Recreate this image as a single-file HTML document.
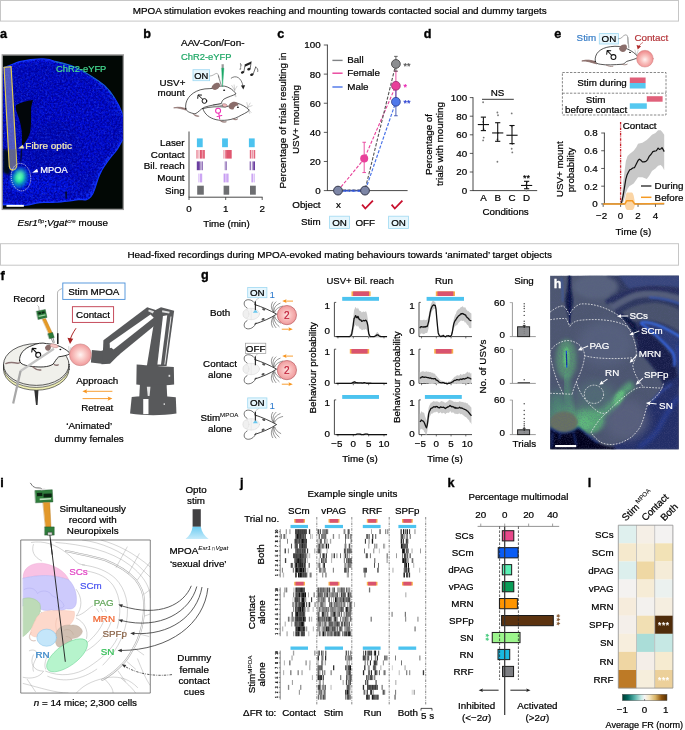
<!DOCTYPE html>
<html lang="en"><head><meta charset="utf-8"><title>MPOA stimulation figure</title>
<style>
html,body{margin:0;padding:0;background:#fff;}
body{width:685px;height:730px;overflow:hidden;}
svg{display:block;font-family:"Liberation Sans",sans-serif;font-size:9.8px;fill:#000;}
</style></head><body>
<svg width="685" height="730" viewBox="0 0 685 730">
<g id="p_titles">
<rect x="0.50" y="0.50" width="678.00" height="20.60" fill="#fff" stroke="#c6c6c6" stroke-width="1" />
<text x="339.70" y="13.90" text-anchor="middle" textLength="414.00" lengthAdjust="spacingAndGlyphs" stroke="#000" stroke-width="0.22">MPOA stimulation evokes reaching and mounting towards contacted social and dummy targets</text>
<rect x="0.50" y="243.70" width="678.00" height="21.50" fill="#fff" stroke="#c6c6c6" stroke-width="1" />
<text x="339.70" y="257.80" text-anchor="middle" textLength="424.60" lengthAdjust="spacingAndGlyphs" stroke="#000" stroke-width="0.22">Head-fixed recordings during MPOA-evoked mating behaviours towards ‘animated’ target objects</text>
<text x="0.00" y="38.00" font-size="12.60" font-weight="bold" stroke="#000" stroke-width="0.35">a</text>
<text x="143.20" y="37.90" font-size="12.60" font-weight="bold" stroke="#000" stroke-width="0.35">b</text>
<text x="277.30" y="37.70" font-size="12.60" font-weight="bold" stroke="#000" stroke-width="0.35">c</text>
<text x="423.70" y="37.90" font-size="12.60" font-weight="bold" stroke="#000" stroke-width="0.35">d</text>
<text x="554.20" y="37.70" font-size="12.60" font-weight="bold" stroke="#000" stroke-width="0.35">e</text>
<text x="0.40" y="280.10" font-size="12.60" font-weight="bold" stroke="#000" stroke-width="0.35">f</text>
<text x="200.90" y="279.40" font-size="12.60" font-weight="bold" stroke="#000" stroke-width="0.35">g</text>
<text x="0.20" y="486.70" font-size="12.60" font-weight="bold" stroke="#000" stroke-width="0.35">i</text>
<text x="239.90" y="486.70" font-size="12.60" font-weight="bold" stroke="#000" stroke-width="0.35">j</text>
<text x="447.40" y="486.70" font-size="12.60" font-weight="bold" stroke="#000" stroke-width="0.35">k</text>
<text x="587.70" y="486.70" font-size="12.60" font-weight="bold" stroke="#000" stroke-width="0.35">l</text>
</g>
<g id="p_a">
<defs><filter id="aBlur" x="-20%" y="-20%" width="140%" height="140%"><feGaussianBlur stdDeviation="14"/></filter><filter id="aBlur2" x="-50%" y="-50%" width="200%" height="200%"><feGaussianBlur stdDeviation="9"/></filter><filter id="aBlur3" x="-50%" y="-50%" width="200%" height="200%"><feGaussianBlur stdDeviation="4"/></filter><filter id="aNoise" x="0" y="0" width="100%" height="100%"><feTurbulence type="fractalNoise" baseFrequency="0.11" numOctaves="3" seed="3" result="n"/><feColorMatrix in="n" type="matrix" values="0 0 0 0 0  0 0 0 0 0  0 0 0 0 0.3  0 0 0 4 -1.6"/><feComposite in2="SourceGraphic" operator="in"/></filter><filter id="aNoiseL" x="0" y="0" width="100%" height="100%"><feTurbulence type="fractalNoise" baseFrequency="0.12" numOctaves="2" seed="9" result="n"/><feColorMatrix in="n" type="matrix" values="0 0 0 0 0.04  0 0 0 0 0.1  0 0 0 0 1  0 0 0 3.4 -1.7"/><feComposite in2="SourceGraphic" operator="in"/></filter><clipPath id="aBrain"><path d="M0 84 C30 76 60 62 87 53 C120 45 160 40 191 41 C215 42 232 47 243 52 C300 62 340 80 370 97 C410 120 440 140 461 158 C480 176 495 195 505 212 C520 235 532 260 541 284 C546 300 552 320 552 340 L552 380 C548 390 544 396 538 402 C530 416 524 428 516 440 C508 452 498 462 489 473 C478 486 470 498 461 512 C452 524 446 536 440 550 C434 562 430 574 426 588 C423 598 420 606 417.5 615 C413 628 408 640 401 648 C394 656 388 660 379.5 662 C370 662 360 659 352 659 C342 660 334 663 325 664 C305 667 290 668 271 670 C262 671 252 672 243 672 C215 676 190 668 160 676 C130 686 100 690 60 684 C40 682 20 682 0 684 Z"/></clipPath><clipPath id="aClip"><rect x="13" y="25" width="529.5" height="677"/></clipPath><radialGradient id="aGreen" cx="0.5" cy="0.5" r="0.5"><stop offset="0" stop-color="#4dffb4"/><stop offset="0.3" stop-color="#1fe0a0" stop-opacity="0.95"/><stop offset="0.65" stop-color="#0aa0d0" stop-opacity="0.55"/><stop offset="1" stop-color="#0a60ff" stop-opacity="0"/></radialGradient></defs>
<g transform="translate(0,50) scale(0.22609)">
<rect x="7.00" y="18.50" width="541.50" height="689.50" fill="#9c9c9c" />
<rect x="13.00" y="25.00" width="529.50" height="677.00" fill="#020805" />
<g clip-path="url(#aClip)">
<path d="M0 84 C30 76 60 62 87 53 C120 45 160 40 191 41 C215 42 232 47 243 52 C300 62 340 80 370 97 C410 120 440 140 461 158 C480 176 495 195 505 212 C520 235 532 260 541 284 C546 300 552 320 552 340 L552 380 C548 390 544 396 538 402 C530 416 524 428 516 440 C508 452 498 462 489 473 C478 486 470 498 461 512 C452 524 446 536 440 550 C434 562 430 574 426 588 C423 598 420 606 417.5 615 C413 628 408 640 401 648 C394 656 388 660 379.5 662 C370 662 360 659 352 659 C342 660 334 663 325 664 C305 667 290 668 271 670 C262 671 252 672 243 672 C215 676 190 668 160 676 C130 686 100 690 60 684 C40 682 20 682 0 684 Z" fill="#0614e4" />
<path d="M0 84 C30 76 60 62 87 53 C120 45 160 40 191 41 C215 42 232 47 243 52 C300 62 340 80 370 97 C410 120 440 140 461 158 C480 176 495 195 505 212 C520 235 532 260 541 284 C546 300 552 320 552 340 L552 380 C548 390 544 396 538 402 C530 416 524 428 516 440 C508 452 498 462 489 473 C478 486 470 498 461 512 C452 524 446 536 440 550 C434 562 430 574 426 588 C423 598 420 606 417.5 615 C413 628 408 640 401 648 C394 656 388 660 379.5 662 C370 662 360 659 352 659 C342 660 334 663 325 664 C305 667 290 668 271 670 C262 671 252 672 243 672 C215 676 190 668 160 676 C130 686 100 690 60 684 C40 682 20 682 0 684 Z" fill="none" stroke="#1236ff" stroke-width="8" />
<path d="M243 52 C300 62 340 80 370 97 C410 120 440 140 461 158 C480 176 495 195 505 212" fill="none" stroke="#1fa08a" stroke-width="4" opacity="0.85"/>
<g clip-path="url(#aBrain)">
<path d="M0 84 C30 76 60 62 87 53 C120 45 160 40 191 41 C215 42 232 47 243 52 C300 62 340 80 370 97 C410 120 440 140 461 158 C480 176 495 195 505 212 C520 235 532 260 541 284 C546 300 552 320 552 340 L552 380 C548 390 544 396 538 402 C530 416 524 428 516 440 C508 452 498 462 489 473 C478 486 470 498 461 512 C452 524 446 536 440 550 C434 562 430 574 426 588 C423 598 420 606 417.5 615 C413 628 408 640 401 648 C394 656 388 660 379.5 662 C370 662 360 659 352 659 C342 660 334 663 325 664 C305 667 290 668 271 670 C262 671 252 672 243 672 C215 676 190 668 160 676 C130 686 100 690 60 684 C40 682 20 682 0 684 Z" fill="#040cc2" transform="translate(14,16) scale(0.955)" filter="url(#aBlur2)"/>
<ellipse cx="330.00" cy="330.00" rx="170.00" ry="210.00" fill="#050ed4" filter="url(#aBlur)" opacity="0.8"/>
<ellipse cx="180.00" cy="600.00" rx="170.00" ry="50.00" fill="#0614ee" filter="url(#aBlur)" opacity="0.7"/>
<ellipse cx="230.00" cy="150.00" rx="160.00" ry="60.00" fill="#0610cc" filter="url(#aBlur)" opacity="0.6"/>
<ellipse cx="250.00" cy="430.00" rx="110.00" ry="120.00" fill="#040ab4" filter="url(#aBlur)" opacity="0.7"/>
<path d="M505 450 C470 490 440 540 420 590 C410 620 395 640 375 650" fill="none" stroke="#1234ff" stroke-width="14" filter="url(#aBlur3)" opacity="0.85"/>
<path d="M420 120 C460 160 500 220 520 290" fill="none" stroke="#0e2cf4" stroke-width="16" filter="url(#aBlur2)" opacity="0.7"/>
<path d="M0 84 C30 76 60 62 87 53 C120 45 160 40 191 41 C215 42 232 47 243 52 C300 62 340 80 370 97 C410 120 440 140 461 158 C480 176 495 195 505 212 C520 235 532 260 541 284 C546 300 552 320 552 340 L552 380 C548 390 544 396 538 402 C530 416 524 428 516 440 C508 452 498 462 489 473 C478 486 470 498 461 512 C452 524 446 536 440 550 C434 562 430 574 426 588 C423 598 420 606 417.5 615 C413 628 408 640 401 648 C394 656 388 660 379.5 662 C370 662 360 659 352 659 C342 660 334 663 325 664 C305 667 290 668 271 670 C262 671 252 672 243 672 C215 676 190 668 160 676 C130 686 100 690 60 684 C40 682 20 682 0 684 Z" fill="#000" filter="url(#aNoise)" opacity="0.8"/>
<path d="M0 84 C30 76 60 62 87 53 C120 45 160 40 191 41 C215 42 232 47 243 52 C300 62 340 80 370 97 C410 120 440 140 461 158 C480 176 495 195 505 212 C520 235 532 260 541 284 C546 300 552 320 552 340 L552 380 C548 390 544 396 538 402 C530 416 524 428 516 440 C508 452 498 462 489 473 C478 486 470 498 461 512 C452 524 446 536 440 550 C434 562 430 574 426 588 C423 598 420 606 417.5 615 C413 628 408 640 401 648 C394 656 388 660 379.5 662 C370 662 360 659 352 659 C342 660 334 663 325 664 C305 667 290 668 271 670 C262 671 252 672 243 672 C215 676 190 668 160 676 C130 686 100 690 60 684 C40 682 20 682 0 684 Z" fill="#fff" filter="url(#aNoiseL)" opacity="0.35"/>
</g>
<path d="M70 244 C92 230 120 224 146 221 C140 240 137 255 137 270 C138 300 138 330 134 360 C128 384 114 406 97 428 C98 400 98 372 95 350 C92 330 86 310 82 296 C76 280 68 262 70 244 Z" fill="#02060a" />
<path d="M97 426 C100 446 98 476 92 506 C88 476 90 446 97 426 Z" fill="#040a40" />
<path d="M13 440 C24 436 34 440 42 450 L46 540 C40 556 28 552 13 540 Z" fill="#03081a" filter="url(#aBlur3)"/>
<path d="M288 626 L297 626 L295 658 L290 658 Z" fill="#030a30" />
<path d="M18 77 L49 74 L74 505 C76 532 46 542 41 515 Z" fill="#7c84c6" stroke="#e2cc52" stroke-width="5.2" fill-opacity="0.66"/>
<path d="M42 440 L70 438 L73 505 C72 524 48 530 44 510 Z" fill="#6a6a70" opacity="0.6"/>
<ellipse cx="86.00" cy="566.00" rx="48.00" ry="58.00" fill="url(#aGreen)" transform="rotate(20 86 566)"/>
<ellipse cx="88.00" cy="552.00" rx="13.00" ry="20.00" fill="#7dffc0" filter="url(#aBlur2)" opacity="0.7" transform="rotate(25 88 552)"/>
<ellipse cx="92.70" cy="562.50" rx="43.00" ry="61.00" fill="none" stroke="#fff" stroke-width="3.2" stroke-dasharray="5 4.4" transform="rotate(-6 92.7 562.5)"/>
<path d="M80 436 L107 436 L100 419 Z" fill="#f3e6a0" />
<path d="M142 543 L169 541 L164 525 Z" fill="#fff" />
<rect x="28.50" y="685.00" width="77.00" height="8.50" fill="#fff" />
</g>
</g>
<text x="56.00" y="72.00" fill="#46dc92" textLength="50.30" lengthAdjust="spacingAndGlyphs" stroke="#46dc92" stroke-width="0.22">ChR2-eYFP</text>
<text x="25.30" y="149.20" fill="#f6ecb4" textLength="46.60" lengthAdjust="spacingAndGlyphs" stroke="#f6ecb4" stroke-width="0.22">Fibre optic</text>
<text x="40.20" y="173.30" fill="#fff" textLength="27.60" lengthAdjust="spacingAndGlyphs" stroke="#fff" stroke-width="0.22">MPOA</text>
<text x="17.60" y="226.20" stroke="#000" stroke-width="0.22"><tspan font-style="italic">Esr1</tspan><tspan font-style="italic" font-size="6.2" stroke-width="0.06" dy="-3.6">flp</tspan><tspan dy="3.6">;</tspan><tspan font-style="italic">Vgat</tspan><tspan font-style="italic" font-size="6.2" stroke-width="0.06" dy="-3.6">cre</tspan><tspan dy="3.6"> mouse</tspan></text>
</g>
<g id="p_b">
<text x="181.00" y="46.30" textLength="63.50" lengthAdjust="spacingAndGlyphs" stroke="#000" stroke-width="0.22">AAV-Con/Fon-</text>
<text x="181.00" y="59.60" fill="#1fa866" textLength="50.50" lengthAdjust="spacingAndGlyphs" stroke="#1fa866" stroke-width="0.22">ChR2-eYFP</text>
<text x="159.50" y="86.30" stroke="#000" stroke-width="0.22">USV+</text>
<text x="157.50" y="96.40" stroke="#000" stroke-width="0.22">mount</text>
<rect x="193.00" y="69.70" width="16.60" height="11.00" fill="#e6f6fd" stroke="#9fd9f2" stroke-width="0.8" />
<text x="201.30" y="78.80" font-size="9.40" text-anchor="middle" stroke="#000" stroke-width="0.22">ON</text>
<g transform="translate(170,55) scale(0.13139)" stroke-linecap="round" stroke-linejoin="round">
<path d="M122 408 C95 400 70 392 28 402 C60 400 95 412 124 420 Z" fill="#8a6d6a" stroke="#8a6d6a" stroke-width="5" />
<path d="M120 408 C110 350 150 290 230 265 C280 250 320 262 350 248 C380 232 420 232 450 250 C475 262 492 280 502 296 C480 310 440 318 410 336 C400 345 392 356 392 368 C360 376 300 384 262 398 C230 412 215 440 190 448 C150 440 125 430 120 408 Z" fill="#fff" stroke="#1a1a1a" stroke-width="5.4" />
<path d="M250 408 C300 392 370 392 420 396 C450 392 480 370 510 366 C545 376 580 396 604 420 C585 440 550 452 520 470 C470 496 400 504 350 492 C300 480 262 450 250 408 Z" fill="#fff" stroke="#1a1a1a" stroke-width="5.4" />
<path d="M180 452 C195 456 210 462 222 466 C205 470 188 464 180 452 Z" fill="#8a6d6a" stroke="#8a6d6a" stroke-width="4" />
<path d="M380 498 C395 506 415 510 430 508 C412 516 392 512 380 498 Z" fill="#8a6d6a" stroke="#8a6d6a" stroke-width="4" />
<path d="M480 486 C492 490 506 490 516 486 C506 496 490 496 480 486 Z" fill="#8a6d6a" stroke="#8a6d6a" stroke-width="4" />
<path d="M330 380 C360 376 390 380 420 392" fill="none" stroke="#222" stroke-width="4" />
<path d="M400 372 C415 368 430 372 436 384 C430 396 415 398 404 392 Z" fill="#f2b8bc" stroke="#5a3a3a" stroke-width="3" />
<path d="M316 250 C322 222 352 204 372 214 C384 224 384 240 372 250 C356 268 334 276 316 250 Z" fill="#8a6d6a" />
<path d="M446 396 C446 372 470 352 494 356 C512 360 524 372 520 384 C500 384 488 396 484 412 C468 420 450 412 446 396 Z" fill="#8a6d6a" />
<ellipse cx="412.00" cy="268.00" rx="8.00" ry="6.00" fill="#111" />
<ellipse cx="517.00" cy="398.00" rx="8.00" ry="6.00" fill="#111" />
<line x1="492.00" y1="268.00" x2="470.00" y2="232.00" stroke="#777" stroke-width="2.5" />
<line x1="492.00" y1="268.00" x2="488.00" y2="228.00" stroke="#777" stroke-width="2.5" />
<line x1="492.00" y1="268.00" x2="510.00" y2="238.00" stroke="#777" stroke-width="2.5" />
<line x1="492.00" y1="300.00" x2="505.00" y2="312.00" stroke="#777" stroke-width="2.5" />
<line x1="492.00" y1="300.00" x2="498.00" y2="318.00" stroke="#777" stroke-width="2.5" />
<line x1="592.00" y1="398.00" x2="585.00" y2="362.00" stroke="#777" stroke-width="2.5" />
<line x1="592.00" y1="398.00" x2="610.00" y2="366.00" stroke="#777" stroke-width="2.5" />
<line x1="592.00" y1="398.00" x2="625.00" y2="385.00" stroke="#777" stroke-width="2.5" />
<line x1="596.00" y1="420.00" x2="618.00" y2="436.00" stroke="#777" stroke-width="2.5" />
<line x1="596.00" y1="420.00" x2="606.00" y2="444.00" stroke="#777" stroke-width="2.5" />
<circle cx="262.00" cy="350.00" r="18.00" fill="none" stroke="#111" stroke-width="7.5" />
<path d="M249 337 L216 306 M211 330 L214 304 L240 305" fill="none" stroke="#111" stroke-width="7.5" />
<circle cx="366.00" cy="424.00" r="19.00" fill="none" stroke="#ee2fb4" stroke-width="8" />
<path d="M371 444 L378 484 M358 468 L394 461" fill="none" stroke="#ee2fb4" stroke-width="8" />
<path d="M392 70 L410 70 L408 110 L394 110 Z" fill="#999" stroke="none" />
<path d="M394 100 L410 100 L400 240 Z" fill="#18a866" stroke="#18a866" stroke-width="3" />
<path d="M368 158 L392 238" fill="none" stroke="#999" stroke-width="8" />
<path d="M304 160 C330 160 340 140 356 140 C368 142 368 156 372 170" fill="none" stroke="#444" stroke-width="3" />
<path d="M466 176 C500 150 545 170 556 238" fill="none" stroke="#222" stroke-width="4.5" />
<path d="M540 232 L558 262 L572 230 Z" fill="#222" />
<ellipse cx="552.00" cy="132.00" rx="13.00" ry="9.75" fill="#222" transform="rotate(-20 552 132)"/>
<line x1="562.00" y1="130.00" x2="572.00" y2="72.00" stroke="#222" stroke-width="5" />
<ellipse cx="600.00" cy="108.00" rx="13.00" ry="9.75" fill="#222" transform="rotate(-20 600 108)"/>
<line x1="610.00" y1="106.00" x2="618.00" y2="52.00" stroke="#222" stroke-width="5" />
<path d="M572 70 L618 50 L616 68 L570 90 Z" fill="#222" />
<ellipse cx="622.00" cy="150.00" rx="13.00" ry="9.75" fill="#222" transform="rotate(-20 622 150)"/>
<line x1="632.00" y1="148.00" x2="652.00" y2="92.00" stroke="#222" stroke-width="5" />
<path d="M652 92 C664 96 672 110 668 126" fill="none" stroke="#222" stroke-width="4.5" />
<path d="M536 66 L538 104 M536 66 C546 70 548 78 544 84" fill="none" stroke="#222" stroke-width="3" />
<ellipse cx="534.00" cy="106.00" rx="5.00" ry="4.00" fill="#222" />
</g>
<line x1="189.00" y1="131.50" x2="189.00" y2="197.20" stroke="#333" stroke-width="0.9" />
<line x1="188.60" y1="197.20" x2="262.60" y2="197.20" stroke="#333" stroke-width="0.9" />
<line x1="189.00" y1="197.20" x2="189.00" y2="200.00" stroke="#333" stroke-width="0.8" />
<line x1="225.70" y1="197.20" x2="225.70" y2="200.00" stroke="#333" stroke-width="0.8" />
<line x1="262.20" y1="197.20" x2="262.20" y2="200.00" stroke="#333" stroke-width="0.8" />
<text x="189.00" y="212.00" text-anchor="middle" stroke="#000" stroke-width="0.22">0</text>
<text x="225.70" y="212.00" text-anchor="middle" stroke="#000" stroke-width="0.22">1</text>
<text x="262.20" y="212.00" text-anchor="middle" stroke="#000" stroke-width="0.22">2</text>
<text x="226.50" y="227.00" text-anchor="middle" stroke="#000" stroke-width="0.22">Time (min)</text>
<text x="184.60" y="146.10" text-anchor="end" stroke="#000" stroke-width="0.22">Laser</text>
<text x="184.60" y="157.60" text-anchor="end" stroke="#000" stroke-width="0.22">Contact</text>
<text x="184.60" y="169.20" text-anchor="end" stroke="#000" stroke-width="0.22">Bil. reach</text>
<text x="184.60" y="181.40" text-anchor="end" stroke="#000" stroke-width="0.22">Mount</text>
<text x="184.60" y="193.60" text-anchor="end" stroke="#000" stroke-width="0.22">Sing</text>
<rect x="196.90" y="138.40" width="5.80" height="8.80" fill="#4cc3ef" />
<rect x="222.10" y="138.40" width="5.80" height="8.80" fill="#4cc3ef" />
<rect x="248.90" y="138.40" width="5.80" height="8.80" fill="#4cc3ef" />
<rect x="196.50" y="150.00" width="1.00" height="8.60" fill="#e0566f" opacity="1"/><rect x="198.30" y="150.00" width="0.60" height="8.60" fill="#e0566f" opacity="0.6"/><rect x="199.70" y="150.00" width="2.20" height="8.60" fill="#e0566f" opacity="1"/><rect x="202.30" y="150.00" width="2.60" height="8.60" fill="#e0566f" opacity="0.9"/>
<rect x="223.50" y="150.00" width="0.80" height="8.60" fill="#e0566f" opacity="0.8"/><rect x="224.90" y="150.00" width="1.00" height="8.60" fill="#e0566f" opacity="0.8"/><rect x="226.10" y="150.00" width="5.60" height="8.60" fill="#e0566f" opacity="1"/>
<rect x="249.80" y="150.00" width="1.60" height="8.60" fill="#e0566f" opacity="0.9"/><rect x="252.00" y="150.00" width="1.40" height="8.60" fill="#e0566f" opacity="0.6"/><rect x="253.80" y="150.00" width="1.40" height="8.60" fill="#e0566f" opacity="0.9"/>
<rect x="196.80" y="161.40" width="3.00" height="8.80" fill="#6b3fa0" opacity="1"/><rect x="199.80" y="161.40" width="1.20" height="8.80" fill="#6b3fa0" opacity="0.5"/><rect x="201.40" y="161.40" width="1.60" height="8.80" fill="#6b3fa0" opacity="0.7"/>
<rect x="224.60" y="161.40" width="0.60" height="8.80" fill="#6b3fa0" opacity="0.5"/><rect x="225.50" y="161.40" width="1.20" height="8.80" fill="#6b3fa0" opacity="0.9"/>
<rect x="249.60" y="161.40" width="1.40" height="8.80" fill="#6b3fa0" opacity="0.7"/><rect x="251.80" y="161.40" width="1.20" height="8.80" fill="#6b3fa0" opacity="0.5"/><rect x="253.20" y="161.40" width="1.80" height="8.80" fill="#6b3fa0" opacity="1"/>
<rect x="198.20" y="173.60" width="0.80" height="8.80" fill="#c79cf2" opacity="0.6"/><rect x="199.60" y="173.60" width="2.60" height="8.80" fill="#c79cf2" opacity="0.9"/>
<rect x="223.60" y="173.60" width="2.00" height="8.80" fill="#c79cf2" opacity="1"/><rect x="226.20" y="173.60" width="2.40" height="8.80" fill="#c79cf2" opacity="0.9"/>
<rect x="251.40" y="173.60" width="2.00" height="8.80" fill="#c79cf2" opacity="0.9"/><rect x="254.00" y="173.60" width="1.00" height="8.80" fill="#c79cf2" opacity="0.6"/>
<rect x="197.20" y="185.70" width="6.60" height="9.00" fill="#6d6e71" />
<rect x="223.60" y="185.70" width="5.60" height="9.00" fill="#6d6e71" />
<rect x="250.00" y="185.70" width="5.80" height="9.00" fill="#6d6e71" />
</g>
<g id="p_c">
<line x1="327.40" y1="44.60" x2="327.40" y2="191.00" stroke="#333" stroke-width="0.9" />
<line x1="327.40" y1="190.60" x2="407.60" y2="190.60" stroke="#333" stroke-width="0.9" />
<line x1="323.80" y1="190.60" x2="327.40" y2="190.60" stroke="#333" stroke-width="0.8" />
<text x="320.60" y="194.00" text-anchor="end" stroke="#000" stroke-width="0.22">0</text>
<line x1="323.80" y1="161.48" x2="327.40" y2="161.48" stroke="#333" stroke-width="0.8" />
<text x="320.60" y="164.88" text-anchor="end" stroke="#000" stroke-width="0.22">20</text>
<line x1="323.80" y1="132.36" x2="327.40" y2="132.36" stroke="#333" stroke-width="0.8" />
<text x="320.60" y="135.76" text-anchor="end" stroke="#000" stroke-width="0.22">40</text>
<line x1="323.80" y1="103.24" x2="327.40" y2="103.24" stroke="#333" stroke-width="0.8" />
<text x="320.60" y="106.64" text-anchor="end" stroke="#000" stroke-width="0.22">60</text>
<line x1="323.80" y1="74.12" x2="327.40" y2="74.12" stroke="#333" stroke-width="0.8" />
<text x="320.60" y="77.52" text-anchor="end" stroke="#000" stroke-width="0.22">80</text>
<line x1="323.80" y1="45.00" x2="327.40" y2="45.00" stroke="#333" stroke-width="0.8" />
<text x="320.60" y="48.40" text-anchor="end" stroke="#000" stroke-width="0.22">100</text>
<text x="285.80" y="120.50" text-anchor="middle" transform="rotate(-90 285.80 120.50)" textLength="136.00" lengthAdjust="spacingAndGlyphs" stroke="#000" stroke-width="0.22">Percentage of trials resulting in</text>
<text x="299.00" y="119.50" text-anchor="middle" transform="rotate(-90 299.00 119.50)" stroke="#000" stroke-width="0.22">USV+ mounting</text>
<line x1="332.40" y1="60.40" x2="342.60" y2="60.40" stroke="#808285" stroke-width="1.4" />
<text x="347.30" y="63.30" stroke="#000" stroke-width="0.22">Ball</text>
<line x1="332.40" y1="73.20" x2="342.60" y2="73.20" stroke="#e8409a" stroke-width="1.4" />
<text x="347.30" y="76.10" stroke="#000" stroke-width="0.22">Female</text>
<line x1="332.40" y1="87.00" x2="342.60" y2="87.00" stroke="#4a73e8" stroke-width="1.4" />
<text x="347.30" y="89.90" stroke="#000" stroke-width="0.22">Male</text>
<path d="M338.00 190.60 L364.20 158.86 L395.90 85.77" fill="none" stroke="#e8409a" stroke-width="1.1" stroke-dasharray="3.2 1.6"/>
<path d="M338.00 190.00 L365.00 190.00 L395.90 63.93" fill="none" stroke="#555" stroke-width="1.1" stroke-dasharray="3.2 1.6"/>
<path d="M338.00 191.20 L365.00 191.20 L395.90 101.78" fill="none" stroke="#4a73e8" stroke-width="1.2" stroke-dasharray="3.2 1.6"/>
<line x1="338.00" y1="190.60" x2="365.00" y2="190.60" stroke="#3050d0" stroke-width="1.6" stroke-dasharray="3.2 1.2 1 1.2"/>
<line x1="364.20" y1="172.55" x2="364.20" y2="142.26" stroke="#e8409a" stroke-width="0.9" /><line x1="362.40" y1="172.55" x2="366.00" y2="172.55" stroke="#e8409a" stroke-width="0.9" /><line x1="362.40" y1="142.26" x2="366.00" y2="142.26" stroke="#e8409a" stroke-width="0.9" />
<line x1="395.90" y1="98.87" x2="395.90" y2="71.21" stroke="#e8409a" stroke-width="0.9" /><line x1="394.10" y1="98.87" x2="397.70" y2="98.87" stroke="#e8409a" stroke-width="0.9" /><line x1="394.10" y1="71.21" x2="397.70" y2="71.21" stroke="#e8409a" stroke-width="0.9" />
<line x1="395.90" y1="71.21" x2="395.90" y2="56.36" stroke="#555" stroke-width="0.9" /><line x1="394.10" y1="71.21" x2="397.70" y2="71.21" stroke="#555" stroke-width="0.9" /><line x1="394.10" y1="56.36" x2="397.70" y2="56.36" stroke="#555" stroke-width="0.9" />
<line x1="395.90" y1="115.76" x2="395.90" y2="87.22" stroke="#3a4fb0" stroke-width="0.9" /><line x1="394.10" y1="115.76" x2="397.70" y2="115.76" stroke="#3a4fb0" stroke-width="0.9" /><line x1="394.10" y1="87.22" x2="397.70" y2="87.22" stroke="#3a4fb0" stroke-width="0.9" />
<circle cx="364.20" cy="158.56" r="4.00" fill="#e8409a" />
<circle cx="395.90" cy="85.77" r="4.40" fill="#e8409a" stroke="#8a2a6a" stroke-width="0.7" />
<circle cx="395.90" cy="63.93" r="4.40" fill="#8c8e91" stroke="#3a3a3a" stroke-width="0.8" />
<circle cx="395.90" cy="101.78" r="4.40" fill="#4f78ea" stroke="#2a3a8a" stroke-width="0.8" />
<circle cx="338.00" cy="190.60" r="4.40" fill="#7d86a6" stroke="#33364a" stroke-width="1.0" />
<circle cx="365.00" cy="190.60" r="4.40" fill="#7d86a6" stroke="#33364a" stroke-width="1.0" />
<text x="403.60" y="68.53" font-size="9.00" fill="#555" stroke="#555" stroke-width="0.22">**</text>
<text x="403.60" y="90.37" font-size="9.00" fill="#e820b0" stroke="#e820b0" stroke-width="0.22">*</text>
<text x="403.60" y="106.38" font-size="9.00" fill="#2a40d0" stroke="#2a40d0" stroke-width="0.22">**</text>
<text x="320.60" y="207.80" text-anchor="end" stroke="#000" stroke-width="0.22">Object</text>
<text x="338.40" y="207.60" text-anchor="middle" stroke="#000" stroke-width="0.22">x</text>
<path d="M362.10 204.70 l3.2 3.8 l7.6 -7.9" fill="none" stroke="#c8102e" stroke-width="1.8" stroke-linejoin="miter"/>
<path d="M391.60 204.70 l3.2 3.8 l7.6 -7.9" fill="none" stroke="#c8102e" stroke-width="1.8" stroke-linejoin="miter"/>
<text x="320.60" y="224.60" text-anchor="end" stroke="#000" stroke-width="0.22">Stim</text>
<rect x="329.60" y="216.20" width="19.80" height="12.40" fill="#e6f6fd" stroke="#9fd9f2" stroke-width="0.8" />
<text x="339.50" y="225.60" text-anchor="middle" stroke="#000" stroke-width="0.22">ON</text>
<text x="365.20" y="225.60" text-anchor="middle" stroke="#000" stroke-width="0.22">OFF</text>
<rect x="388.60" y="216.20" width="19.80" height="12.40" fill="#e6f6fd" stroke="#9fd9f2" stroke-width="0.8" />
<text x="398.50" y="225.60" text-anchor="middle" stroke="#000" stroke-width="0.22">ON</text>
</g>
<g id="p_d">
<line x1="473.00" y1="97.20" x2="473.00" y2="191.00" stroke="#333" stroke-width="0.9" />
<line x1="473.00" y1="190.60" x2="537.20" y2="190.60" stroke="#333" stroke-width="0.9" />
<line x1="469.80" y1="190.60" x2="473.00" y2="190.60" stroke="#333" stroke-width="0.8" />
<text x="467.20" y="194.00" text-anchor="end" stroke="#000" stroke-width="0.22">0</text>
<line x1="469.80" y1="172.00" x2="473.00" y2="172.00" stroke="#333" stroke-width="0.8" />
<text x="467.20" y="175.40" text-anchor="end" stroke="#000" stroke-width="0.22">20</text>
<line x1="469.80" y1="153.40" x2="473.00" y2="153.40" stroke="#333" stroke-width="0.8" />
<text x="467.20" y="156.80" text-anchor="end" stroke="#000" stroke-width="0.22">40</text>
<line x1="469.80" y1="134.80" x2="473.00" y2="134.80" stroke="#333" stroke-width="0.8" />
<text x="467.20" y="138.20" text-anchor="end" stroke="#000" stroke-width="0.22">60</text>
<line x1="469.80" y1="116.20" x2="473.00" y2="116.20" stroke="#333" stroke-width="0.8" />
<text x="467.20" y="119.60" text-anchor="end" stroke="#000" stroke-width="0.22">80</text>
<line x1="469.80" y1="97.60" x2="473.00" y2="97.60" stroke="#333" stroke-width="0.8" />
<text x="467.20" y="101.00" text-anchor="end" stroke="#000" stroke-width="0.22">100</text>
<text x="432.40" y="144.50" text-anchor="middle" transform="rotate(-90 432.40 144.50)" stroke="#000" stroke-width="0.22">Percentage of</text>
<text x="443.20" y="144.00" text-anchor="middle" transform="rotate(-90 443.20 144.00)" stroke="#000" stroke-width="0.22">trials with mounting</text>
<text x="483.40" y="200.60" text-anchor="middle" stroke="#000" stroke-width="0.22">A</text>
<text x="497.70" y="200.60" text-anchor="middle" stroke="#000" stroke-width="0.22">B</text>
<text x="512.00" y="200.60" text-anchor="middle" stroke="#000" stroke-width="0.22">C</text>
<text x="526.60" y="200.60" text-anchor="middle" stroke="#000" stroke-width="0.22">D</text>
<text x="505.60" y="215.40" text-anchor="middle" stroke="#000" stroke-width="0.22">Conditions</text>
<text x="497.60" y="95.60" text-anchor="middle" stroke="#000" stroke-width="0.22">NS</text>
<line x1="482.00" y1="99.30" x2="513.80" y2="99.30" stroke="#222" stroke-width="0.9" />
<circle cx="483.10" cy="102.25" r="0.90" fill="#7a7a7a" />
<circle cx="483.70" cy="137.59" r="0.90" fill="#7a7a7a" />
<circle cx="483.10" cy="140.38" r="0.90" fill="#7a7a7a" />
<circle cx="483.70" cy="129.22" r="0.90" fill="#7a7a7a" />
<circle cx="483.10" cy="121.78" r="0.90" fill="#7a7a7a" />
<line x1="483.40" y1="130.61" x2="483.40" y2="117.13" stroke="#111" stroke-width="1.1" />
<line x1="480.80" y1="130.61" x2="486.00" y2="130.61" stroke="#111" stroke-width="1.1" />
<line x1="480.80" y1="117.13" x2="486.00" y2="117.13" stroke="#111" stroke-width="1.1" />
<line x1="477.80" y1="124.57" x2="489.00" y2="124.57" stroke="#111" stroke-width="1.1" />
<circle cx="497.40" cy="112.48" r="0.90" fill="#7a7a7a" />
<circle cx="498.00" cy="115.27" r="0.90" fill="#7a7a7a" />
<circle cx="497.40" cy="161.77" r="0.90" fill="#7a7a7a" />
<circle cx="498.00" cy="132.94" r="0.90" fill="#7a7a7a" />
<circle cx="497.40" cy="139.45" r="0.90" fill="#7a7a7a" />
<line x1="497.70" y1="141.31" x2="497.70" y2="122.71" stroke="#111" stroke-width="1.1" />
<line x1="495.10" y1="141.31" x2="500.30" y2="141.31" stroke="#111" stroke-width="1.1" />
<line x1="495.10" y1="122.71" x2="500.30" y2="122.71" stroke="#111" stroke-width="1.1" />
<line x1="492.10" y1="132.94" x2="503.30" y2="132.94" stroke="#111" stroke-width="1.1" />
<circle cx="511.70" cy="113.41" r="0.90" fill="#7a7a7a" />
<circle cx="512.30" cy="144.10" r="0.90" fill="#7a7a7a" />
<circle cx="511.70" cy="148.75" r="0.90" fill="#7a7a7a" />
<circle cx="512.30" cy="152.47" r="0.90" fill="#7a7a7a" />
<circle cx="511.70" cy="126.43" r="0.90" fill="#7a7a7a" />
<line x1="512.00" y1="143.63" x2="512.00" y2="125.50" stroke="#111" stroke-width="1.1" />
<line x1="509.40" y1="143.63" x2="514.60" y2="143.63" stroke="#111" stroke-width="1.1" />
<line x1="509.40" y1="125.50" x2="514.60" y2="125.50" stroke="#111" stroke-width="1.1" />
<line x1="506.40" y1="135.26" x2="517.60" y2="135.26" stroke="#111" stroke-width="1.1" />
<circle cx="526.30" cy="190.60" r="0.90" fill="#7a7a7a" />
<circle cx="526.90" cy="182.23" r="0.90" fill="#7a7a7a" />
<circle cx="526.30" cy="185.02" r="0.90" fill="#7a7a7a" />
<circle cx="526.90" cy="187.81" r="0.90" fill="#7a7a7a" />
<line x1="526.60" y1="188.74" x2="526.60" y2="181.30" stroke="#111" stroke-width="1.1" />
<line x1="524.00" y1="188.74" x2="529.20" y2="188.74" stroke="#111" stroke-width="1.1" />
<line x1="524.00" y1="181.30" x2="529.20" y2="181.30" stroke="#111" stroke-width="1.1" />
<line x1="521.00" y1="185.48" x2="532.20" y2="185.48" stroke="#111" stroke-width="1.1" />
<text x="526.60" y="180.80" font-size="9.00" text-anchor="middle" stroke="#000" stroke-width="0.22">**</text>
</g>
<g id="p_e">
<text x="576.60" y="41.30" fill="#3a7fc8" stroke="#3a7fc8" stroke-width="0.22">Stim</text>
<rect x="599.30" y="33.60" width="19.20" height="10.40" fill="#e6f6fd" stroke="#9fd9f2" stroke-width="0.8" />
<text x="608.90" y="42.20" text-anchor="middle" stroke="#000" stroke-width="0.22">ON</text>
<text x="634.40" y="41.20" fill="#b5373c" stroke="#b5373c" stroke-width="0.22">Contact</text>
<defs><radialGradient id="ballG" cx="0.5" cy="0.55" r="0.5"><stop offset="0" stop-color="#fff1f0"/><stop offset="0.45" stop-color="#f9c3c0"/><stop offset="1" stop-color="#f08f90"/></radialGradient></defs>
<g transform="translate(545,25) scale(0.20437)" stroke-linecap="round" stroke-linejoin="round">
<path d="M250 180 C225 172 205 168 180 176 C205 174 228 184 252 190 Z" fill="#8a6d6a" stroke="#8a6d6a" stroke-width="4" />
<path d="M246 178 C240 140 270 112 320 106 C350 102 380 104 400 116 C425 126 445 142 458 158 C445 166 420 172 400 178 C392 184 388 190 380 192 C340 194 300 198 270 192 C255 190 248 186 246 178 Z" fill="#fff" stroke="#1a1a1a" stroke-width="3.6" />
<path d="M300 196 C310 202 322 204 332 202" fill="none" stroke="#8a6d6a" stroke-width="4" />
<path d="M378 192 C386 196 394 196 402 192" fill="none" stroke="#8a6d6a" stroke-width="4" />
<path d="M362 116 C366 100 384 92 398 98 C404 108 400 120 392 128 C382 136 368 132 362 116 Z" fill="#8a6d6a" />
<ellipse cx="416.00" cy="134.00" rx="4.50" ry="3.50" fill="#111" />
<line x1="448.00" y1="150.00" x2="440.00" y2="122.00" stroke="#777" stroke-width="1.6" />
<line x1="448.00" y1="150.00" x2="456.00" y2="124.00" stroke="#777" stroke-width="1.6" />
<line x1="448.00" y1="150.00" x2="466.00" y2="134.00" stroke="#777" stroke-width="1.6" />
<line x1="450.00" y1="160.00" x2="462.00" y2="172.00" stroke="#777" stroke-width="1.6" />
<circle cx="335.00" cy="157.00" r="12.00" fill="none" stroke="#111" stroke-width="5" />
<path d="M326 148 L305 127 M302 143 L304 125 L322 126" fill="none" stroke="#111" stroke-width="5" />
<path d="M360 68 C380 68 380 48 396 48 C408 50 404 70 406 90" fill="none" stroke="#444" stroke-width="2.2" />
<path d="M405 60 L410 112" fill="none" stroke="#aaa" stroke-width="6" />
<circle cx="489.00" cy="165.00" r="41.00" fill="url(#ballG)" stroke="#c97a7a" stroke-width="2" />
<path d="M478 86 C468 92 460 100 456 112" fill="none" stroke="#b02a2a" stroke-width="3" />
<path d="M448 98 L454 120 L470 104 Z" fill="#b02a2a" />
</g>
<rect x="562.40" y="72.50" width="103.60" height="42.50" fill="none" stroke="#555" stroke-width="0.7" stroke-dasharray="2.4 1.4"/>
<line x1="562.40" y1="93.20" x2="666.00" y2="93.20" stroke="#555" stroke-width="0.7" stroke-dasharray="2.4 1.4"/>
<text x="626.80" y="85.80" text-anchor="end" stroke="#000" stroke-width="0.22">Stim during</text>
<rect x="629.80" y="77.50" width="15.80" height="5.50" fill="#e0607a" />
<rect x="629.80" y="83.00" width="15.80" height="5.50" fill="#55c8f0" />
<text x="595.60" y="103.00" text-anchor="middle" stroke="#000" stroke-width="0.22">Stim</text>
<text x="627.20" y="112.60" text-anchor="end" stroke="#000" stroke-width="0.22">before contact</text>
<rect x="646.80" y="96.20" width="15.80" height="5.50" fill="#e0607a" />
<rect x="629.80" y="103.30" width="17.00" height="5.50" fill="#55c8f0" />
<line x1="604.40" y1="132.62" x2="604.40" y2="204.30" stroke="#333" stroke-width="0.9" />
<line x1="604.40" y1="203.90" x2="664.20" y2="203.90" stroke="#333" stroke-width="0.9" />
<line x1="601.20" y1="203.90" x2="604.40" y2="203.90" stroke="#333" stroke-width="0.8" />
<text x="597.80" y="207.30" text-anchor="end" stroke="#000" stroke-width="0.22">0</text>
<line x1="601.20" y1="186.18" x2="604.40" y2="186.18" stroke="#333" stroke-width="0.8" />
<text x="597.80" y="189.58" text-anchor="end" stroke="#000" stroke-width="0.22">0.2</text>
<line x1="601.20" y1="168.46" x2="604.40" y2="168.46" stroke="#333" stroke-width="0.8" />
<text x="597.80" y="171.86" text-anchor="end" stroke="#000" stroke-width="0.22">0.4</text>
<line x1="601.20" y1="150.74" x2="604.40" y2="150.74" stroke="#333" stroke-width="0.8" />
<text x="597.80" y="154.14" text-anchor="end" stroke="#000" stroke-width="0.22">0.6</text>
<line x1="601.20" y1="133.02" x2="604.40" y2="133.02" stroke="#333" stroke-width="0.8" />
<text x="597.80" y="136.42" text-anchor="end" stroke="#000" stroke-width="0.22">0.8</text>
<line x1="603.16" y1="203.90" x2="603.16" y2="206.90" stroke="#333" stroke-width="0.8" />
<text x="601.56" y="218.80" text-anchor="middle" stroke="#000" stroke-width="0.22">−2</text>
<line x1="620.60" y1="203.90" x2="620.60" y2="206.90" stroke="#333" stroke-width="0.8" />
<text x="620.60" y="218.80" text-anchor="middle" stroke="#000" stroke-width="0.22">0</text>
<line x1="638.04" y1="203.90" x2="638.04" y2="206.90" stroke="#333" stroke-width="0.8" />
<text x="638.04" y="218.80" text-anchor="middle" stroke="#000" stroke-width="0.22">2</text>
<line x1="655.48" y1="203.90" x2="655.48" y2="206.90" stroke="#333" stroke-width="0.8" />
<text x="655.48" y="218.80" text-anchor="middle" stroke="#000" stroke-width="0.22">4</text>
<text x="633.40" y="234.60" text-anchor="middle" stroke="#000" stroke-width="0.22">Time (s)</text>
<text x="562.60" y="169.20" text-anchor="middle" transform="rotate(-90 562.60 169.20)" stroke="#000" stroke-width="0.22">USV+ mount</text>
<text x="574.00" y="170.00" text-anchor="middle" transform="rotate(-90 574.00 170.00)" stroke="#000" stroke-width="0.22">probability</text>
<path d="M620.60 203.90 L621.91 196.81 L623.22 181.75 L625.83 161.37 L627.58 156.06 L629.32 154.28 L633.68 150.74 L636.30 147.20 L638.04 143.65 L642.40 142.77 L646.76 140.11 L649.38 137.45 L651.99 134.79 L655.48 133.02 L658.10 130.36 L660.71 130.36 L662.46 132.13 L664.20 134.79 L664.20 170.23 L662.46 166.69 L660.71 164.92 L658.10 165.80 L655.48 168.46 L651.99 171.12 L649.38 175.55 L646.76 179.09 L642.40 177.32 L638.04 177.32 L633.68 183.52 L629.32 186.18 L627.58 188.84 L625.83 193.27 L624.09 200.36 L622.34 203.90 L620.60 203.90 Z" fill="#c8c8c8" />
<path d="M624.52 203.90 C625.83 192.38 626.70 192.38 627.58 192.38 L631.94 192.38 C633.68 193.27 634.55 199.47 634.99 203.90 Z" fill="#fbd5a5" />
<path d="M624.52 203.90 L634.99 203.90 C634.55 208.33 632.81 210.10 631.94 210.10 L627.58 210.10 C626.27 210.10 625.40 208.33 624.52 203.90 Z" fill="#fbd5a5" />
<line x1="620.60" y1="122.00" x2="620.60" y2="203.90" stroke="#c8202a" stroke-width="1.3" stroke-dasharray="2.6 1 0.8 1"/>
<text x="622.80" y="129.40" stroke="#000" stroke-width="0.22">Contact</text>
<path d="M620.60 203.90 L621.91 201.24 L623.22 195.04 L624.52 187.07 L625.83 179.09 L627.14 174.66 L628.45 172.00 L629.76 169.79 L631.06 169.35 L632.81 168.02 L634.55 167.57 L636.30 164.03 L638.04 160.49 L639.35 159.16 L640.66 160.04 L642.40 161.81 L644.14 161.81 L645.89 161.37 L647.63 159.60 L649.38 156.06 L651.12 154.28 L652.86 151.63 L654.61 151.18 L656.35 150.74 L658.10 148.08 L659.40 149.41 L660.71 148.97 L662.02 147.64 L663.33 149.85 L664.20 151.63" fill="none" stroke="#111" stroke-width="1.2" stroke-linejoin="round"/>
<path d="M603.16 203.90 L624.96 203.90 L626.70 200.80 L632.37 200.80 L634.55 203.90 L664.20 203.46" fill="none" stroke="#f59a23" stroke-width="1.5" stroke-linejoin="round"/>
<line x1="641.00" y1="186.00" x2="651.40" y2="186.00" stroke="#111" stroke-width="1.2" />
<text x="654.60" y="189.40" stroke="#000" stroke-width="0.22">During</text>
<line x1="641.00" y1="197.30" x2="651.40" y2="197.30" stroke="#f59a23" stroke-width="1.5" />
<text x="654.60" y="200.60" stroke="#000" stroke-width="0.22">Before</text>
</g>
<g id="p_f">
<defs><radialGradient id="ballF" cx="0.5" cy="0.5" r="0.5"><stop offset="0" stop-color="#fff4f3"/><stop offset="0.4" stop-color="#fbd0cd"/><stop offset="1" stop-color="#f19a9b"/></radialGradient></defs>
<text x="13.20" y="302.00" stroke="#000" stroke-width="0.22">Record</text>
<rect x="62.80" y="283.00" width="62.20" height="16.40" fill="#fff" stroke="#4a90d9" stroke-width="0.9" />
<text x="93.80" y="294.70" text-anchor="middle" stroke="#000" stroke-width="0.22">Stim MPOA</text>
<rect x="72.40" y="306.70" width="41.20" height="15.70" fill="#fff" stroke="#c0394b" stroke-width="0.9" />
<text x="93.00" y="317.60" text-anchor="middle" stroke="#000" stroke-width="0.22">Contact</text>
<text x="97.30" y="384.20" text-anchor="middle" stroke="#000" stroke-width="0.22">Approach</text>
<text x="97.30" y="411.00" text-anchor="middle" stroke="#000" stroke-width="0.22">Retreat</text>
<text x="89.20" y="429.40" text-anchor="middle" stroke="#000" stroke-width="0.22">‘Animated’</text>
<text x="89.20" y="441.60" text-anchor="middle" stroke="#000" stroke-width="0.22">dummy females</text>
<line x1="85.00" y1="391.30" x2="112.40" y2="391.30" stroke="#f7941d" stroke-width="0.9" />
<path d="M82.4 391.3 L87.2 389.2 L86.2 391.3 L87.2 393.4 Z" fill="#f7941d" />
<line x1="82.60" y1="398.60" x2="109.60" y2="398.60" stroke="#f7941d" stroke-width="0.9" />
<path d="M112.4 398.6 L107.6 396.5 L108.6 398.6 L107.6 400.7 Z" fill="#f7941d" />
<g transform="translate(85,300) scale(0.16447)" stroke-linejoin="round">
<path d="M432 60 L462 44 L542 66 L496 402 L376 402 Z" fill="#58595b" />
<path d="M474 98 L500 92 L462 392 L440 392 Z" fill="#fff" />
<path d="M520 100 L526 100 L488 392 L482 392 Z" fill="#fff" opacity="0.85"/>
<path d="M470 62 L515 72 L512 82 L468 74 Z" fill="#fff" opacity="0.8"/>
<path d="M378 44 L434 62 L442 140 L205 335 L160 365 L108 335 L112 244 Z" fill="#58595b" />
<path d="M150 262 L398 88 L418 108 L170 304 L152 312 Z" fill="#fff" />
<path d="M388 58 L420 68 L412 82 L384 68 Z" fill="#fff" opacity="0.8"/>
<path d="M100 308 L160 290 L210 330 L152 388 L100 390 Z" fill="#58595b" />
<path d="M42 304 L104 310 L110 372 L150 360 L152 380 L100 388 L36 380 Z" fill="#58595b" />
<path d="M314 392 C380 398 470 402 540 408 L542 514 C470 522 380 522 312 514 Z" fill="#58595b" />
<rect x="508.00" y="455.00" width="10.00" height="12.00" fill="#fff" opacity="0.8"/>
<path d="M334 512 L496 512 L500 592 L330 592 Z" fill="#58595b" />
<path d="M376 528 L398 528 L392 590 L382 590 Z" fill="#fff" opacity="0.85"/>
<path d="M284 590 C370 582 470 582 552 592 L556 690 C470 704 360 704 274 690 Z" fill="#58595b" />
<rect x="354.00" y="602.00" width="32.00" height="92.00" fill="#fff" />
<rect x="478.00" y="628.00" width="8.00" height="10.00" fill="#fff" opacity="0.8"/>
</g>
<g transform="translate(0,290) scale(0.16059)" stroke-linecap="round" stroke-linejoin="round">
<path d="M212 610 L240 610 L234 716 L224 716 Z" fill="#333" />
<ellipse cx="226.00" cy="494.00" rx="204.00" ry="130.00" fill="#eeeeb4" stroke="#222" stroke-width="4" />
<ellipse cx="226.00" cy="477.00" rx="204.00" ry="130.00" fill="#ebebe6" stroke="#222" stroke-width="3.5" />
<ellipse cx="226.00" cy="464.00" rx="204.00" ry="130.00" fill="#f0f0eb" stroke="#222" stroke-width="4.5" />
<path d="M22 464 L22 494 M430 464 L430 494" fill="none" stroke="#222" stroke-width="4" />
<path d="M36 458 C60 448 90 452 110 456 C122 458 128 450 132 442" fill="none" stroke="#8c7474" stroke-width="9" />
<path d="M122 440 C118 400 150 362 200 346 C230 332 262 326 290 334 C330 336 372 346 400 366 C420 378 432 388 436 396 C420 408 392 412 366 416 C350 428 342 448 330 462 C300 482 250 482 200 476 C160 470 126 466 122 440 Z" fill="#fff" stroke="#1a1a1a" stroke-width="5.5" />
<path d="M205 480 C220 494 238 500 254 498" fill="none" stroke="#8c7474" stroke-width="9" />
<path d="M338 464 C346 470 354 470 362 466" fill="none" stroke="#8c7474" stroke-width="9" />
<path d="M280 360 C284 344 300 336 314 344 C322 356 316 372 304 378 C292 382 282 374 280 360 Z" fill="#8a6d6a" />
<ellipse cx="338.00" cy="348.00" rx="26.00" ry="11.00" fill="#f7c6c4" stroke="#b07a78" stroke-width="2.5" transform="rotate(12 338 348)"/>
<ellipse cx="376.00" cy="370.00" rx="6.00" ry="4.50" fill="#111" />
<line x1="430.00" y1="388.00" x2="428.00" y2="352.00" stroke="#777" stroke-width="2" />
<line x1="430.00" y1="388.00" x2="442.00" y2="358.00" stroke="#777" stroke-width="2" />
<line x1="432.00" y1="398.00" x2="446.00" y2="414.00" stroke="#777" stroke-width="2" />
<circle cx="238.00" cy="404.00" r="15.50" fill="none" stroke="#111" stroke-width="7" />
<path d="M228 392 L204 366 M198 386 L201 363 L224 365" fill="none" stroke="#111" stroke-width="7" />
<path d="M126 506 L336 366" fill="none" stroke="#c4c4c4" stroke-width="14" stroke-linecap="butt"/>
<path d="M128 504 L82 706" fill="none" stroke="#a8a8a8" stroke-width="14" stroke-linecap="butt"/>
<g transform="rotate(-12 260 152)">
<rect x="232.00" y="126.00" width="56.00" height="52.00" fill="#2c7a3c" stroke="#1a4a26" stroke-width="2" />
<rect x="240.00" y="136.00" width="16.00" height="12.00" fill="#0e2a16" />
<rect x="262.00" y="136.00" width="18.00" height="12.00" fill="#0e2a16" />
<rect x="238.00" y="156.00" width="44.00" height="8.00" fill="#9fd3a4" />
</g>
<path d="M244 126 C240 112 246 106 236 98" fill="none" stroke="#444" stroke-width="2.5" />
<path d="M264 182 L284 178 L326 268 L306 274 Z" fill="#e59a26" stroke="#a86a12" stroke-width="2" />
<path d="M298 272 L328 264 L338 296 L308 304 Z" fill="#2c7a3c" stroke="#1a4a26" stroke-width="2" />
<path d="M318 300 L332 330 M330 298 L338 326" fill="none" stroke="#222" stroke-width="3" />
<path d="M358 334 L358 20 C358 6 366 0 384 -8" fill="none" stroke="#444" stroke-width="2.5" />
<path d="M360 270 L360 336" fill="none" stroke="#111" stroke-width="9" stroke-linecap="butt"/>
<path d="M472 240 C452 270 440 292 436 316" fill="none" stroke="#a82020" stroke-width="6" />
<path d="M420 298 L436 336 L456 304 Z" fill="#a82020" />
</g>
<circle cx="80.40" cy="354.80" r="10.90" fill="url(#ballF)" stroke="#c98a8a" stroke-width="0.6" />
</g>
<g id="p_g">
<defs><radialGradient id="ballG2" cx="0.5" cy="0.5" r="0.5"><stop offset="0" stop-color="#fde4e2"/><stop offset="0.5" stop-color="#f8bcbb"/><stop offset="1" stop-color="#f09a9c"/></radialGradient></defs>
<text x="220.00" y="316.20" text-anchor="middle" stroke="#000" stroke-width="0.22">Both</text>
<text x="220.00" y="367.20" text-anchor="middle" stroke="#000" stroke-width="0.22">Contact</text>
<text x="220.00" y="378.20" text-anchor="middle" stroke="#000" stroke-width="0.22">alone</text>
<text x="200.50" y="420.60" stroke="#000" stroke-width="0.22">Stim<tspan font-size="6.2" stroke-width="0.06" dy="-3.8">MPOA</tspan></text>
<text x="220.00" y="431.50" text-anchor="middle" stroke="#000" stroke-width="0.22">alone</text>
<g transform="translate(195.00,265.00) scale(0.16059)" stroke-linecap="round" stroke-linejoin="round">
<ellipse cx="350.00" cy="305.00" rx="52.00" ry="36.00" fill="#f4f4f4" stroke="#cfcfcf" stroke-width="2.5" />
<ellipse cx="318.00" cy="305.00" rx="18.00" ry="26.00" fill="#f0f0f0" stroke="#d4d4d4" stroke-width="2" />
<path d="M350 270 L350 340" fill="none" stroke="#d8d8d8" stroke-width="2" />
<path d="M380 252 C372 226 340 208 316 220 C300 232 304 258 324 268" fill="none" stroke="#222" stroke-width="4" />
<path d="M380 360 C372 388 340 406 316 394 C300 382 304 356 324 346" fill="none" stroke="#222" stroke-width="4" />
<path d="M372 246 C420 262 470 284 508 306 C470 332 420 352 372 368" fill="none" stroke="#1a1a1a" stroke-width="5.2" />
<ellipse cx="428.00" cy="276.00" rx="10.00" ry="7.00" fill="#555" transform="rotate(25 428 276)"/>
<ellipse cx="424.00" cy="338.00" rx="10.00" ry="7.00" fill="#555" transform="rotate(-25 424 338)"/>
<path d="M488 292 C472 270 472 246 484 230" fill="none" stroke="#222" stroke-width="3.0" />
<path d="M490 292 C480 268 486 246 504 230" fill="none" stroke="#222" stroke-width="3.0" />
<path d="M493 290 C488 268 504 248 530 238" fill="none" stroke="#222" stroke-width="3.0" />
<path d="M497 292 C500 276 520 262 546 256" fill="none" stroke="#222" stroke-width="3.0" />
<path d="M488 322 C472 344 472 368 484 388" fill="none" stroke="#222" stroke-width="3.0" />
<path d="M490 322 C480 346 486 368 504 390" fill="none" stroke="#222" stroke-width="3.0" />
<path d="M493 324 C488 346 504 366 524 384" fill="none" stroke="#222" stroke-width="3.0" />
<path d="M497 322 C500 338 514 352 534 362" fill="none" stroke="#222" stroke-width="3.0" />
<path d="M376 226 L376 282" fill="none" stroke="#222" stroke-width="7" stroke-linecap="butt"/>
<path d="M372 282 L380 282 L392 298 L360 298 Z" fill="#6cc8ee" />
<path d="M376 226 C378 214 392 212 400 204" fill="none" stroke="#666" stroke-width="2" />
</g>
<circle cx="286.90" cy="315.10" r="9.60" fill="url(#ballG2)" stroke="#b85a5e" stroke-width="0.7" />
<text x="286.90" y="318.80" font-size="10.00" text-anchor="middle" fill="#c0203a" stroke="#c0203a" stroke-width="0.22">2</text>
<line x1="285.00" y1="301.10" x2="293.00" y2="301.10" stroke="#f7941d" stroke-width="0.9" />
<path d="M282.20 301.10 l4.4 -1.9 l-0.9 1.9 l0.9 1.9 Z" fill="#f7941d" />
<line x1="281.80" y1="329.20" x2="290.00" y2="329.20" stroke="#f7941d" stroke-width="0.9" />
<path d="M292.80 329.20 l-4.4 -1.9 l0.9 1.9 l-0.9 1.9 Z" fill="#f7941d" />
<rect x="247.70" y="287.50" width="19.20" height="10.20" fill="#e6f6fd" stroke="#9fd9f2" stroke-width="0.8" />
<text x="257.30" y="295.90" text-anchor="middle" stroke="#000" stroke-width="0.22">ON</text>
<text x="269.40" y="298.40" fill="#2a78cc" stroke="none">1</text>
<g transform="translate(195.00,320.00) scale(0.16059)" stroke-linecap="round" stroke-linejoin="round">
<ellipse cx="350.00" cy="305.00" rx="52.00" ry="36.00" fill="#f4f4f4" stroke="#cfcfcf" stroke-width="2.5" />
<ellipse cx="318.00" cy="305.00" rx="18.00" ry="26.00" fill="#f0f0f0" stroke="#d4d4d4" stroke-width="2" />
<path d="M350 270 L350 340" fill="none" stroke="#d8d8d8" stroke-width="2" />
<path d="M380 252 C372 226 340 208 316 220 C300 232 304 258 324 268" fill="none" stroke="#222" stroke-width="4" />
<path d="M380 360 C372 388 340 406 316 394 C300 382 304 356 324 346" fill="none" stroke="#222" stroke-width="4" />
<path d="M372 246 C420 262 470 284 508 306 C470 332 420 352 372 368" fill="none" stroke="#1a1a1a" stroke-width="5.2" />
<ellipse cx="428.00" cy="276.00" rx="10.00" ry="7.00" fill="#555" transform="rotate(25 428 276)"/>
<ellipse cx="424.00" cy="338.00" rx="10.00" ry="7.00" fill="#555" transform="rotate(-25 424 338)"/>
<path d="M488 292 C472 270 472 246 484 230" fill="none" stroke="#222" stroke-width="3.0" />
<path d="M490 292 C480 268 486 246 504 230" fill="none" stroke="#222" stroke-width="3.0" />
<path d="M493 290 C488 268 504 248 530 238" fill="none" stroke="#222" stroke-width="3.0" />
<path d="M497 292 C500 276 520 262 546 256" fill="none" stroke="#222" stroke-width="3.0" />
<path d="M488 322 C472 344 472 368 484 388" fill="none" stroke="#222" stroke-width="3.0" />
<path d="M490 322 C480 346 486 368 504 390" fill="none" stroke="#222" stroke-width="3.0" />
<path d="M493 324 C488 346 504 366 524 384" fill="none" stroke="#222" stroke-width="3.0" />
<path d="M497 322 C500 338 514 352 534 362" fill="none" stroke="#222" stroke-width="3.0" />
<path d="M376 226 L376 282" fill="none" stroke="#222" stroke-width="7" stroke-linecap="butt"/>
<path d="M376 226 C378 214 392 212 400 204" fill="none" stroke="#666" stroke-width="2" />
</g>
<circle cx="286.90" cy="370.10" r="9.60" fill="url(#ballG2)" stroke="#b85a5e" stroke-width="0.7" />
<text x="286.90" y="373.80" font-size="10.00" text-anchor="middle" fill="#c0203a" stroke="#c0203a" stroke-width="0.22">2</text>
<line x1="285.00" y1="356.10" x2="293.00" y2="356.10" stroke="#f7941d" stroke-width="0.9" />
<path d="M282.20 356.10 l4.4 -1.9 l-0.9 1.9 l0.9 1.9 Z" fill="#f7941d" />
<line x1="281.80" y1="384.20" x2="290.00" y2="384.20" stroke="#f7941d" stroke-width="0.9" />
<path d="M292.80 384.20 l-4.4 -1.9 l0.9 1.9 l-0.9 1.9 Z" fill="#f7941d" />
<rect x="245.40" y="343.20" width="20.40" height="10.20" fill="#fff" stroke="#9a9a9a" stroke-width="0.7" />
<text x="255.60" y="351.60" text-anchor="middle" stroke="#000" stroke-width="0.22">OFF</text>
<g transform="translate(195.00,375.40) scale(0.16059)" stroke-linecap="round" stroke-linejoin="round">
<ellipse cx="350.00" cy="305.00" rx="52.00" ry="36.00" fill="#f4f4f4" stroke="#cfcfcf" stroke-width="2.5" />
<ellipse cx="318.00" cy="305.00" rx="18.00" ry="26.00" fill="#f0f0f0" stroke="#d4d4d4" stroke-width="2" />
<path d="M350 270 L350 340" fill="none" stroke="#d8d8d8" stroke-width="2" />
<path d="M380 252 C372 226 340 208 316 220 C300 232 304 258 324 268" fill="none" stroke="#222" stroke-width="4" />
<path d="M380 360 C372 388 340 406 316 394 C300 382 304 356 324 346" fill="none" stroke="#222" stroke-width="4" />
<path d="M372 246 C420 262 470 284 508 306 C470 332 420 352 372 368" fill="none" stroke="#1a1a1a" stroke-width="5.2" />
<ellipse cx="428.00" cy="276.00" rx="10.00" ry="7.00" fill="#555" transform="rotate(25 428 276)"/>
<ellipse cx="424.00" cy="338.00" rx="10.00" ry="7.00" fill="#555" transform="rotate(-25 424 338)"/>
<path d="M488 292 C472 270 472 246 484 230" fill="none" stroke="#222" stroke-width="3.0" />
<path d="M490 292 C480 268 486 246 504 230" fill="none" stroke="#222" stroke-width="3.0" />
<path d="M493 290 C488 268 504 248 530 238" fill="none" stroke="#222" stroke-width="3.0" />
<path d="M497 292 C500 276 520 262 546 256" fill="none" stroke="#222" stroke-width="3.0" />
<path d="M488 322 C472 344 472 368 484 388" fill="none" stroke="#222" stroke-width="3.0" />
<path d="M490 322 C480 346 486 368 504 390" fill="none" stroke="#222" stroke-width="3.0" />
<path d="M493 324 C488 346 504 366 524 384" fill="none" stroke="#222" stroke-width="3.0" />
<path d="M497 322 C500 338 514 352 534 362" fill="none" stroke="#222" stroke-width="3.0" />
<path d="M376 226 L376 282" fill="none" stroke="#222" stroke-width="7" stroke-linecap="butt"/>
<path d="M372 282 L380 282 L392 298 L360 298 Z" fill="#6cc8ee" />
<path d="M376 226 C378 214 392 212 400 204" fill="none" stroke="#666" stroke-width="2" />
</g>
<rect x="247.70" y="397.90" width="19.20" height="10.20" fill="#e6f6fd" stroke="#9fd9f2" stroke-width="0.8" />
<text x="257.30" y="406.30" text-anchor="middle" stroke="#000" stroke-width="0.22">ON</text>
<text x="269.40" y="408.80" fill="#2a78cc" stroke="none">1</text>
<text x="360.20" y="283.80" text-anchor="middle" textLength="67.50" lengthAdjust="spacingAndGlyphs" stroke="#000" stroke-width="0.22">USV+ Bil. reach</text>
<text x="443.90" y="283.80" text-anchor="middle" stroke="#000" stroke-width="0.22">Run</text>
<text x="524.00" y="283.80" text-anchor="middle" stroke="#000" stroke-width="0.22">Sing</text>
<text x="315.60" y="367.80" text-anchor="middle" transform="rotate(-90 315.60 367.80)" stroke="#000" stroke-width="0.22">Behaviour probability</text>
<text x="399.80" y="377.20" text-anchor="middle" transform="rotate(-90 399.80 377.20)" stroke="#000" stroke-width="0.22">Behaviour probability</text>
<text x="486.00" y="366.60" text-anchor="middle" transform="rotate(-90 486.00 366.60)" stroke="#000" stroke-width="0.22">No. of USVs</text>
<line x1="334.40" y1="302.40" x2="334.40" y2="336.60" stroke="#333" stroke-width="0.9" />
<line x1="334.40" y1="302.40" x2="336.20" y2="302.40" stroke="#333" stroke-width="0.8" />
<line x1="334.40" y1="336.60" x2="384.40" y2="336.60" stroke="#333" stroke-width="0.9" />
<line x1="337.95" y1="336.60" x2="337.95" y2="338.40" stroke="#333" stroke-width="0.7" />
<line x1="353.30" y1="336.60" x2="353.30" y2="338.40" stroke="#333" stroke-width="0.7" />
<line x1="368.65" y1="336.60" x2="368.65" y2="338.40" stroke="#333" stroke-width="0.7" />
<line x1="384.00" y1="336.60" x2="384.00" y2="338.40" stroke="#333" stroke-width="0.7" />
<text x="327.20" y="308.60" text-anchor="middle" stroke="#000" stroke-width="0.22">1</text>
<text x="327.20" y="334.00" text-anchor="middle" stroke="#000" stroke-width="0.22">0</text>
<path d="M336.42 336.60 L337.18 336.58 L337.95 336.56 L338.72 336.53 L339.49 336.51 L340.25 336.49 L341.02 336.47 L341.79 336.45 L342.56 336.42 L343.32 336.40 L344.09 336.38 L344.86 336.36 L345.62 336.34 L346.39 336.31 L347.16 336.29 L347.93 336.27 L348.69 335.96 L349.46 335.21 L350.23 334.12 L351.00 332.80 L351.76 329.16 L352.53 323.26 L353.30 317.02 L354.07 310.35 L354.84 308.43 L355.60 306.70 L356.37 308.27 L357.14 308.90 L357.91 307.45 L358.67 309.26 L359.44 310.72 L360.21 310.92 L360.98 311.31 L361.74 312.45 L362.51 312.10 L363.28 311.59 L364.05 311.77 L364.81 311.93 L365.58 311.21 L366.35 311.80 L367.12 314.40 L367.88 319.85 L368.65 329.08 L369.42 332.78 L370.19 335.63 L370.95 336.22 L371.72 336.14 L372.49 336.07 L373.25 336.00 L374.02 335.93 L374.79 335.10 L375.56 334.07 L376.32 333.01 L377.09 331.90 L377.86 332.17 L378.63 333.39 L379.39 334.45 L380.16 335.20 L380.93 335.92 L381.70 336.34 L382.47 336.60 L383.23 336.60 L384.00 336.60 L384.77 336.60 L385.54 336.60 L386.30 336.60 L387.07 336.60 L387.07 336.60 L386.30 336.60 L385.54 336.60 L384.77 336.60 L384.00 336.60 L383.23 336.60 L382.47 336.60 L381.70 336.86 L380.93 337.28 L380.16 337.28 L379.39 337.28 L378.63 337.28 L377.86 337.28 L377.09 337.28 L376.32 337.28 L375.56 337.28 L374.79 337.28 L374.02 337.27 L373.25 337.20 L372.49 337.13 L371.72 337.06 L370.95 336.98 L370.19 337.28 L369.42 337.28 L368.65 337.28 L367.88 332.05 L367.12 330.59 L366.35 329.59 L365.58 328.99 L364.81 329.71 L364.05 329.55 L363.28 329.38 L362.51 329.89 L361.74 330.23 L360.98 329.09 L360.21 328.70 L359.44 328.51 L358.67 327.05 L357.91 325.23 L357.14 326.69 L356.37 326.06 L355.60 324.48 L354.84 326.22 L354.07 326.77 L353.30 332.07 L352.53 335.32 L351.76 337.28 L351.00 337.28 L350.23 337.28 L349.46 337.28 L348.69 337.24 L347.93 336.93 L347.16 336.91 L346.39 336.89 L345.62 336.86 L344.86 336.84 L344.09 336.82 L343.32 336.80 L342.56 336.78 L341.79 336.75 L341.02 336.73 L340.25 336.71 L339.49 336.69 L338.72 336.67 L337.95 336.64 L337.18 336.62 L336.42 336.60 Z" fill="#c9c9c9" /><path d="M336.42 336.60 L337.18 336.60 L337.95 336.60 L338.72 336.60 L339.49 336.60 L340.25 336.60 L341.02 336.60 L341.79 336.60 L342.56 336.60 L343.32 336.60 L344.09 336.60 L344.86 336.60 L345.62 336.60 L346.39 336.60 L347.16 336.60 L347.93 336.60 L348.69 336.60 L349.46 336.60 L350.23 336.26 L351.00 335.83 L351.76 333.69 L352.53 329.29 L353.30 324.54 L354.07 318.56 L354.84 317.32 L355.60 315.59 L356.37 317.16 L357.14 317.79 L357.91 316.34 L358.67 318.15 L359.44 319.61 L360.21 319.81 L360.98 320.20 L361.74 321.34 L362.51 320.99 L363.28 320.49 L364.05 320.66 L364.81 320.82 L365.58 320.10 L366.35 320.69 L367.12 322.50 L367.88 325.95 L368.65 333.18 L369.42 335.32 L370.19 336.60 L370.95 336.60 L371.72 336.60 L372.49 336.60 L373.25 336.60 L374.02 336.60 L374.79 336.26 L375.56 335.83 L376.32 335.37 L377.09 334.86 L377.86 334.82 L378.63 335.51 L379.39 336.03 L380.16 336.31 L380.93 336.60 L381.70 336.60 L382.47 336.60 L383.23 336.60 L384.00 336.60 L384.77 336.60 L385.54 336.60 L386.30 336.60 L387.07 336.60" fill="none" stroke="#111" stroke-width="1.3" stroke-linejoin="round"/>
<rect x="351.50" y="291.40" width="19.10" height="4.60" fill="#f9b04a" /><rect x="353.10" y="291.40" width="15.90" height="4.60" fill="#d9536f" /><rect x="342.20" y="296.90" width="36.80" height="3.90" fill="#4cc3ef" />
<line x1="334.40" y1="349.20" x2="334.40" y2="383.40" stroke="#333" stroke-width="0.9" />
<line x1="334.40" y1="349.20" x2="336.20" y2="349.20" stroke="#333" stroke-width="0.8" />
<line x1="334.40" y1="383.40" x2="384.40" y2="383.40" stroke="#333" stroke-width="0.9" />
<line x1="337.95" y1="383.40" x2="337.95" y2="385.20" stroke="#333" stroke-width="0.7" />
<line x1="353.30" y1="383.40" x2="353.30" y2="385.20" stroke="#333" stroke-width="0.7" />
<line x1="368.65" y1="383.40" x2="368.65" y2="385.20" stroke="#333" stroke-width="0.7" />
<line x1="384.00" y1="383.40" x2="384.00" y2="385.20" stroke="#333" stroke-width="0.7" />
<text x="327.20" y="355.40" text-anchor="middle" stroke="#000" stroke-width="0.22">1</text>
<text x="327.20" y="386.00" text-anchor="middle" stroke="#000" stroke-width="0.22">0</text>
<path d="M336.42 383.40 L337.18 383.40 L337.95 383.40 L338.72 383.40 L339.49 383.40 L340.25 383.40 L341.02 383.40 L341.79 383.40 L342.56 383.40 L343.32 383.40 L344.09 383.40 L344.86 383.40 L345.62 383.40 L346.39 383.40 L347.16 383.40 L347.93 383.40 L348.69 383.40 L349.46 383.40 L350.23 383.40 L351.00 383.34 L351.76 382.81 L352.53 381.98 L353.30 381.25 L354.07 381.07 L354.84 381.15 L355.60 381.59 L356.37 382.03 L357.14 382.07 L357.91 382.12 L358.67 382.16 L359.44 382.20 L360.21 382.25 L360.98 382.29 L361.74 382.33 L362.51 382.37 L363.28 382.16 L364.05 381.95 L364.81 382.03 L365.58 382.32 L366.35 382.83 L367.12 383.12 L367.88 383.24 L368.65 383.25 L369.42 383.26 L370.19 383.26 L370.95 383.27 L371.72 383.28 L372.49 383.28 L373.25 383.29 L374.02 383.30 L374.79 383.30 L375.56 383.31 L376.32 383.31 L377.09 383.32 L377.86 383.33 L378.63 383.33 L379.39 383.34 L380.16 383.35 L380.93 383.35 L381.70 383.36 L382.47 383.37 L383.23 383.37 L384.00 383.38 L384.77 383.39 L385.54 383.39 L386.30 383.40 L387.07 383.40 L387.07 383.40 L386.30 383.40 L385.54 383.39 L384.77 383.39 L384.00 383.38 L383.23 383.37 L382.47 383.37 L381.70 383.36 L380.93 383.35 L380.16 383.35 L379.39 383.34 L378.63 383.33 L377.86 383.33 L377.09 383.32 L376.32 383.31 L375.56 383.31 L374.79 383.30 L374.02 383.30 L373.25 383.29 L372.49 383.28 L371.72 383.28 L370.95 383.27 L370.19 383.26 L369.42 383.26 L368.65 383.25 L367.88 383.24 L367.12 383.35 L366.35 383.63 L365.58 383.69 L364.81 383.40 L364.05 383.31 L363.28 383.53 L362.51 383.74 L361.74 383.70 L360.98 383.66 L360.21 383.61 L359.44 383.57 L358.67 383.53 L357.91 383.49 L357.14 383.44 L356.37 383.40 L355.60 383.13 L354.84 382.86 L354.07 382.96 L353.30 383.30 L352.53 383.39 L351.76 383.58 L351.00 383.46 L350.23 383.40 L349.46 383.40 L348.69 383.40 L347.93 383.40 L347.16 383.40 L346.39 383.40 L345.62 383.40 L344.86 383.40 L344.09 383.40 L343.32 383.40 L342.56 383.40 L341.79 383.40 L341.02 383.40 L340.25 383.40 L339.49 383.40 L338.72 383.40 L337.95 383.40 L337.18 383.40 L336.42 383.40 Z" fill="#c9c9c9" /><path d="M336.42 383.40 L337.18 383.40 L337.95 383.40 L338.72 383.40 L339.49 383.40 L340.25 383.40 L341.02 383.40 L341.79 383.40 L342.56 383.40 L343.32 383.40 L344.09 383.40 L344.86 383.40 L345.62 383.40 L346.39 383.40 L347.16 383.40 L347.93 383.40 L348.69 383.40 L349.46 383.40 L350.23 383.40 L351.00 383.40 L351.76 383.19 L352.53 382.68 L353.30 382.27 L354.07 382.01 L354.84 382.00 L355.60 382.36 L356.37 382.72 L357.14 382.76 L357.91 382.80 L358.67 382.84 L359.44 382.89 L360.21 382.93 L360.98 382.97 L361.74 383.02 L362.51 383.06 L363.28 382.84 L364.05 382.63 L364.81 382.72 L365.58 383.00 L366.35 383.23 L367.12 383.24 L367.88 383.24 L368.65 383.25 L369.42 383.26 L370.19 383.26 L370.95 383.27 L371.72 383.28 L372.49 383.28 L373.25 383.29 L374.02 383.30 L374.79 383.30 L375.56 383.31 L376.32 383.31 L377.09 383.32 L377.86 383.33 L378.63 383.33 L379.39 383.34 L380.16 383.35 L380.93 383.35 L381.70 383.36 L382.47 383.37 L383.23 383.37 L384.00 383.38 L384.77 383.39 L385.54 383.39 L386.30 383.40 L387.07 383.40" fill="none" stroke="#111" stroke-width="1.3" stroke-linejoin="round"/>
<rect x="349.80" y="349.00" width="19.40" height="4.60" fill="#f9b04a" /><rect x="351.40" y="349.00" width="16.20" height="4.60" fill="#d9536f" />
<line x1="334.40" y1="399.90" x2="334.40" y2="434.60" stroke="#333" stroke-width="0.9" />
<line x1="334.40" y1="399.90" x2="336.20" y2="399.90" stroke="#333" stroke-width="0.8" />
<line x1="334.40" y1="434.60" x2="384.40" y2="434.60" stroke="#333" stroke-width="0.9" />
<line x1="337.95" y1="434.60" x2="337.95" y2="436.40" stroke="#333" stroke-width="0.7" />
<line x1="353.30" y1="434.60" x2="353.30" y2="436.40" stroke="#333" stroke-width="0.7" />
<line x1="368.65" y1="434.60" x2="368.65" y2="436.40" stroke="#333" stroke-width="0.7" />
<line x1="384.00" y1="434.60" x2="384.00" y2="436.40" stroke="#333" stroke-width="0.7" />
<text x="327.20" y="406.10" text-anchor="middle" stroke="#000" stroke-width="0.22">1</text>
<text x="327.20" y="437.20" text-anchor="middle" stroke="#000" stroke-width="0.22">0</text>
<path d="M336.42 434.60 L337.18 434.60 L337.95 434.60 L338.72 434.60 L339.49 434.60 L340.25 434.60 L341.02 434.60 L341.79 434.60 L342.56 434.60 L343.32 434.60 L344.09 434.60 L344.86 434.60 L345.62 434.60 L346.39 434.60 L347.16 434.60 L347.93 434.60 L348.69 434.60 L349.46 434.60 L350.23 434.60 L351.00 434.60 L351.76 434.60 L352.53 434.60 L353.30 434.60 L354.07 434.60 L354.84 434.60 L355.60 434.34 L356.37 433.70 L357.14 433.14 L357.91 433.14 L358.67 433.14 L359.44 433.14 L360.21 433.19 L360.98 433.60 L361.74 434.07 L362.51 434.43 L363.28 434.07 L364.05 433.60 L364.81 433.19 L365.58 433.14 L366.35 433.14 L367.12 433.14 L367.88 433.56 L368.65 434.25 L369.42 434.60 L370.19 434.60 L370.95 434.60 L371.72 434.60 L372.49 434.60 L373.25 434.60 L374.02 434.60 L374.79 434.60 L375.56 434.60 L376.32 434.60 L377.09 434.60 L377.86 434.60 L378.63 434.60 L379.39 434.60 L380.16 434.60 L380.93 434.60 L381.70 434.60 L382.47 434.60 L383.23 434.60 L384.00 434.60 L384.77 434.60 L385.54 434.60 L386.30 434.60 L387.07 434.60 L387.07 434.60 L386.30 434.60 L385.54 434.60 L384.77 434.60 L384.00 434.60 L383.23 434.60 L382.47 434.60 L381.70 434.60 L380.93 434.60 L380.16 434.60 L379.39 434.60 L378.63 434.60 L377.86 434.60 L377.09 434.60 L376.32 434.60 L375.56 434.60 L374.79 434.60 L374.02 434.60 L373.25 434.60 L372.49 434.60 L371.72 434.60 L370.95 434.60 L370.19 434.60 L369.42 434.60 L368.65 434.95 L367.88 435.12 L367.12 435.22 L366.35 435.22 L365.58 435.22 L364.81 435.28 L364.05 435.29 L363.28 435.13 L362.51 434.77 L361.74 435.13 L360.98 435.29 L360.21 435.28 L359.44 435.22 L358.67 435.22 L357.91 435.22 L357.14 435.22 L356.37 435.09 L355.60 434.86 L354.84 434.60 L354.07 434.60 L353.30 434.60 L352.53 434.60 L351.76 434.60 L351.00 434.60 L350.23 434.60 L349.46 434.60 L348.69 434.60 L347.93 434.60 L347.16 434.60 L346.39 434.60 L345.62 434.60 L344.86 434.60 L344.09 434.60 L343.32 434.60 L342.56 434.60 L341.79 434.60 L341.02 434.60 L340.25 434.60 L339.49 434.60 L338.72 434.60 L337.95 434.60 L337.18 434.60 L336.42 434.60 Z" fill="#c9c9c9" /><path d="M336.42 434.60 L337.18 434.60 L337.95 434.60 L338.72 434.60 L339.49 434.60 L340.25 434.60 L341.02 434.60 L341.79 434.60 L342.56 434.60 L343.32 434.60 L344.09 434.60 L344.86 434.60 L345.62 434.60 L346.39 434.60 L347.16 434.60 L347.93 434.60 L348.69 434.60 L349.46 434.60 L350.23 434.60 L351.00 434.60 L351.76 434.60 L352.53 434.60 L353.30 434.60 L354.07 434.60 L354.84 434.60 L355.60 434.60 L356.37 434.39 L357.14 434.18 L357.91 434.18 L358.67 434.18 L359.44 434.18 L360.21 434.24 L360.98 434.50 L361.74 434.60 L362.51 434.60 L363.28 434.60 L364.05 434.50 L364.81 434.24 L365.58 434.18 L366.35 434.18 L367.12 434.18 L367.88 434.34 L368.65 434.60 L369.42 434.60 L370.19 434.60 L370.95 434.60 L371.72 434.60 L372.49 434.60 L373.25 434.60 L374.02 434.60 L374.79 434.60 L375.56 434.60 L376.32 434.60 L377.09 434.60 L377.86 434.60 L378.63 434.60 L379.39 434.60 L380.16 434.60 L380.93 434.60 L381.70 434.60 L382.47 434.60 L383.23 434.60 L384.00 434.60 L384.77 434.60 L385.54 434.60 L386.30 434.60 L387.07 434.60" fill="none" stroke="#111" stroke-width="1.3" stroke-linejoin="round"/>
<rect x="342.20" y="395.00" width="36.80" height="3.90" fill="#4cc3ef" />
<text x="336.75" y="446.60" text-anchor="middle" stroke="#000" stroke-width="0.22">−5</text>
<text x="353.30" y="446.60" text-anchor="middle" stroke="#000" stroke-width="0.22">0</text>
<text x="368.65" y="446.60" text-anchor="middle" stroke="#000" stroke-width="0.22">5</text>
<text x="384.00" y="446.60" text-anchor="middle" stroke="#000" stroke-width="0.22">10</text>
<text x="360.00" y="461.60" text-anchor="middle" stroke="#000" stroke-width="0.22">Time (s)</text>
<line x1="419.00" y1="302.40" x2="419.00" y2="336.60" stroke="#333" stroke-width="0.9" />
<line x1="419.00" y1="302.40" x2="420.80" y2="302.40" stroke="#333" stroke-width="0.8" />
<line x1="419.00" y1="336.60" x2="472.00" y2="336.60" stroke="#333" stroke-width="0.9" />
<line x1="421.55" y1="336.60" x2="421.55" y2="338.40" stroke="#333" stroke-width="0.7" />
<line x1="436.30" y1="336.60" x2="436.30" y2="338.40" stroke="#333" stroke-width="0.7" />
<line x1="451.05" y1="336.60" x2="451.05" y2="338.40" stroke="#333" stroke-width="0.7" />
<line x1="465.80" y1="336.60" x2="465.80" y2="338.40" stroke="#333" stroke-width="0.7" />
<text x="412.00" y="308.60" text-anchor="middle" stroke="#000" stroke-width="0.22">1</text>
<text x="412.00" y="334.00" text-anchor="middle" stroke="#000" stroke-width="0.22">0</text>
<path d="M419.78 320.91 L420.52 319.63 L421.25 320.13 L421.99 320.01 L422.73 320.30 L423.47 319.82 L424.21 319.40 L424.94 320.60 L425.68 320.11 L426.42 319.86 L427.16 319.94 L427.89 317.76 L428.63 315.18 L429.37 311.59 L430.11 307.80 L430.84 304.35 L431.58 302.84 L432.32 301.30 L433.06 300.62 L433.79 300.94 L434.53 301.86 L435.27 301.95 L436.00 305.82 L436.74 315.55 L437.48 322.79 L438.22 330.59 L438.96 333.06 L439.69 334.57 L440.43 335.63 L441.17 335.22 L441.91 335.91 L442.64 334.80 L443.38 334.79 L444.12 335.71 L444.86 335.71 L445.59 336.20 L446.33 335.33 L447.07 335.37 L447.81 335.41 L448.54 335.04 L449.28 335.73 L450.02 335.31 L450.75 335.91 L451.49 332.88 L452.23 329.51 L452.97 324.50 L453.71 319.45 L454.44 316.86 L455.18 314.83 L455.92 313.84 L456.66 311.28 L457.39 310.13 L458.13 309.50 L458.87 308.73 L459.61 308.69 L460.34 307.70 L461.08 306.85 L461.82 307.21 L462.56 306.02 L463.29 307.09 L464.03 307.66 L464.77 307.15 L465.50 307.61 L466.24 309.45 L466.98 309.88 L467.72 311.18 L468.46 310.98 L469.19 311.88 L469.93 312.41 L470.67 312.89 L471.41 313.46 L471.41 327.99 L470.67 328.25 L469.93 328.04 L469.19 327.68 L468.46 325.79 L467.72 324.88 L466.98 324.58 L466.24 323.27 L465.50 322.14 L464.77 322.48 L464.03 321.02 L463.29 320.66 L462.56 320.90 L461.82 320.86 L461.08 320.59 L460.34 320.88 L459.61 321.77 L458.87 322.56 L458.13 323.22 L457.39 324.86 L456.66 325.34 L455.92 325.54 L455.18 326.18 L454.44 327.32 L453.71 328.86 L452.97 331.95 L452.23 335.56 L451.49 337.11 L450.75 336.99 L450.02 337.09 L449.28 336.96 L448.54 336.38 L447.81 336.44 L447.07 336.51 L446.33 337.05 L445.59 337.28 L444.86 337.17 L444.12 336.87 L443.38 335.94 L442.64 337.13 L441.91 337.15 L441.17 337.06 L440.43 337.28 L439.69 337.23 L438.96 336.45 L438.22 335.21 L437.48 329.08 L436.74 320.45 L436.00 312.34 L435.27 308.69 L434.53 308.74 L433.79 308.90 L433.06 309.85 L432.32 310.47 L431.58 312.34 L430.84 314.69 L430.11 318.00 L429.37 323.00 L428.63 327.95 L427.89 331.00 L427.16 333.07 L426.42 332.99 L425.68 333.12 L424.94 333.57 L424.21 334.02 L423.47 334.29 L422.73 333.69 L421.99 333.51 L421.25 333.35 L420.52 334.06 L419.78 335.25 Z" fill="#c9c9c9" /><path d="M419.78 328.08 L420.52 326.84 L421.25 326.74 L421.99 326.76 L422.73 327.00 L423.47 327.05 L424.21 326.71 L424.94 327.09 L425.68 326.62 L426.42 326.43 L427.16 326.50 L427.89 324.38 L428.63 321.57 L429.37 317.30 L430.11 312.90 L430.84 309.52 L431.58 307.59 L432.32 305.89 L433.06 305.24 L433.79 304.92 L434.53 305.30 L435.27 305.32 L436.00 309.08 L436.74 318.00 L437.48 325.94 L438.22 332.90 L438.96 334.75 L439.69 335.90 L440.43 336.55 L441.17 336.14 L441.91 336.53 L442.64 335.96 L443.38 335.36 L444.12 336.29 L444.86 336.44 L445.59 336.88 L446.33 336.19 L447.07 335.94 L447.81 335.92 L448.54 335.71 L449.28 336.34 L450.02 336.20 L450.75 336.45 L451.49 335.00 L452.23 332.53 L452.97 328.23 L453.71 324.15 L454.44 322.09 L455.18 320.51 L455.92 319.69 L456.66 318.31 L457.39 317.50 L458.13 316.36 L458.87 315.64 L459.61 315.23 L460.34 314.29 L461.08 313.72 L461.82 314.04 L462.56 313.46 L463.29 313.87 L464.03 314.34 L464.77 314.82 L465.50 314.88 L466.24 316.36 L466.98 317.23 L467.72 318.03 L468.46 318.38 L469.19 319.78 L469.93 320.23 L470.67 320.57 L471.41 320.72" fill="none" stroke="#111" stroke-width="1.3" stroke-linejoin="round"/>
<rect x="435.80" y="291.40" width="19.20" height="4.60" fill="#f9b04a" /><rect x="437.40" y="291.40" width="16.00" height="4.60" fill="#d9536f" /><rect x="426.60" y="296.90" width="37.40" height="3.90" fill="#4cc3ef" />
<line x1="419.00" y1="349.20" x2="419.00" y2="383.40" stroke="#333" stroke-width="0.9" />
<line x1="419.00" y1="349.20" x2="420.80" y2="349.20" stroke="#333" stroke-width="0.8" />
<line x1="419.00" y1="383.40" x2="472.00" y2="383.40" stroke="#333" stroke-width="0.9" />
<line x1="421.55" y1="383.40" x2="421.55" y2="385.20" stroke="#333" stroke-width="0.7" />
<line x1="436.30" y1="383.40" x2="436.30" y2="385.20" stroke="#333" stroke-width="0.7" />
<line x1="451.05" y1="383.40" x2="451.05" y2="385.20" stroke="#333" stroke-width="0.7" />
<line x1="465.80" y1="383.40" x2="465.80" y2="385.20" stroke="#333" stroke-width="0.7" />
<text x="412.00" y="355.40" text-anchor="middle" stroke="#000" stroke-width="0.22">1</text>
<text x="412.00" y="386.00" text-anchor="middle" stroke="#000" stroke-width="0.22">0</text>
<path d="M419.78 371.89 L420.52 372.43 L421.25 371.63 L421.99 371.53 L422.73 371.13 L423.47 371.31 L424.21 371.90 L424.94 371.43 L425.68 371.75 L426.42 371.13 L427.16 371.81 L427.89 371.77 L428.63 371.77 L429.37 371.94 L430.11 372.27 L430.84 371.96 L431.58 372.73 L432.32 372.77 L433.06 372.70 L433.79 373.67 L434.53 373.47 L435.27 374.21 L436.00 375.89 L436.74 375.76 L437.48 377.22 L438.22 377.73 L438.96 378.69 L439.69 379.56 L440.43 380.27 L441.17 380.57 L441.91 381.00 L442.64 380.73 L443.38 381.41 L444.12 381.19 L444.86 382.01 L445.59 382.01 L446.33 381.52 L447.07 382.52 L447.81 382.04 L448.54 381.56 L449.28 381.44 L450.02 381.73 L450.75 380.98 L451.49 380.54 L452.23 379.24 L452.97 378.64 L453.71 377.71 L454.44 376.83 L455.18 376.80 L455.92 376.03 L456.66 375.53 L457.39 375.23 L458.13 375.32 L458.87 375.85 L459.61 375.33 L460.34 374.11 L461.08 374.10 L461.82 375.16 L462.56 374.41 L463.29 373.74 L464.03 374.17 L464.77 373.96 L465.50 373.42 L466.24 372.67 L466.98 372.22 L467.72 371.46 L468.46 372.63 L469.19 372.42 L469.93 372.48 L470.67 373.77 L471.41 372.99 L471.41 384.08 L470.67 383.98 L469.93 383.76 L469.19 383.81 L468.46 382.87 L467.72 383.22 L466.98 383.75 L466.24 383.96 L465.50 383.38 L464.77 384.02 L464.03 383.62 L463.29 383.69 L462.56 383.44 L461.82 383.98 L461.08 384.08 L460.34 384.07 L459.61 384.08 L458.87 383.89 L458.13 384.08 L457.39 384.02 L456.66 383.70 L455.92 384.08 L455.18 384.01 L454.44 383.89 L453.71 384.08 L452.97 384.08 L452.23 384.08 L451.49 384.08 L450.75 384.08 L450.02 384.08 L449.28 384.08 L448.54 384.08 L447.81 384.08 L447.07 384.08 L446.33 384.08 L445.59 384.08 L444.86 384.08 L444.12 384.08 L443.38 383.91 L442.64 384.08 L441.91 384.08 L441.17 384.08 L440.43 384.08 L439.69 384.08 L438.96 384.08 L438.22 384.08 L437.48 383.99 L436.74 384.08 L436.00 383.81 L435.27 383.24 L434.53 383.78 L433.79 383.86 L433.06 384.08 L432.32 384.08 L431.58 384.08 L430.84 384.08 L430.11 383.73 L429.37 384.08 L428.63 383.57 L427.89 383.31 L427.16 383.14 L426.42 383.60 L425.68 382.62 L424.94 382.89 L424.21 383.04 L423.47 383.12 L422.73 382.22 L421.99 382.73 L421.25 382.75 L420.52 383.46 L419.78 384.08 Z" fill="#c9c9c9" /><path d="M419.78 378.04 L420.52 377.94 L421.25 377.19 L421.99 377.13 L422.73 376.67 L423.47 377.21 L424.21 377.47 L424.94 377.16 L425.68 377.19 L426.42 377.37 L427.16 377.48 L427.89 377.54 L428.63 377.67 L429.37 378.17 L430.11 378.00 L430.84 378.20 L431.58 378.54 L432.32 378.61 L433.06 378.54 L433.79 378.77 L434.53 378.62 L435.27 378.72 L436.00 379.85 L436.74 380.16 L437.48 380.61 L438.22 381.06 L438.96 381.97 L439.69 382.36 L440.43 382.53 L441.17 382.73 L441.91 382.89 L442.64 382.72 L443.38 382.66 L444.12 382.88 L444.86 383.35 L445.59 383.34 L446.33 383.33 L447.07 384.02 L447.81 383.57 L448.54 383.26 L449.28 383.25 L450.02 383.11 L450.75 382.91 L451.49 382.72 L452.23 381.79 L452.97 381.74 L453.71 380.93 L454.44 380.36 L455.18 380.41 L455.92 380.23 L456.66 379.61 L457.39 379.62 L458.13 379.91 L458.87 379.87 L459.61 379.78 L460.34 379.09 L461.08 379.10 L461.82 379.57 L462.56 378.93 L463.29 378.71 L464.03 378.89 L464.77 378.99 L465.50 378.40 L466.24 378.32 L466.98 377.98 L467.72 377.34 L468.46 377.75 L469.19 378.11 L469.93 378.12 L470.67 378.87 L471.41 378.85" fill="none" stroke="#111" stroke-width="1.3" stroke-linejoin="round"/>
<rect x="434.20" y="349.00" width="19.00" height="4.60" fill="#f9b04a" /><rect x="435.80" y="349.00" width="15.80" height="4.60" fill="#d9536f" />
<line x1="419.00" y1="399.90" x2="419.00" y2="434.60" stroke="#333" stroke-width="0.9" />
<line x1="419.00" y1="399.90" x2="420.80" y2="399.90" stroke="#333" stroke-width="0.8" />
<line x1="419.00" y1="434.60" x2="472.00" y2="434.60" stroke="#333" stroke-width="0.9" />
<line x1="421.55" y1="434.60" x2="421.55" y2="436.40" stroke="#333" stroke-width="0.7" />
<line x1="436.30" y1="434.60" x2="436.30" y2="436.40" stroke="#333" stroke-width="0.7" />
<line x1="451.05" y1="434.60" x2="451.05" y2="436.40" stroke="#333" stroke-width="0.7" />
<line x1="465.80" y1="434.60" x2="465.80" y2="436.40" stroke="#333" stroke-width="0.7" />
<text x="412.00" y="406.10" text-anchor="middle" stroke="#000" stroke-width="0.22">1</text>
<text x="412.00" y="437.20" text-anchor="middle" stroke="#000" stroke-width="0.22">0</text>
<path d="M419.78 413.65 L420.52 413.54 L421.25 411.21 L421.99 411.75 L422.73 412.52 L423.47 412.39 L424.21 413.09 L424.94 416.02 L425.68 418.02 L426.42 420.56 L427.16 418.55 L427.89 413.66 L428.63 407.80 L429.37 405.61 L430.11 404.27 L430.84 402.51 L431.58 402.75 L432.32 402.07 L433.06 401.42 L433.79 401.04 L434.53 401.38 L435.27 401.81 L436.00 401.35 L436.74 401.53 L437.48 401.60 L438.22 401.78 L438.96 402.31 L439.69 402.48 L440.43 401.64 L441.17 401.07 L441.91 401.36 L442.64 401.53 L443.38 401.73 L444.12 402.05 L444.86 402.66 L445.59 402.78 L446.33 402.14 L447.07 401.68 L447.81 401.32 L448.54 400.56 L449.28 399.98 L450.02 399.51 L450.75 400.47 L451.49 400.43 L452.23 400.81 L452.97 401.22 L453.71 401.65 L454.44 402.02 L455.18 401.43 L455.92 402.21 L456.66 402.02 L457.39 401.96 L458.13 402.34 L458.87 401.65 L459.61 401.28 L460.34 401.48 L461.08 402.07 L461.82 401.87 L462.56 401.93 L463.29 402.32 L464.03 402.19 L464.77 402.63 L465.50 402.55 L466.24 402.95 L466.98 403.38 L467.72 403.31 L468.46 404.77 L469.19 405.36 L469.93 405.63 L470.67 407.05 L471.41 407.42 L471.41 424.41 L470.67 422.50 L469.93 422.46 L469.19 420.47 L468.46 419.67 L467.72 418.88 L466.98 418.26 L466.24 417.37 L465.50 416.90 L464.77 416.38 L464.03 415.94 L463.29 415.20 L462.56 414.83 L461.82 414.05 L461.08 414.17 L460.34 414.19 L459.61 413.21 L458.87 413.82 L458.13 413.83 L457.39 414.37 L456.66 413.66 L455.92 414.36 L455.18 413.39 L454.44 413.65 L453.71 412.40 L452.97 412.67 L452.23 412.14 L451.49 413.10 L450.75 411.60 L450.02 411.25 L449.28 412.58 L448.54 413.11 L447.81 412.38 L447.07 413.10 L446.33 412.92 L445.59 414.17 L444.86 413.67 L444.12 412.92 L443.38 412.66 L442.64 413.24 L441.91 413.46 L441.17 413.08 L440.43 412.04 L439.69 413.01 L438.96 413.01 L438.22 413.46 L437.48 411.85 L436.74 411.88 L436.00 411.52 L435.27 412.60 L434.53 412.28 L433.79 412.43 L433.06 412.96 L432.32 413.87 L431.58 413.53 L430.84 414.62 L430.11 415.99 L429.37 417.53 L428.63 420.07 L427.89 427.42 L427.16 432.18 L426.42 435.08 L425.68 434.64 L424.94 432.46 L424.21 431.96 L423.47 430.08 L422.73 429.40 L421.99 429.16 L421.25 428.78 L420.52 429.41 L419.78 429.79 Z" fill="#c9c9c9" /><path d="M419.78 421.72 L420.52 421.47 L421.25 420.00 L421.99 420.46 L422.73 420.96 L423.47 421.24 L424.21 422.53 L424.94 424.24 L425.68 426.33 L426.42 427.82 L427.16 425.36 L427.89 420.54 L428.63 413.93 L429.37 411.57 L430.11 410.13 L430.84 408.56 L431.58 408.14 L432.32 407.97 L433.06 407.19 L433.79 406.74 L434.53 406.83 L435.27 407.20 L436.00 406.44 L436.74 406.70 L437.48 406.72 L438.22 407.62 L438.96 407.66 L439.69 407.74 L440.43 406.84 L441.17 407.07 L441.91 407.41 L442.64 407.38 L443.38 407.19 L444.12 407.49 L444.86 408.17 L445.59 408.48 L446.33 407.53 L447.07 407.39 L447.81 406.85 L448.54 406.83 L449.28 406.28 L450.02 405.38 L450.75 406.03 L451.49 406.76 L452.23 406.47 L452.97 406.94 L453.71 407.02 L454.44 407.84 L455.18 407.41 L455.92 408.29 L456.66 407.84 L457.39 408.16 L458.13 408.08 L458.87 407.73 L459.61 407.25 L460.34 407.83 L461.08 408.12 L461.82 407.96 L462.56 408.38 L463.29 408.76 L464.03 409.07 L464.77 409.50 L465.50 409.73 L466.24 410.16 L466.98 410.82 L467.72 411.09 L468.46 412.22 L469.19 412.91 L469.93 414.05 L470.67 414.77 L471.41 415.92" fill="none" stroke="#111" stroke-width="1.3" stroke-linejoin="round"/>
<rect x="424.90" y="395.00" width="36.90" height="3.90" fill="#4cc3ef" />
<text x="420.35" y="446.60" text-anchor="middle" stroke="#000" stroke-width="0.22">−5</text>
<text x="436.30" y="446.60" text-anchor="middle" stroke="#000" stroke-width="0.22">0</text>
<text x="451.05" y="446.60" text-anchor="middle" stroke="#000" stroke-width="0.22">5</text>
<text x="467.30" y="446.60" text-anchor="middle" stroke="#000" stroke-width="0.22">10</text>
<text x="445.00" y="461.60" text-anchor="middle" stroke="#000" stroke-width="0.22">Time (s)</text>
<line x1="512.40" y1="302.40" x2="512.40" y2="336.60" stroke="#9a9a9a" stroke-width="1.0" />
<line x1="509.80" y1="302.60" x2="512.40" y2="302.60" stroke="#9a9a9a" stroke-width="0.8" />
<line x1="509.80" y1="336.60" x2="535.80" y2="336.60" stroke="#9a9a9a" stroke-width="1.0" />
<text x="505.00" y="305.70" text-anchor="end" stroke="#000" stroke-width="0.22">60</text>
<text x="505.00" y="337.90" text-anchor="end" stroke="#000" stroke-width="0.22">0</text>
<rect x="517.60" y="326.80" width="12.00" height="9.80" fill="#8e8f92" stroke="#222" stroke-width="1.0" />
<line x1="524.20" y1="325.40" x2="524.20" y2="328.00" stroke="#111" stroke-width="0.9" />
<line x1="522.80" y1="325.40" x2="525.60" y2="325.40" stroke="#111" stroke-width="0.8" />
<circle cx="524.20" cy="329.30" r="0.50" fill="#6f6f6f" />
<circle cx="524.20" cy="331.30" r="0.50" fill="#6f6f6f" />
<circle cx="524.20" cy="333.30" r="0.50" fill="#6f6f6f" />
<circle cx="524.20" cy="303.80" r="0.72" fill="#4a4a4a" />
<circle cx="524.20" cy="306.30" r="0.72" fill="#4a4a4a" />
<circle cx="524.20" cy="308.50" r="0.72" fill="#4a4a4a" />
<circle cx="524.20" cy="311.40" r="0.72" fill="#4a4a4a" />
<circle cx="524.20" cy="315.40" r="0.72" fill="#4a4a4a" />
<circle cx="524.20" cy="321.30" r="0.72" fill="#4a4a4a" />
<circle cx="524.20" cy="323.60" r="0.72" fill="#4a4a4a" />
<line x1="512.40" y1="349.20" x2="512.40" y2="383.40" stroke="#9a9a9a" stroke-width="1.0" />
<line x1="509.80" y1="349.40" x2="512.40" y2="349.40" stroke="#9a9a9a" stroke-width="0.8" />
<line x1="509.80" y1="383.40" x2="535.80" y2="383.40" stroke="#9a9a9a" stroke-width="1.0" />
<text x="505.00" y="352.50" text-anchor="end" stroke="#000" stroke-width="0.22">60</text>
<text x="505.00" y="384.70" text-anchor="end" stroke="#000" stroke-width="0.22">0</text>
<line x1="517.60" y1="382.70" x2="530.00" y2="382.70" stroke="#222" stroke-width="0.9" />
<circle cx="524.20" cy="379.80" r="0.72" fill="#4a4a4a" />
<line x1="512.40" y1="399.90" x2="512.40" y2="434.60" stroke="#9a9a9a" stroke-width="1.0" />
<line x1="509.80" y1="400.10" x2="512.40" y2="400.10" stroke="#9a9a9a" stroke-width="0.8" />
<line x1="509.80" y1="434.60" x2="535.80" y2="434.60" stroke="#9a9a9a" stroke-width="1.0" />
<text x="505.00" y="403.20" text-anchor="end" stroke="#000" stroke-width="0.22">60</text>
<text x="505.00" y="435.90" text-anchor="end" stroke="#000" stroke-width="0.22">0</text>
<rect x="517.60" y="429.80" width="12.00" height="4.80" fill="#8e8f92" stroke="#222" stroke-width="1.0" />
<line x1="524.20" y1="428.40" x2="524.20" y2="431.00" stroke="#111" stroke-width="0.9" />
<line x1="522.80" y1="428.40" x2="525.60" y2="428.40" stroke="#111" stroke-width="0.8" />
<circle cx="524.20" cy="432.30" r="0.50" fill="#6f6f6f" />
<circle cx="524.20" cy="403.80" r="0.72" fill="#4a4a4a" />
<circle cx="524.20" cy="410.50" r="0.72" fill="#4a4a4a" />
<circle cx="524.20" cy="414.50" r="0.72" fill="#4a4a4a" />
<circle cx="524.20" cy="418.50" r="0.72" fill="#4a4a4a" />
<circle cx="524.20" cy="421.60" r="0.72" fill="#4a4a4a" />
<circle cx="524.20" cy="423.80" r="0.72" fill="#4a4a4a" />
<circle cx="524.20" cy="425.60" r="0.72" fill="#4a4a4a" />
<circle cx="524.20" cy="427.20" r="0.72" fill="#4a4a4a" />
<circle cx="524.20" cy="428.40" r="0.72" fill="#4a4a4a" />
<text x="524.40" y="446.80" text-anchor="middle" stroke="#000" stroke-width="0.22">Trials</text>
</g>
<g id="p_h">
<defs><filter id="hB1" x="-30%" y="-30%" width="160%" height="160%"><feGaussianBlur stdDeviation="18"/></filter><filter id="hB2" x="-30%" y="-30%" width="160%" height="160%"><feGaussianBlur stdDeviation="9"/></filter><filter id="hB3" x="-30%" y="-30%" width="160%" height="160%"><feGaussianBlur stdDeviation="4"/></filter><filter id="hNoise" x="0" y="0" width="100%" height="100%"><feTurbulence type="fractalNoise" baseFrequency="0.3" numOctaves="2" seed="5" result="n"/><feColorMatrix in="n" type="matrix" values="0 0 0 0 0.1  0 0 0 0 0.1  0 0 0 0 0.25  0 0 0 2.4 -1.0"/><feComposite in2="SourceGraphic" operator="in"/></filter><clipPath id="hClip"><rect x="20" y="22" width="508" height="686"/></clipPath></defs>
<g transform="translate(545,270) scale(0.25361)">
<g clip-path="url(#hClip)">
<rect x="20.00" y="22.00" width="508.00" height="686.00" fill="#4d5770" />
<path d="M243 22 L540 22 L540 460 L470 460 C440 400 400 350 363 317 C359 282 343 243 316 205 C300 190 290 183 282 178 C270 150 250 110 243 22 Z" fill="#2e385e" filter="url(#hB3)"/>
<path d="M290 22 L540 22 L540 70 C460 60 380 62 335 78 C318 60 302 40 290 22 Z" fill="#39467e" filter="url(#hB3)"/>
<ellipse cx="200.00" cy="66.00" rx="90.00" ry="48.00" fill="#59637e" filter="url(#hB2)"/>
<path d="M240 128 C280 108 320 86 360 78 C420 70 480 72 540 84" fill="none" stroke="#262f5e" stroke-width="17" filter="url(#hB3)"/>
<path d="M262 150 C300 126 330 108 360 100 C420 88 480 96 540 118" fill="none" stroke="#545e7a" stroke-width="26" filter="url(#hB3)"/>
<path d="M410 108 C450 110 500 120 540 136" fill="none" stroke="#3a6cf0" stroke-width="5" filter="url(#hB3)" opacity="0.9"/>
<path d="M300 170 C340 140 400 125 450 130 C490 136 520 150 540 165 L540 250 C500 220 460 205 420 200 C390 198 370 200 350 205 Z" fill="#48526c" filter="url(#hB3)"/>
<path d="M378 207 C420 204 470 222 540 268 L540 420 C520 350 480 290 430 250 C410 232 392 220 378 212 Z" fill="#2c3a78" filter="url(#hB3)"/>
<path d="M372 214 C410 240 460 290 500 340 C515 370 520 410 520 450 L470 450 C440 390 400 340 363 317 C362 280 368 240 372 214 Z" fill="#141b48" filter="url(#hB3)"/>
<path d="M300 176 C320 186 340 200 352 212 C362 235 366 255 364 278 C356 250 340 220 300 176 Z" fill="#070d38" stroke="#070d38" stroke-width="6" filter="url(#hB3)"/>
<path d="M378 207 C420 200 470 222 540 268" fill="none" stroke="#3a78ff" stroke-width="8" filter="url(#hB3)"/>
<path d="M376 209 C420 240 470 285 504 326 C512 345 512 360 510 380" fill="none" stroke="#3570ff" stroke-width="8" filter="url(#hB3)"/>
<path d="M520 300 C530 330 536 370 538 420" fill="none" stroke="#2a50d0" stroke-width="8" filter="url(#hB2)" opacity="0.8"/>
<path d="M528 420 C500 430 480 440 467 448 C462 470 448 490 432 505 C415 520 400 540 393 563 C385 600 370 630 359 640 C340 665 310 680 274 688 L260 708 L528 708 Z" fill="#222e68" filter="url(#hB3)"/>
<path d="M528 500 C500 530 470 580 445 630 C425 660 400 680 370 698" fill="none" stroke="#2f4fc0" stroke-width="10" filter="url(#hB2)" opacity="0.8"/>
<path d="M420 520 C440 490 470 470 500 450" fill="none" stroke="#3a58c0" stroke-width="8" filter="url(#hB3)" opacity="0.6"/>
<path d="M90 22 C93 60 86 90 80 118 C82 150 92 170 96 200 C100 170 108 150 110 118 C104 90 100 60 102 22 Z" fill="#081244" filter="url(#hB3)"/>
<path d="M96 22 L98 210" fill="none" stroke="#0a1450" stroke-width="5" />
<path d="M64 30 C70 70 72 100 70 125" fill="none" stroke="#3060d8" stroke-width="4" filter="url(#hB3)" opacity="0.8"/>
<ellipse cx="240.00" cy="290.00" rx="110.00" ry="90.00" fill="#586380" filter="url(#hB1)" opacity="0.8"/>
<ellipse cx="320.00" cy="590.00" rx="90.00" ry="80.00" fill="#5a627e" filter="url(#hB1)" opacity="0.9"/>
<ellipse cx="84.00" cy="352.00" rx="40.00" ry="78.00" fill="#5a9e74" filter="url(#hB2)" opacity="0.8"/>
<ellipse cx="84.00" cy="345.00" rx="11.00" ry="42.00" fill="#62d87a" filter="url(#hB3)" opacity="0.85"/>
<path d="M84 400 C84 460 90 520 110 580" fill="none" stroke="#56a078" stroke-width="30" filter="url(#hB2)" opacity="0.6"/>
<ellipse cx="50.00" cy="540.00" rx="40.00" ry="60.00" fill="#4e8e74" filter="url(#hB1)" opacity="0.8"/>
<ellipse cx="170.00" cy="596.00" rx="62.00" ry="48.00" fill="#5cb078" filter="url(#hB2)" opacity="0.9"/>
<ellipse cx="160.00" cy="600.00" rx="28.00" ry="24.00" fill="#6cdc84" filter="url(#hB2)" opacity="0.75"/>
<path d="M170 590 C230 570 270 530 300 490 C315 470 330 460 345 450" fill="none" stroke="#5ab478" stroke-width="32" filter="url(#hB2)" opacity="0.8"/>
<ellipse cx="290.00" cy="505.00" rx="16.00" ry="34.00" fill="#6cd882" filter="url(#hB3)" opacity="0.7" transform="rotate(30 290 505)"/>
<ellipse cx="200.00" cy="500.00" rx="80.00" ry="60.00" fill="#56807a" filter="url(#hB1)" opacity="0.5"/>
<ellipse cx="125.00" cy="585.00" rx="110.00" ry="48.00" fill="#5aa878" filter="url(#hB1)" opacity="0.55"/>
<ellipse cx="74.00" cy="600.00" rx="55.00" ry="42.00" fill="#687262" filter="url(#hB3)"/>
<path d="M20 620 C40 636 60 642 74 642 C95 642 115 636 131 619 C140 626 146 630 152 635 C165 648 175 655 183 661 C195 672 202 677 209 681 C220 688 230 692 240 694 L275 700 L275 708 L20 708 Z" fill="#04061c" filter="url(#hB3)"/>
<path d="M20 622 C40 637 60 643 74 643 C95 643 115 637 131 620 C140 627 146 631 152 636 C165 649 175 656 183 662 C195 673 202 678 209 682" fill="none" stroke="#2a56d0" stroke-width="4" filter="url(#hB3)" opacity="0.85"/>
<path d="M30 640 L28 700 M112 640 L124 690 M60 645 L56 665" fill="none" stroke="#2448b0" stroke-width="5" filter="url(#hB3)" opacity="0.8"/>
<path d="M84 318 L86 385" fill="none" stroke="#1a4ad8" stroke-width="5" />
<path d="M85 330 L86 375" fill="none" stroke="#08124a" stroke-width="2" />
<rect x="20.00" y="22.00" width="508.00" height="686.00" fill="#000" filter="url(#hNoise)" opacity="0.35"/>
<path d="M20 166 C40 150 60 140 72 142 C84 150 90 165 96 176 C104 160 120 140 140 134 C190 130 250 150 296 184 C330 220 356 270 360 320 C362 345 350 360 346 376 C350 410 372 440 388 462 L462 466" fill="none" stroke="#f2f2f2" stroke-width="3.0" stroke-dasharray="7 5" stroke-linecap="butt"/>
<path d="M20 196 C45 192 70 190 84 192 C90 205 94 215 98 222 C106 208 120 200 140 198 C200 192 270 196 312 216 C326 224 334 232 340 240" fill="none" stroke="#f2f2f2" stroke-width="3.0" stroke-dasharray="7 5" stroke-linecap="butt"/>
<path d="M20 322 C30 300 55 282 88 278 C125 280 150 300 156 332 C156 370 138 410 124 440 C116 460 110 475 108 488" fill="none" stroke="#f2f2f2" stroke-width="3.0" stroke-dasharray="7 5" stroke-linecap="butt"/>
<path d="M20 322 C24 370 40 420 58 460 C64 472 68 480 70 488" fill="none" stroke="#f2f2f2" stroke-width="3.0" stroke-dasharray="7 5" stroke-linecap="butt"/>
<path d="M20 486 L108 490" fill="none" stroke="#f2f2f2" stroke-width="3.0" stroke-dasharray="7 5" stroke-linecap="butt"/>
<path d="M156 338 C200 350 280 352 344 346" fill="none" stroke="#f2f2f2" stroke-width="3.0" stroke-dasharray="7 5" stroke-linecap="butt"/>
<path d="M124 440 C132 480 160 520 200 552 C215 565 232 570 246 560" fill="none" stroke="#f2f2f2" stroke-width="3.0" stroke-dasharray="7 5" stroke-linecap="butt"/>
<path d="M467 448 C462 470 448 490 432 505 C420 515 410 522 405 529 C398 545 392 580 382 602 C376 620 368 630 359 640 C348 655 335 664 320 671 C305 680 290 685 274 687 C258 689 242 688 228 683 C215 678 204 668 197 660 C190 652 185 646 182 640 C190 625 200 610 212 594 C222 582 232 572 243 563 C256 550 268 538 282 525 C294 514 308 503 320 494 C330 486 340 478 351 471 C362 465 374 462 386 462" fill="none" stroke="#f2f2f2" stroke-width="3.0" stroke-dasharray="7 5" stroke-linecap="butt"/>
<ellipse cx="193.00" cy="490.00" rx="38.00" ry="36.00" fill="none" stroke="#f2f2f2" stroke-width="3.0" stroke-dasharray="7 5" stroke-linecap="butt"/>
<line x1="328.00" y1="181.00" x2="300.00" y2="181.64" stroke="#fff" stroke-width="4.0" /><path d="M284.0 182.0 L299.8 174.1 L300.2 189.1 Z" fill="#fff" />
<line x1="372.00" y1="240.00" x2="347.80" y2="249.93" stroke="#fff" stroke-width="4.0" /><path d="M333.0 256.0 L345.0 243.0 L350.6 256.9 Z" fill="#fff" />
<line x1="170.00" y1="300.00" x2="144.86" y2="310.06" stroke="#fff" stroke-width="4.0" /><path d="M130.0 316.0 L142.1 303.1 L147.6 317.0 Z" fill="#fff" />
<line x1="362.00" y1="336.00" x2="344.92" y2="354.30" stroke="#fff" stroke-width="4.0" /><path d="M334.0 366.0 L339.4 349.2 L350.4 359.4 Z" fill="#fff" />
<line x1="246.00" y1="430.00" x2="227.18" y2="442.94" stroke="#fff" stroke-width="4.0" /><path d="M214.0 452.0 L222.9 436.8 L231.4 449.1 Z" fill="#fff" />
<line x1="386.00" y1="426.00" x2="369.72" y2="441.11" stroke="#fff" stroke-width="4.0" /><path d="M358.0 452.0 L364.6 435.6 L374.8 446.6 Z" fill="#fff" />
<line x1="440.00" y1="528.00" x2="413.93" y2="525.52" stroke="#fff" stroke-width="4.0" /><path d="M398.0 524.0 L414.6 518.1 L413.2 533.0 Z" fill="#fff" />
<rect x="40.00" y="690.00" width="83.00" height="8.50" fill="#fff" />
</g></g>
<text x="629.50" y="318.80" fill="#fff" stroke="#fff" stroke-width="0.22">SCs</text>
<text x="640.90" y="334.00" fill="#fff" stroke="#fff" stroke-width="0.22">SCm</text>
<text x="589.40" y="348.70" fill="#fff" stroke="#fff" stroke-width="0.22">PAG</text>
<text x="638.80" y="357.20" fill="#fff" stroke="#fff" stroke-width="0.22">MRN</text>
<text x="605.10" y="376.20" fill="#fff" stroke="#fff" stroke-width="0.22">RN</text>
<text x="643.90" y="378.00" fill="#fff" stroke="#fff" stroke-width="0.22">SPFp</text>
<text x="659.10" y="409.20" fill="#fff" stroke="#fff" stroke-width="0.22">SN</text>
<text x="553.80" y="288.40" font-size="12.60" fill="#fff" font-weight="bold" stroke="#fff" stroke-width="0.35">h</text>
</g>
<g id="p_i">
<defs><clipPath id="iClip"><rect x="30" y="318" width="632" height="749"/></clipPath><linearGradient id="coneG" x1="0" y1="0" x2="0" y2="1"><stop offset="0" stop-color="#6fcdf2"/><stop offset="1" stop-color="#c4eafa"/></linearGradient></defs>
<g transform="translate(15,475) scale(0.20437)" stroke-linecap="round" stroke-linejoin="round">
<rect x="30.00" y="318.00" width="632.00" height="749.00" fill="#fff" />
<g clip-path="url(#iClip)">
<path d="M250 372 C300 384 380 398 440 416 C500 440 560 480 590 512 C618 548 630 580 631 615 C634 660 630 700 620 744 C610 785 597 820 577 851 C562 880 547 905 524 927 C497 955 467 980 427 1002" fill="none" stroke="#ababab" stroke-width="10" />
<path d="M250 372 C300 384 380 398 440 416 C500 440 560 480 590 512 C618 548 630 580 631 615 C634 660 630 700 620 744 C610 785 597 820 577 851 C562 880 547 905 524 927 C497 955 467 980 427 1002" fill="none" stroke="#f2f2f2" stroke-width="5.4" />
<path d="M200 330 C330 340 470 370 560 440 C640 500 662 560 662 600" fill="none" stroke="#a2a2a2" stroke-width="2.2" />
<path d="M330 440 C400 448 450 470 490 505 C545 560 560 640 545 720 C530 800 490 870 430 930" fill="none" stroke="#a2a2a2" stroke-width="2.2" />
<path d="M352 470 C410 480 450 500 480 540 C520 600 520 680 500 750" fill="none" stroke="#a2a2a2" stroke-width="2.2" />
<path d="M549 352 L495 452" fill="none" stroke="#a2a2a2" stroke-width="2.2" />
<path d="M608 385 L556 480" fill="none" stroke="#a2a2a2" stroke-width="2.2" />
<path d="M659 428 L600 512" fill="none" stroke="#a2a2a2" stroke-width="2.2" />
<path d="M662 560 L632 583" fill="none" stroke="#a2a2a2" stroke-width="2.2" />
<path d="M662 680 L634 690" fill="none" stroke="#a2a2a2" stroke-width="2.2" />
<path d="M655 790 L615 780" fill="none" stroke="#a2a2a2" stroke-width="2.2" />
<path d="M630 880 L588 850" fill="none" stroke="#a2a2a2" stroke-width="2.2" />
<path d="M590 950 L550 915" fill="none" stroke="#a2a2a2" stroke-width="2.2" />
<path d="M540 1010 L505 960" fill="none" stroke="#a2a2a2" stroke-width="2.2" />
<path d="M80 330 C140 320 200 340 250 380 C290 410 300 440 340 440" fill="none" stroke="#a2a2a2" stroke-width="2.2" />
<path d="M90 340 C80 370 90 400 130 420" fill="none" stroke="#a2a2a2" stroke-width="2.2" />
<path d="M330 318 C420 330 520 370 600 440 L662 500" fill="none" stroke="#a2a2a2" stroke-width="2.2" />
<path d="M420 318 C500 340 580 380 662 450" fill="none" stroke="#a2a2a2" stroke-width="2.2" />
<path d="M40 640 C60 620 100 630 120 660 C140 700 200 690 230 660" fill="none" stroke="#a2a2a2" stroke-width="2.2" />
<path d="M300 560 C330 600 330 650 300 690 C340 680 360 650 380 640" fill="none" stroke="#a2a2a2" stroke-width="2.2" />
<path d="M300 700 C340 720 360 760 350 800" fill="none" stroke="#a2a2a2" stroke-width="2.2" />
<path d="M330 840 C380 800 420 760 440 700" fill="none" stroke="#a2a2a2" stroke-width="2.2" />
<path d="M350 860 C400 830 450 780 470 720" fill="none" stroke="#a2a2a2" stroke-width="2.2" />
<path d="M90 880 C70 920 90 960 140 960 C120 990 80 1000 40 990" fill="none" stroke="#a2a2a2" stroke-width="2.2" />
<path d="M150 960 C220 990 300 980 360 940 C420 900 470 860 500 800" fill="none" stroke="#a2a2a2" stroke-width="2.2" />
<path d="M160 985 C240 1020 330 1000 400 950" fill="none" stroke="#a2a2a2" stroke-width="2.2" />
<path d="M40 1020 C120 1040 200 1067 260 1067" fill="none" stroke="#a2a2a2" stroke-width="2.2" />
<path d="M300 1067 C340 1020 400 1000 460 990 C520 985 560 1000 600 1040" fill="none" stroke="#a2a2a2" stroke-width="2.2" />
<path d="M440 1000 C470 1030 480 1050 480 1067" fill="none" stroke="#a2a2a2" stroke-width="2.2" />
<path d="M520 995 C560 1030 580 1050 590 1067" fill="none" stroke="#a2a2a2" stroke-width="2.2" />
<path d="M60 1000 L100 1060" fill="none" stroke="#a2a2a2" stroke-width="2.2" />
<path d="M600 900 C620 950 640 1000 662 1030" fill="none" stroke="#a2a2a2" stroke-width="2.2" />
<path d="M80 770 C60 790 70 820 100 810" fill="none" stroke="#a2a2a2" stroke-width="2.2" />
<path d="M200 720 C190 750 200 790 230 800" fill="none" stroke="#a2a2a2" stroke-width="2.2" />
<path d="M400 655 L410 670 M420 652 L428 668 M440 655 L446 668" fill="none" stroke="#a2a2a2" stroke-width="2.2" />
<path d="M70 860 C90 850 110 860 110 880 C100 910 80 930 90 960" fill="none" stroke="#a2a2a2" stroke-width="2.2" />
<path d="M165 870 C150 900 140 930 150 950" fill="none" stroke="#a2a2a2" stroke-width="2.2" />
<path d="M40 505 C36 455 80 428 135 432 C195 440 245 470 264 514 C230 500 180 490 130 492 C95 494 62 500 40 505 Z" fill="#f9c2e4" stroke="#eeaad6" stroke-width="2" />
<path d="M40 505 C62 500 95 494 130 492 C180 490 230 500 264 514 C290 540 305 580 300 625 C296 650 280 660 250 655 C230 668 200 668 180 660 C150 668 120 660 100 640 C80 630 55 630 40 640 Z" fill="#cdcafc" stroke="#b2aef0" stroke-width="2" />
<path d="M45 560 C70 545 100 555 110 580 C130 560 170 565 180 590 C200 600 230 610 240 640 C235 655 215 655 205 640" fill="none" stroke="#a9a5ee" stroke-width="2" />
<path d="M40 605 C70 595 105 605 122 630 C130 660 120 690 100 710 C90 740 70 770 40 790 Z" fill="#bddbb7" stroke="#9cc496" stroke-width="2" />
<path d="M100 710 C110 680 140 662 180 664 C220 662 260 662 290 668 C296 700 280 730 250 745 C230 752 210 760 200 775 C170 760 140 765 120 790 C100 795 80 790 74 775 C80 750 90 730 100 710 Z" fill="#fdd8cb" stroke="#f4c0ae" stroke-width="2" />
<path d="M80 770 C65 785 70 815 98 812" fill="none" stroke="#e8b09c" stroke-width="2" />
<path d="M205 700 C192 735 200 780 232 796" fill="none" stroke="#e8b09c" stroke-width="2" />
<path d="M200 775 C210 745 240 730 275 735 C300 730 325 745 330 765 C325 790 300 800 280 800 C275 825 245 845 215 842 C195 835 195 800 200 775 Z" fill="#d0bfb2" stroke="#bba696" stroke-width="2" />
<path d="M240 760 C260 750 280 760 285 780 M250 790 C265 790 280 800 280 815" fill="none" stroke="#b8a290" stroke-width="2" />
<ellipse cx="155.00" cy="796.00" rx="48.00" ry="42.00" fill="#c4e6fa" stroke="#86c2e8" stroke-width="2.5" />
<ellipse cx="255.00" cy="882.00" rx="118.00" ry="52.00" fill="#b6f4cc" stroke="#66d290" stroke-width="2.5" transform="rotate(-36 255 882)"/>
<line x1="170.00" y1="288.00" x2="246.00" y2="912.00" stroke="#222" stroke-width="4.6" />
</g>
<rect x="30.00" y="318.00" width="632.00" height="749.00" fill="none" stroke="#555" stroke-width="3.6" />
<line x1="170.00" y1="288.00" x2="182.00" y2="388.00" stroke="#222" stroke-width="4.6" />
<path d="M136 74 C130 56 108 68 96 60 C84 56 82 46 76 40" fill="none" stroke="#555" stroke-width="4.2" />
<g transform="rotate(-3 142 104)">
<rect x="100.00" y="74.00" width="84.00" height="60.00" fill="#2f7d3c" stroke="#1e5228" stroke-width="2" />
<rect x="108.00" y="86.00" width="26.00" height="16.00" fill="#0c2412" />
<rect x="140.00" y="92.00" width="40.00" height="18.00" fill="#0c2412" />
<rect x="120.00" y="114.00" width="56.00" height="8.00" fill="#bfe2c0" />
<rect x="128.00" y="66.00" width="22.00" height="8.00" fill="#ddd" />
</g>
<path d="M138 134 L170 134 L176 256 L150 256 Z" fill="#e2982a" stroke="#b5761a" stroke-width="2" />
<rect x="146.00" y="254.00" width="46.00" height="40.00" fill="#2f7d3c" stroke="#1e5228" stroke-width="2" />
<rect x="160.00" y="280.00" width="22.00" height="14.00" fill="#d8d8d8" stroke="#222" stroke-width="2" />
</g>
<text x="69.20" y="574.60" fill="#e245c4" stroke="#e245c4" stroke-width="0.22">SCs</text>
<text x="80.00" y="589.20" fill="#4a55f0" stroke="#4a55f0" stroke-width="0.22">SCm</text>
<text x="93.70" y="606.00" fill="#5fa456" stroke="#5fa456" stroke-width="0.22">PAG</text>
<text x="92.70" y="622.20" fill="#f0642f" stroke="#f0642f" stroke-width="0.22">MRN</text>
<text x="102.50" y="637.20" fill="#8a6448" stroke="#8a6448" stroke-width="0.22">SPFp</text>
<text x="100.80" y="655.30" fill="#35c058" stroke="#35c058" stroke-width="0.22">SN</text>
<text x="35.40" y="658.00" fill="#3585c8" stroke="#3585c8" stroke-width="0.22">RN</text>
<text x="92.70" y="511.90" text-anchor="middle" stroke="#000" stroke-width="0.22">Simultaneously</text>
<text x="92.70" y="522.60" text-anchor="middle" stroke="#000" stroke-width="0.22">record with</text>
<text x="92.70" y="534.00" text-anchor="middle" stroke="#000" stroke-width="0.22">Neuropixels</text>
<text x="33.80" y="706.00" stroke="#000" stroke-width="0.22"><tspan font-style="italic">n</tspan> = 14 mice; 2,300 cells</text>
<text x="196.00" y="492.60" text-anchor="middle" stroke="#000" stroke-width="0.22">Opto</text>
<text x="196.00" y="503.80" text-anchor="middle" stroke="#000" stroke-width="0.22">stim</text>
<rect x="192.60" y="509.20" width="8.20" height="17.60" fill="#414042" />
<path d="M192.6 526.8 L200.8 526.8 C201.6 532 204.6 536 208.6 538.9 L185.6 538.9 C189.4 536 191.8 532 192.6 526.8 Z" fill="url(#coneG)" />
<text x="169.40" y="554.40" stroke="#000" stroke-width="0.22">MPOA<tspan font-size="6.2" stroke-width="0.06" font-style="italic" dy="-4.4">Esr1∩Vgat</tspan></text>
<text x="198.20" y="566.60" text-anchor="middle" stroke="#000" stroke-width="0.22">‘sexual drive’</text>
<text x="194.20" y="661.00" text-anchor="middle" stroke="#000" stroke-width="0.22">Dummy</text>
<text x="194.20" y="672.60" text-anchor="middle" stroke="#000" stroke-width="0.22">female</text>
<text x="194.20" y="684.00" text-anchor="middle" stroke="#000" stroke-width="0.22">contact</text>
<text x="194.20" y="694.80" text-anchor="middle" stroke="#000" stroke-width="0.22">cues</text>
<path d="M191.3 585.8 C184.0 604.0 160.0 618.0 121.5 605.8" fill="none" stroke="#333" stroke-width="0.8" />
<path d="M118.30 604.40 L122.83 604.24 L121.67 607.43 Z" fill="#333" />
<path d="M196.8 586.5 C190.0 612.0 160.0 630.0 121.5 620.6" fill="none" stroke="#333" stroke-width="0.8" />
<path d="M118.30 619.80 L122.79 619.17 L121.96 622.47 Z" fill="#333" />
<path d="M202.0 587.0 C197.0 616.0 170.0 636.0 133.5 633.4" fill="none" stroke="#333" stroke-width="0.8" />
<path d="M130.20 633.20 L134.51 631.80 L134.27 635.19 Z" fill="#333" />
<path d="M207.9 588.0 C204.0 624.0 170.0 650.0 121.0 650.5" fill="none" stroke="#333" stroke-width="0.8" />
<path d="M117.60 650.60 L121.74 648.75 L121.86 652.15 Z" fill="#333" />
<path d="M172 674.6 C152 677 136 673 124.6 666.2" fill="none" stroke="#333" stroke-width="0.8" stroke-dasharray="2.4 1.2 0.8 1.2"/>
<path d="M121.80 664.20 L126.26 664.98 L124.46 667.87 Z" fill="#333" />
</g>
<g id="p_j">
<text x="352.40" y="496.80" text-anchor="middle" stroke="#000" stroke-width="0.22">Example single units</text>
<text x="244.20" y="521.60" stroke="#000" stroke-width="0.22">Trial no.</text>
<text x="298.80" y="514.00" text-anchor="middle" stroke="#000" stroke-width="0.22">SCm</text>
<text x="333.70" y="514.00" text-anchor="middle" stroke="#000" stroke-width="0.22">vPAG</text>
<text x="372.00" y="514.00" text-anchor="middle" stroke="#000" stroke-width="0.22">RRF</text>
<text x="407.30" y="514.00" text-anchor="middle" stroke="#000" stroke-width="0.22">SPFp</text>
<text x="263.60" y="554.40" text-anchor="middle" transform="rotate(-90 263.60 554.40)" stroke="#000" stroke-width="0.22">Both</text>
<text x="255.20" y="612.30" text-anchor="middle" transform="rotate(-90 255.20 612.30)" stroke="#000" stroke-width="0.22">Contact</text>
<text x="265.20" y="612.30" text-anchor="middle" transform="rotate(-90 265.20 612.30)" stroke="#000" stroke-width="0.22">alone</text>
<text x="255.40" y="674.40" text-anchor="middle" transform="rotate(-90 255.40 674.40)" stroke="#000" stroke-width="0.22">Stim<tspan font-size="6.2" stroke-width="0.06" dy="-3.6">MPOA</tspan></text>
<text x="265.20" y="674.40" text-anchor="middle" transform="rotate(-90 265.20 674.40)" stroke="#000" stroke-width="0.22">alone</text>
<text x="243.10" y="716.30" stroke="#000" stroke-width="0.22">ΔFR to:</text>
<text x="282.30" y="716.30" stroke="#000" stroke-width="0.22">Contact</text>
<text x="323.70" y="716.30" stroke="#000" stroke-width="0.22">Stim</text>
<text x="363.60" y="716.30" stroke="#000" stroke-width="0.22">Run</text>
<text x="397.70" y="716.30" stroke="#000" stroke-width="0.22">Both</text>
<path d="M421 710.6 L421 708.4 L432 708.4 L432 710.6" fill="none" stroke="#222" stroke-width="0.8" />
<text x="421.00" y="719.40" stroke="#000" stroke-width="0.22">5 s</text>
<line x1="316.80" y1="517.00" x2="316.80" y2="704.50" stroke="#555" stroke-width="0.7" stroke-dasharray="2.6 1.1 0.8 1.1"/>
<line x1="351.80" y1="517.00" x2="351.80" y2="704.50" stroke="#555" stroke-width="0.7" stroke-dasharray="2.6 1.1 0.8 1.1"/>
<line x1="389.20" y1="517.00" x2="389.20" y2="704.50" stroke="#555" stroke-width="0.7" stroke-dasharray="2.6 1.1 0.8 1.1"/>
<line x1="425.70" y1="517.00" x2="425.70" y2="704.50" stroke="#555" stroke-width="0.7" stroke-dasharray="2.6 1.1 0.8 1.1"/>
<rect x="294.20" y="519.00" width="10.80" height="3.70" fill="#f9b04a" />
<rect x="295.50" y="519.00" width="8.20" height="3.70" fill="#d9536f" />
<rect x="290.50" y="524.90" width="17.50" height="3.20" fill="#4cc3ef" />
<rect x="294.20" y="581.80" width="10.80" height="3.70" fill="#f9b04a" />
<rect x="295.50" y="581.80" width="8.20" height="3.70" fill="#d9536f" />
<rect x="290.50" y="646.50" width="17.50" height="3.30" fill="#4cc3ef" />
<rect x="328.50" y="519.00" width="11.00" height="3.70" fill="#f9b04a" />
<rect x="329.80" y="519.00" width="8.40" height="3.70" fill="#d9536f" />
<rect x="324.80" y="524.90" width="18.20" height="3.20" fill="#4cc3ef" />
<rect x="328.50" y="581.80" width="11.00" height="3.70" fill="#f9b04a" />
<rect x="329.80" y="581.80" width="8.40" height="3.70" fill="#d9536f" />
<rect x="324.80" y="646.50" width="18.20" height="3.30" fill="#4cc3ef" />
<rect x="366.80" y="519.00" width="10.70" height="3.70" fill="#f9b04a" />
<rect x="368.10" y="519.00" width="8.10" height="3.70" fill="#d9536f" />
<rect x="362.80" y="524.90" width="17.80" height="3.20" fill="#4cc3ef" />
<rect x="366.80" y="581.80" width="10.70" height="3.70" fill="#f9b04a" />
<rect x="368.10" y="581.80" width="8.10" height="3.70" fill="#d9536f" />
<rect x="362.80" y="646.50" width="17.80" height="3.30" fill="#4cc3ef" />
<rect x="402.00" y="519.00" width="10.80" height="3.70" fill="#f9b04a" />
<rect x="403.30" y="519.00" width="8.20" height="3.70" fill="#d9536f" />
<rect x="398.40" y="524.90" width="17.80" height="3.20" fill="#4cc3ef" />
<rect x="402.00" y="581.80" width="10.80" height="3.70" fill="#f9b04a" />
<rect x="403.30" y="581.80" width="8.20" height="3.70" fill="#d9536f" />
<rect x="398.40" y="646.50" width="17.80" height="3.30" fill="#4cc3ef" />
<line x1="280.20" y1="529.20" x2="280.20" y2="577.40" stroke="#333" stroke-width="0.6" />
<line x1="278.90" y1="531.61" x2="280.20" y2="531.61" stroke="#333" stroke-width="0.5" />
<text x="278.20" y="531.61" font-size="3.20" text-anchor="middle" transform="rotate(-90 278.20 531.61)" stroke="#000" stroke-width="0.22">10</text>
<line x1="278.90" y1="536.43" x2="280.20" y2="536.43" stroke="#333" stroke-width="0.5" />
<text x="278.20" y="536.43" font-size="3.20" text-anchor="middle" transform="rotate(-90 278.20 536.43)" stroke="#000" stroke-width="0.22">9</text>
<line x1="278.90" y1="541.25" x2="280.20" y2="541.25" stroke="#333" stroke-width="0.5" />
<text x="278.20" y="541.25" font-size="3.20" text-anchor="middle" transform="rotate(-90 278.20 541.25)" stroke="#000" stroke-width="0.22">8</text>
<line x1="278.90" y1="546.07" x2="280.20" y2="546.07" stroke="#333" stroke-width="0.5" />
<text x="278.20" y="546.07" font-size="3.20" text-anchor="middle" transform="rotate(-90 278.20 546.07)" stroke="#000" stroke-width="0.22">7</text>
<line x1="278.90" y1="550.89" x2="280.20" y2="550.89" stroke="#333" stroke-width="0.5" />
<text x="278.20" y="550.89" font-size="3.20" text-anchor="middle" transform="rotate(-90 278.20 550.89)" stroke="#000" stroke-width="0.22">6</text>
<line x1="278.90" y1="555.71" x2="280.20" y2="555.71" stroke="#333" stroke-width="0.5" />
<text x="278.20" y="555.71" font-size="3.20" text-anchor="middle" transform="rotate(-90 278.20 555.71)" stroke="#000" stroke-width="0.22">5</text>
<line x1="278.90" y1="560.53" x2="280.20" y2="560.53" stroke="#333" stroke-width="0.5" />
<text x="278.20" y="560.53" font-size="3.20" text-anchor="middle" transform="rotate(-90 278.20 560.53)" stroke="#000" stroke-width="0.22">4</text>
<line x1="278.90" y1="565.35" x2="280.20" y2="565.35" stroke="#333" stroke-width="0.5" />
<text x="278.20" y="565.35" font-size="3.20" text-anchor="middle" transform="rotate(-90 278.20 565.35)" stroke="#000" stroke-width="0.22">3</text>
<line x1="278.90" y1="570.17" x2="280.20" y2="570.17" stroke="#333" stroke-width="0.5" />
<text x="278.20" y="570.17" font-size="3.20" text-anchor="middle" transform="rotate(-90 278.20 570.17)" stroke="#000" stroke-width="0.22">2</text>
<line x1="278.90" y1="574.99" x2="280.20" y2="574.99" stroke="#333" stroke-width="0.5" />
<text x="278.20" y="574.99" font-size="3.20" text-anchor="middle" transform="rotate(-90 278.20 574.99)" stroke="#000" stroke-width="0.22">1</text>
<line x1="280.20" y1="587.50" x2="280.20" y2="636.20" stroke="#333" stroke-width="0.6" />
<line x1="278.90" y1="589.93" x2="280.20" y2="589.93" stroke="#333" stroke-width="0.5" />
<text x="278.20" y="589.93" font-size="3.20" text-anchor="middle" transform="rotate(-90 278.20 589.93)" stroke="#000" stroke-width="0.22">10</text>
<line x1="278.90" y1="594.81" x2="280.20" y2="594.81" stroke="#333" stroke-width="0.5" />
<text x="278.20" y="594.81" font-size="3.20" text-anchor="middle" transform="rotate(-90 278.20 594.81)" stroke="#000" stroke-width="0.22">9</text>
<line x1="278.90" y1="599.67" x2="280.20" y2="599.67" stroke="#333" stroke-width="0.5" />
<text x="278.20" y="599.67" font-size="3.20" text-anchor="middle" transform="rotate(-90 278.20 599.67)" stroke="#000" stroke-width="0.22">8</text>
<line x1="278.90" y1="604.55" x2="280.20" y2="604.55" stroke="#333" stroke-width="0.5" />
<text x="278.20" y="604.55" font-size="3.20" text-anchor="middle" transform="rotate(-90 278.20 604.55)" stroke="#000" stroke-width="0.22">7</text>
<line x1="278.90" y1="609.41" x2="280.20" y2="609.41" stroke="#333" stroke-width="0.5" />
<text x="278.20" y="609.41" font-size="3.20" text-anchor="middle" transform="rotate(-90 278.20 609.41)" stroke="#000" stroke-width="0.22">6</text>
<line x1="278.90" y1="614.29" x2="280.20" y2="614.29" stroke="#333" stroke-width="0.5" />
<text x="278.20" y="614.29" font-size="3.20" text-anchor="middle" transform="rotate(-90 278.20 614.29)" stroke="#000" stroke-width="0.22">5</text>
<line x1="278.90" y1="619.15" x2="280.20" y2="619.15" stroke="#333" stroke-width="0.5" />
<text x="278.20" y="619.15" font-size="3.20" text-anchor="middle" transform="rotate(-90 278.20 619.15)" stroke="#000" stroke-width="0.22">4</text>
<line x1="278.90" y1="624.03" x2="280.20" y2="624.03" stroke="#333" stroke-width="0.5" />
<text x="278.20" y="624.03" font-size="3.20" text-anchor="middle" transform="rotate(-90 278.20 624.03)" stroke="#000" stroke-width="0.22">3</text>
<line x1="278.90" y1="628.89" x2="280.20" y2="628.89" stroke="#333" stroke-width="0.5" />
<text x="278.20" y="628.89" font-size="3.20" text-anchor="middle" transform="rotate(-90 278.20 628.89)" stroke="#000" stroke-width="0.22">2</text>
<line x1="278.90" y1="633.77" x2="280.20" y2="633.77" stroke="#333" stroke-width="0.5" />
<text x="278.20" y="633.77" font-size="3.20" text-anchor="middle" transform="rotate(-90 278.20 633.77)" stroke="#000" stroke-width="0.22">1</text>
<line x1="280.20" y1="650.60" x2="280.20" y2="699.60" stroke="#333" stroke-width="0.6" />
<line x1="278.90" y1="653.05" x2="280.20" y2="653.05" stroke="#333" stroke-width="0.5" />
<text x="278.20" y="653.05" font-size="3.20" text-anchor="middle" transform="rotate(-90 278.20 653.05)" stroke="#000" stroke-width="0.22">10</text>
<line x1="278.90" y1="657.95" x2="280.20" y2="657.95" stroke="#333" stroke-width="0.5" />
<text x="278.20" y="657.95" font-size="3.20" text-anchor="middle" transform="rotate(-90 278.20 657.95)" stroke="#000" stroke-width="0.22">9</text>
<line x1="278.90" y1="662.85" x2="280.20" y2="662.85" stroke="#333" stroke-width="0.5" />
<text x="278.20" y="662.85" font-size="3.20" text-anchor="middle" transform="rotate(-90 278.20 662.85)" stroke="#000" stroke-width="0.22">8</text>
<line x1="278.90" y1="667.75" x2="280.20" y2="667.75" stroke="#333" stroke-width="0.5" />
<text x="278.20" y="667.75" font-size="3.20" text-anchor="middle" transform="rotate(-90 278.20 667.75)" stroke="#000" stroke-width="0.22">7</text>
<line x1="278.90" y1="672.65" x2="280.20" y2="672.65" stroke="#333" stroke-width="0.5" />
<text x="278.20" y="672.65" font-size="3.20" text-anchor="middle" transform="rotate(-90 278.20 672.65)" stroke="#000" stroke-width="0.22">6</text>
<line x1="278.90" y1="677.55" x2="280.20" y2="677.55" stroke="#333" stroke-width="0.5" />
<text x="278.20" y="677.55" font-size="3.20" text-anchor="middle" transform="rotate(-90 278.20 677.55)" stroke="#000" stroke-width="0.22">5</text>
<line x1="278.90" y1="682.45" x2="280.20" y2="682.45" stroke="#333" stroke-width="0.5" />
<text x="278.20" y="682.45" font-size="3.20" text-anchor="middle" transform="rotate(-90 278.20 682.45)" stroke="#000" stroke-width="0.22">4</text>
<line x1="278.90" y1="687.35" x2="280.20" y2="687.35" stroke="#333" stroke-width="0.5" />
<text x="278.20" y="687.35" font-size="3.20" text-anchor="middle" transform="rotate(-90 278.20 687.35)" stroke="#000" stroke-width="0.22">3</text>
<line x1="278.90" y1="692.25" x2="280.20" y2="692.25" stroke="#333" stroke-width="0.5" />
<text x="278.20" y="692.25" font-size="3.20" text-anchor="middle" transform="rotate(-90 278.20 692.25)" stroke="#000" stroke-width="0.22">2</text>
<line x1="278.90" y1="697.15" x2="280.20" y2="697.15" stroke="#333" stroke-width="0.5" />
<text x="278.20" y="697.15" font-size="3.20" text-anchor="middle" transform="rotate(-90 278.20 697.15)" stroke="#000" stroke-width="0.22">1</text>
<rect x="285.80" y="529.20" width="0.90" height="4.87" fill="#111" opacity="0.56"/>
<rect x="289.60" y="529.20" width="0.70" height="4.87" fill="#111" opacity="0.67"/>
<rect x="295.00" y="529.20" width="0.70" height="4.87" fill="#111" opacity="0.92"/>
<rect x="295.70" y="529.20" width="0.70" height="4.87" fill="#111" opacity="1.00"/>
<rect x="296.40" y="529.20" width="1.10" height="4.87" fill="#111" opacity="0.99"/>
<rect x="297.50" y="529.20" width="0.70" height="4.87" fill="#111" opacity="1.00"/>
<rect x="298.20" y="529.20" width="1.10" height="4.87" fill="#111" opacity="1.00"/>
<rect x="299.30" y="529.20" width="0.70" height="4.87" fill="#111" opacity="0.94"/>
<rect x="300.00" y="529.20" width="0.70" height="4.87" fill="#111" opacity="1.00"/>
<rect x="300.70" y="529.20" width="0.70" height="4.87" fill="#111" opacity="1.00"/>
<rect x="301.40" y="529.20" width="0.90" height="4.87" fill="#111" opacity="1.00"/>
<rect x="302.30" y="529.20" width="1.10" height="4.87" fill="#111" opacity="1.00"/>
<rect x="303.40" y="529.20" width="1.30" height="4.87" fill="#111" opacity="1.00"/>
<rect x="304.70" y="529.20" width="0.70" height="4.87" fill="#111" opacity="1.00"/>
<rect x="305.40" y="529.20" width="1.30" height="4.87" fill="#111" opacity="1.00"/>
<rect x="308.90" y="529.20" width="1.30" height="4.87" fill="#111" opacity="0.87"/>
<rect x="281.00" y="534.02" width="0.70" height="4.87" fill="#111" opacity="0.72"/>
<rect x="283.50" y="534.02" width="1.30" height="4.87" fill="#111" opacity="0.76"/>
<rect x="285.50" y="534.02" width="0.90" height="4.87" fill="#111" opacity="0.40"/>
<rect x="295.50" y="534.02" width="0.70" height="4.87" fill="#111" opacity="1.00"/>
<rect x="296.20" y="534.02" width="0.70" height="4.87" fill="#111" opacity="0.89"/>
<rect x="296.90" y="534.02" width="1.30" height="4.87" fill="#111" opacity="1.00"/>
<rect x="298.20" y="534.02" width="1.30" height="4.87" fill="#111" opacity="1.00"/>
<rect x="299.50" y="534.02" width="0.70" height="4.87" fill="#111" opacity="1.00"/>
<rect x="300.20" y="534.02" width="1.30" height="4.87" fill="#111" opacity="1.00"/>
<rect x="301.50" y="534.02" width="1.10" height="4.87" fill="#111" opacity="0.82"/>
<rect x="302.60" y="534.02" width="0.90" height="4.87" fill="#111" opacity="1.00"/>
<rect x="303.50" y="534.02" width="0.90" height="4.87" fill="#111" opacity="1.00"/>
<rect x="304.40" y="534.02" width="0.90" height="4.87" fill="#111" opacity="0.51"/>
<rect x="305.30" y="534.02" width="0.70" height="4.87" fill="#111" opacity="0.94"/>
<rect x="310.00" y="534.02" width="0.70" height="4.87" fill="#111" opacity="0.44"/>
<rect x="311.80" y="534.02" width="0.70" height="4.87" fill="#111" opacity="0.42"/>
<rect x="287.00" y="538.84" width="0.70" height="4.87" fill="#111" opacity="0.71"/>
<rect x="294.60" y="538.84" width="0.70" height="4.87" fill="#111" opacity="1.00"/>
<rect x="295.30" y="538.84" width="1.30" height="4.87" fill="#111" opacity="1.00"/>
<rect x="296.60" y="538.84" width="0.90" height="4.87" fill="#111" opacity="1.00"/>
<rect x="297.50" y="538.84" width="1.10" height="4.87" fill="#111" opacity="0.65"/>
<rect x="298.60" y="538.84" width="1.10" height="4.87" fill="#111" opacity="1.00"/>
<rect x="299.70" y="538.84" width="1.10" height="4.87" fill="#111" opacity="0.71"/>
<rect x="300.80" y="538.84" width="0.90" height="4.87" fill="#111" opacity="1.00"/>
<rect x="301.70" y="538.84" width="1.30" height="4.87" fill="#111" opacity="1.00"/>
<rect x="303.00" y="538.84" width="0.90" height="4.87" fill="#111" opacity="0.97"/>
<rect x="303.90" y="538.84" width="0.70" height="4.87" fill="#111" opacity="1.00"/>
<rect x="304.60" y="538.84" width="0.90" height="4.87" fill="#111" opacity="0.99"/>
<rect x="305.50" y="538.84" width="1.30" height="4.87" fill="#111" opacity="1.00"/>
<rect x="291.10" y="543.66" width="0.90" height="4.87" fill="#111" opacity="0.79"/>
<rect x="294.60" y="543.66" width="0.70" height="4.87" fill="#111" opacity="0.67"/>
<rect x="295.30" y="543.66" width="1.10" height="4.87" fill="#111" opacity="0.87"/>
<rect x="296.40" y="543.66" width="0.90" height="4.87" fill="#111" opacity="1.00"/>
<rect x="297.30" y="543.66" width="0.70" height="4.87" fill="#111" opacity="0.77"/>
<rect x="299.30" y="543.66" width="1.10" height="4.87" fill="#111" opacity="1.00"/>
<rect x="300.40" y="543.66" width="0.70" height="4.87" fill="#111" opacity="0.87"/>
<rect x="301.10" y="543.66" width="0.70" height="4.87" fill="#111" opacity="0.93"/>
<rect x="301.80" y="543.66" width="1.10" height="4.87" fill="#111" opacity="1.00"/>
<rect x="302.90" y="543.66" width="0.70" height="4.87" fill="#111" opacity="1.00"/>
<rect x="303.60" y="543.66" width="0.70" height="4.87" fill="#111" opacity="0.88"/>
<rect x="304.30" y="543.66" width="1.10" height="4.87" fill="#111" opacity="1.00"/>
<rect x="305.40" y="543.66" width="1.30" height="4.87" fill="#111" opacity="0.93"/>
<rect x="284.60" y="548.48" width="1.30" height="4.87" fill="#111" opacity="0.83"/>
<rect x="287.90" y="548.48" width="0.90" height="4.87" fill="#111" opacity="0.54"/>
<rect x="295.10" y="548.48" width="0.70" height="4.87" fill="#111" opacity="0.70"/>
<rect x="295.80" y="548.48" width="0.90" height="4.87" fill="#111" opacity="0.73"/>
<rect x="296.70" y="548.48" width="0.70" height="4.87" fill="#111" opacity="1.00"/>
<rect x="297.40" y="548.48" width="1.10" height="4.87" fill="#111" opacity="1.00"/>
<rect x="298.50" y="548.48" width="1.10" height="4.87" fill="#111" opacity="0.80"/>
<rect x="299.60" y="548.48" width="0.70" height="4.87" fill="#111" opacity="1.00"/>
<rect x="300.30" y="548.48" width="1.10" height="4.87" fill="#111" opacity="0.92"/>
<rect x="301.40" y="548.48" width="0.70" height="4.87" fill="#111" opacity="0.65"/>
<rect x="302.10" y="548.48" width="1.30" height="4.87" fill="#111" opacity="0.85"/>
<rect x="303.40" y="548.48" width="0.90" height="4.87" fill="#111" opacity="0.87"/>
<rect x="304.30" y="548.48" width="0.90" height="4.87" fill="#111" opacity="1.00"/>
<rect x="305.20" y="548.48" width="0.90" height="4.87" fill="#111" opacity="0.68"/>
<rect x="307.20" y="548.48" width="0.90" height="4.87" fill="#111" opacity="1.00"/>
<rect x="314.50" y="548.48" width="0.70" height="4.87" fill="#111" opacity="0.59"/>
<rect x="293.00" y="553.30" width="1.30" height="4.87" fill="#111" opacity="0.75"/>
<rect x="294.30" y="553.30" width="1.30" height="4.87" fill="#111" opacity="1.00"/>
<rect x="295.60" y="553.30" width="1.30" height="4.87" fill="#111" opacity="0.84"/>
<rect x="296.90" y="553.30" width="0.70" height="4.87" fill="#111" opacity="1.00"/>
<rect x="297.60" y="553.30" width="0.90" height="4.87" fill="#111" opacity="0.92"/>
<rect x="298.50" y="553.30" width="0.90" height="4.87" fill="#111" opacity="1.00"/>
<rect x="299.40" y="553.30" width="0.70" height="4.87" fill="#111" opacity="1.00"/>
<rect x="300.10" y="553.30" width="1.30" height="4.87" fill="#111" opacity="1.00"/>
<rect x="301.40" y="553.30" width="0.90" height="4.87" fill="#111" opacity="1.00"/>
<rect x="302.30" y="553.30" width="1.10" height="4.87" fill="#111" opacity="1.00"/>
<rect x="303.40" y="553.30" width="0.70" height="4.87" fill="#111" opacity="1.00"/>
<rect x="304.10" y="553.30" width="1.30" height="4.87" fill="#111" opacity="0.68"/>
<rect x="305.40" y="553.30" width="1.10" height="4.87" fill="#111" opacity="0.92"/>
<rect x="307.40" y="553.30" width="0.90" height="4.87" fill="#111" opacity="0.32"/>
<rect x="309.40" y="553.30" width="0.70" height="4.87" fill="#111" opacity="0.41"/>
<rect x="284.90" y="558.12" width="1.30" height="4.87" fill="#111" opacity="0.81"/>
<rect x="294.30" y="558.12" width="1.30" height="4.87" fill="#111" opacity="0.77"/>
<rect x="295.60" y="558.12" width="1.10" height="4.87" fill="#111" opacity="0.99"/>
<rect x="296.70" y="558.12" width="1.30" height="4.87" fill="#111" opacity="0.89"/>
<rect x="298.00" y="558.12" width="1.10" height="4.87" fill="#111" opacity="0.98"/>
<rect x="299.10" y="558.12" width="0.90" height="4.87" fill="#111" opacity="0.90"/>
<rect x="300.00" y="558.12" width="1.30" height="4.87" fill="#111" opacity="0.89"/>
<rect x="301.30" y="558.12" width="1.10" height="4.87" fill="#111" opacity="1.00"/>
<rect x="302.40" y="558.12" width="1.10" height="4.87" fill="#111" opacity="1.00"/>
<rect x="303.50" y="558.12" width="0.90" height="4.87" fill="#111" opacity="0.51"/>
<rect x="304.40" y="558.12" width="0.90" height="4.87" fill="#111" opacity="1.00"/>
<rect x="305.30" y="558.12" width="0.70" height="4.87" fill="#111" opacity="1.00"/>
<rect x="306.90" y="558.12" width="0.70" height="4.87" fill="#111" opacity="0.42"/>
<rect x="290.70" y="562.94" width="1.30" height="4.87" fill="#111" opacity="0.73"/>
<rect x="292.00" y="562.94" width="1.10" height="4.87" fill="#111" opacity="0.62"/>
<rect x="294.70" y="562.94" width="1.10" height="4.87" fill="#111" opacity="0.93"/>
<rect x="295.80" y="562.94" width="1.30" height="4.87" fill="#111" opacity="1.00"/>
<rect x="297.10" y="562.94" width="0.70" height="4.87" fill="#111" opacity="0.69"/>
<rect x="297.80" y="562.94" width="0.90" height="4.87" fill="#111" opacity="1.00"/>
<rect x="298.70" y="562.94" width="1.10" height="4.87" fill="#111" opacity="1.00"/>
<rect x="299.80" y="562.94" width="1.10" height="4.87" fill="#111" opacity="1.00"/>
<rect x="300.90" y="562.94" width="0.90" height="4.87" fill="#111" opacity="0.98"/>
<rect x="301.80" y="562.94" width="1.10" height="4.87" fill="#111" opacity="1.00"/>
<rect x="302.90" y="562.94" width="0.70" height="4.87" fill="#111" opacity="0.71"/>
<rect x="303.60" y="562.94" width="1.30" height="4.87" fill="#111" opacity="0.89"/>
<rect x="304.90" y="562.94" width="0.70" height="4.87" fill="#111" opacity="1.00"/>
<rect x="308.70" y="562.94" width="0.90" height="4.87" fill="#111" opacity="0.93"/>
<rect x="281.90" y="567.76" width="0.90" height="4.87" fill="#111" opacity="0.61"/>
<rect x="292.80" y="567.76" width="1.30" height="4.87" fill="#111" opacity="0.55"/>
<rect x="295.20" y="567.76" width="0.70" height="4.87" fill="#111" opacity="1.00"/>
<rect x="295.90" y="567.76" width="1.10" height="4.87" fill="#111" opacity="1.00"/>
<rect x="297.00" y="567.76" width="0.90" height="4.87" fill="#111" opacity="1.00"/>
<rect x="297.90" y="567.76" width="0.90" height="4.87" fill="#111" opacity="0.85"/>
<rect x="298.80" y="567.76" width="1.10" height="4.87" fill="#111" opacity="0.90"/>
<rect x="299.90" y="567.76" width="1.10" height="4.87" fill="#111" opacity="1.00"/>
<rect x="301.00" y="567.76" width="1.30" height="4.87" fill="#111" opacity="1.00"/>
<rect x="302.30" y="567.76" width="0.70" height="4.87" fill="#111" opacity="0.97"/>
<rect x="303.00" y="567.76" width="1.10" height="4.87" fill="#111" opacity="1.00"/>
<rect x="304.10" y="567.76" width="1.30" height="4.87" fill="#111" opacity="0.68"/>
<rect x="305.40" y="567.76" width="0.70" height="4.87" fill="#111" opacity="0.95"/>
<rect x="307.40" y="567.76" width="0.90" height="4.87" fill="#111" opacity="0.29"/>
<rect x="282.80" y="572.58" width="1.30" height="4.87" fill="#111" opacity="0.28"/>
<rect x="295.10" y="572.58" width="0.70" height="4.87" fill="#111" opacity="1.00"/>
<rect x="295.80" y="572.58" width="0.90" height="4.87" fill="#111" opacity="1.00"/>
<rect x="298.00" y="572.58" width="1.10" height="4.87" fill="#111" opacity="1.00"/>
<rect x="299.10" y="572.58" width="0.70" height="4.87" fill="#111" opacity="1.00"/>
<rect x="299.80" y="572.58" width="1.30" height="4.87" fill="#111" opacity="1.00"/>
<rect x="301.10" y="572.58" width="1.30" height="4.87" fill="#111" opacity="0.98"/>
<rect x="302.40" y="572.58" width="0.90" height="4.87" fill="#111" opacity="0.77"/>
<rect x="303.30" y="572.58" width="1.10" height="4.87" fill="#111" opacity="1.00"/>
<rect x="304.40" y="572.58" width="0.90" height="4.87" fill="#111" opacity="0.84"/>
<rect x="305.30" y="572.58" width="1.10" height="4.87" fill="#111" opacity="1.00"/>
<rect x="306.40" y="572.58" width="0.90" height="4.87" fill="#111" opacity="0.73"/>
<rect x="309.60" y="572.58" width="1.30" height="4.87" fill="#111" opacity="0.59"/>
<rect x="310.90" y="572.58" width="1.10" height="4.87" fill="#111" opacity="0.34"/>
<rect x="284.30" y="587.50" width="1.30" height="4.92" fill="#111" opacity="0.46"/>
<rect x="286.30" y="587.50" width="0.90" height="4.92" fill="#111" opacity="0.75"/>
<rect x="293.50" y="587.50" width="0.90" height="4.92" fill="#111" opacity="0.36"/>
<rect x="295.50" y="587.50" width="1.30" height="4.92" fill="#111" opacity="1.00"/>
<rect x="296.80" y="587.50" width="0.70" height="4.92" fill="#111" opacity="1.00"/>
<rect x="297.50" y="587.50" width="1.10" height="4.92" fill="#111" opacity="1.00"/>
<rect x="298.60" y="587.50" width="1.10" height="4.92" fill="#111" opacity="1.00"/>
<rect x="299.70" y="587.50" width="1.30" height="4.92" fill="#111" opacity="0.86"/>
<rect x="301.00" y="587.50" width="0.90" height="4.92" fill="#111" opacity="1.00"/>
<rect x="301.90" y="587.50" width="0.90" height="4.92" fill="#111" opacity="1.00"/>
<rect x="302.80" y="587.50" width="1.30" height="4.92" fill="#111" opacity="0.74"/>
<rect x="304.10" y="587.50" width="0.70" height="4.92" fill="#111" opacity="1.00"/>
<rect x="283.50" y="592.37" width="1.30" height="4.92" fill="#111" opacity="0.37"/>
<rect x="293.30" y="592.37" width="0.90" height="4.92" fill="#111" opacity="0.71"/>
<rect x="295.50" y="592.37" width="1.10" height="4.92" fill="#111" opacity="1.00"/>
<rect x="296.60" y="592.37" width="0.70" height="4.92" fill="#111" opacity="0.93"/>
<rect x="297.30" y="592.37" width="0.90" height="4.92" fill="#111" opacity="0.81"/>
<rect x="298.20" y="592.37" width="0.70" height="4.92" fill="#111" opacity="0.93"/>
<rect x="298.90" y="592.37" width="1.10" height="4.92" fill="#111" opacity="1.00"/>
<rect x="300.00" y="592.37" width="1.10" height="4.92" fill="#111" opacity="0.61"/>
<rect x="301.10" y="592.37" width="0.70" height="4.92" fill="#111" opacity="1.00"/>
<rect x="301.80" y="592.37" width="1.10" height="4.92" fill="#111" opacity="1.00"/>
<rect x="302.90" y="592.37" width="1.10" height="4.92" fill="#111" opacity="1.00"/>
<rect x="304.00" y="592.37" width="0.70" height="4.92" fill="#111" opacity="1.00"/>
<rect x="304.70" y="592.37" width="1.30" height="4.92" fill="#111" opacity="1.00"/>
<rect x="308.20" y="592.37" width="0.70" height="4.92" fill="#111" opacity="0.50"/>
<rect x="313.60" y="592.37" width="1.10" height="4.92" fill="#111" opacity="0.61"/>
<rect x="292.60" y="597.24" width="0.70" height="4.92" fill="#111" opacity="0.28"/>
<rect x="294.60" y="597.24" width="1.10" height="4.92" fill="#111" opacity="0.95"/>
<rect x="295.70" y="597.24" width="0.70" height="4.92" fill="#111" opacity="1.00"/>
<rect x="296.40" y="597.24" width="1.30" height="4.92" fill="#111" opacity="1.00"/>
<rect x="297.70" y="597.24" width="1.30" height="4.92" fill="#111" opacity="0.66"/>
<rect x="299.00" y="597.24" width="0.90" height="4.92" fill="#111" opacity="0.78"/>
<rect x="300.60" y="597.24" width="1.10" height="4.92" fill="#111" opacity="0.64"/>
<rect x="301.70" y="597.24" width="1.30" height="4.92" fill="#111" opacity="1.00"/>
<rect x="303.00" y="597.24" width="1.30" height="4.92" fill="#111" opacity="1.00"/>
<rect x="304.30" y="597.24" width="0.70" height="4.92" fill="#111" opacity="0.57"/>
<rect x="305.00" y="597.24" width="1.30" height="4.92" fill="#111" opacity="0.44"/>
<rect x="311.20" y="597.24" width="0.90" height="4.92" fill="#111" opacity="0.96"/>
<rect x="292.40" y="602.11" width="0.90" height="4.92" fill="#111" opacity="0.62"/>
<rect x="293.30" y="602.11" width="1.10" height="4.92" fill="#111" opacity="0.48"/>
<rect x="295.30" y="602.11" width="1.10" height="4.92" fill="#111" opacity="0.89"/>
<rect x="296.40" y="602.11" width="1.10" height="4.92" fill="#111" opacity="0.94"/>
<rect x="298.40" y="602.11" width="0.90" height="4.92" fill="#111" opacity="1.00"/>
<rect x="299.30" y="602.11" width="1.10" height="4.92" fill="#111" opacity="0.93"/>
<rect x="300.40" y="602.11" width="0.70" height="4.92" fill="#111" opacity="0.85"/>
<rect x="301.10" y="602.11" width="0.70" height="4.92" fill="#111" opacity="1.00"/>
<rect x="301.80" y="602.11" width="1.10" height="4.92" fill="#111" opacity="1.00"/>
<rect x="302.90" y="602.11" width="1.30" height="4.92" fill="#111" opacity="1.00"/>
<rect x="304.20" y="602.11" width="0.90" height="4.92" fill="#111" opacity="1.00"/>
<rect x="306.20" y="602.11" width="0.70" height="4.92" fill="#111" opacity="1.00"/>
<rect x="307.60" y="602.11" width="1.30" height="4.92" fill="#111" opacity="0.28"/>
<rect x="308.90" y="602.11" width="1.30" height="4.92" fill="#111" opacity="0.86"/>
<rect x="314.60" y="602.11" width="0.90" height="4.92" fill="#111" opacity="0.68"/>
<rect x="293.40" y="606.98" width="0.70" height="4.92" fill="#111" opacity="0.76"/>
<rect x="295.00" y="606.98" width="0.70" height="4.92" fill="#111" opacity="0.90"/>
<rect x="295.70" y="606.98" width="0.70" height="4.92" fill="#111" opacity="1.00"/>
<rect x="296.40" y="606.98" width="1.10" height="4.92" fill="#111" opacity="0.74"/>
<rect x="297.50" y="606.98" width="1.30" height="4.92" fill="#111" opacity="1.00"/>
<rect x="298.80" y="606.98" width="1.10" height="4.92" fill="#111" opacity="0.93"/>
<rect x="299.90" y="606.98" width="1.30" height="4.92" fill="#111" opacity="1.00"/>
<rect x="301.20" y="606.98" width="0.70" height="4.92" fill="#111" opacity="0.73"/>
<rect x="301.90" y="606.98" width="1.30" height="4.92" fill="#111" opacity="1.00"/>
<rect x="303.20" y="606.98" width="0.70" height="4.92" fill="#111" opacity="1.00"/>
<rect x="303.90" y="606.98" width="0.90" height="4.92" fill="#111" opacity="0.72"/>
<rect x="304.80" y="606.98" width="0.70" height="4.92" fill="#111" opacity="0.63"/>
<rect x="306.80" y="606.98" width="0.90" height="4.92" fill="#111" opacity="0.33"/>
<rect x="308.40" y="606.98" width="0.90" height="4.92" fill="#111" opacity="0.46"/>
<rect x="312.70" y="606.98" width="0.90" height="4.92" fill="#111" opacity="0.30"/>
<rect x="291.60" y="611.85" width="1.30" height="4.92" fill="#111" opacity="0.71"/>
<rect x="295.10" y="611.85" width="0.90" height="4.92" fill="#111" opacity="0.78"/>
<rect x="296.00" y="611.85" width="0.90" height="4.92" fill="#111" opacity="1.00"/>
<rect x="296.90" y="611.85" width="1.10" height="4.92" fill="#111" opacity="0.99"/>
<rect x="298.00" y="611.85" width="0.90" height="4.92" fill="#111" opacity="0.70"/>
<rect x="298.90" y="611.85" width="0.70" height="4.92" fill="#111" opacity="0.95"/>
<rect x="299.60" y="611.85" width="0.70" height="4.92" fill="#111" opacity="1.00"/>
<rect x="300.30" y="611.85" width="1.30" height="4.92" fill="#111" opacity="1.00"/>
<rect x="301.60" y="611.85" width="0.70" height="4.92" fill="#111" opacity="0.80"/>
<rect x="302.30" y="611.85" width="0.90" height="4.92" fill="#111" opacity="1.00"/>
<rect x="303.20" y="611.85" width="0.90" height="4.92" fill="#111" opacity="1.00"/>
<rect x="304.10" y="611.85" width="1.10" height="4.92" fill="#111" opacity="0.73"/>
<rect x="287.90" y="616.72" width="1.10" height="4.92" fill="#111" opacity="0.58"/>
<rect x="289.00" y="616.72" width="1.30" height="4.92" fill="#111" opacity="0.31"/>
<rect x="291.40" y="616.72" width="1.10" height="4.92" fill="#111" opacity="0.55"/>
<rect x="292.50" y="616.72" width="1.30" height="4.92" fill="#111" opacity="0.56"/>
<rect x="294.70" y="616.72" width="1.10" height="4.92" fill="#111" opacity="0.86"/>
<rect x="295.80" y="616.72" width="0.90" height="4.92" fill="#111" opacity="1.00"/>
<rect x="296.70" y="616.72" width="1.10" height="4.92" fill="#111" opacity="1.00"/>
<rect x="297.80" y="616.72" width="0.70" height="4.92" fill="#111" opacity="1.00"/>
<rect x="298.50" y="616.72" width="1.30" height="4.92" fill="#111" opacity="1.00"/>
<rect x="299.80" y="616.72" width="1.30" height="4.92" fill="#111" opacity="0.85"/>
<rect x="301.10" y="616.72" width="1.10" height="4.92" fill="#111" opacity="0.92"/>
<rect x="302.20" y="616.72" width="0.70" height="4.92" fill="#111" opacity="0.80"/>
<rect x="302.90" y="616.72" width="1.10" height="4.92" fill="#111" opacity="1.00"/>
<rect x="304.00" y="616.72" width="0.90" height="4.92" fill="#111" opacity="0.90"/>
<rect x="304.90" y="616.72" width="1.10" height="4.92" fill="#111" opacity="0.66"/>
<rect x="308.90" y="616.72" width="0.70" height="4.92" fill="#111" opacity="0.74"/>
<rect x="310.90" y="616.72" width="1.30" height="4.92" fill="#111" opacity="0.28"/>
<rect x="284.60" y="621.59" width="1.30" height="4.92" fill="#111" opacity="0.28"/>
<rect x="291.30" y="621.59" width="0.90" height="4.92" fill="#111" opacity="0.43"/>
<rect x="294.60" y="621.59" width="1.10" height="4.92" fill="#111" opacity="0.92"/>
<rect x="295.70" y="621.59" width="0.90" height="4.92" fill="#111" opacity="0.84"/>
<rect x="296.60" y="621.59" width="0.90" height="4.92" fill="#111" opacity="1.00"/>
<rect x="297.50" y="621.59" width="0.70" height="4.92" fill="#111" opacity="0.63"/>
<rect x="298.20" y="621.59" width="1.10" height="4.92" fill="#111" opacity="0.71"/>
<rect x="299.30" y="621.59" width="1.30" height="4.92" fill="#111" opacity="1.00"/>
<rect x="300.60" y="621.59" width="1.30" height="4.92" fill="#111" opacity="1.00"/>
<rect x="301.90" y="621.59" width="1.30" height="4.92" fill="#111" opacity="1.00"/>
<rect x="303.20" y="621.59" width="1.10" height="4.92" fill="#111" opacity="0.99"/>
<rect x="282.30" y="626.46" width="0.90" height="4.92" fill="#111" opacity="0.42"/>
<rect x="295.50" y="626.46" width="1.30" height="4.92" fill="#111" opacity="1.00"/>
<rect x="296.80" y="626.46" width="0.90" height="4.92" fill="#111" opacity="1.00"/>
<rect x="297.70" y="626.46" width="1.30" height="4.92" fill="#111" opacity="1.00"/>
<rect x="299.00" y="626.46" width="1.10" height="4.92" fill="#111" opacity="1.00"/>
<rect x="300.10" y="626.46" width="0.70" height="4.92" fill="#111" opacity="1.00"/>
<rect x="300.80" y="626.46" width="0.70" height="4.92" fill="#111" opacity="1.00"/>
<rect x="301.50" y="626.46" width="1.10" height="4.92" fill="#111" opacity="1.00"/>
<rect x="302.60" y="626.46" width="1.30" height="4.92" fill="#111" opacity="1.00"/>
<rect x="303.90" y="626.46" width="1.30" height="4.92" fill="#111" opacity="0.80"/>
<rect x="306.10" y="626.46" width="1.10" height="4.92" fill="#111" opacity="0.45"/>
<rect x="312.80" y="626.46" width="1.10" height="4.92" fill="#111" opacity="0.28"/>
<rect x="286.70" y="631.33" width="0.70" height="4.92" fill="#111" opacity="0.63"/>
<rect x="293.10" y="631.33" width="1.10" height="4.92" fill="#111" opacity="0.39"/>
<rect x="295.30" y="631.33" width="0.90" height="4.92" fill="#111" opacity="0.82"/>
<rect x="296.20" y="631.33" width="0.90" height="4.92" fill="#111" opacity="0.99"/>
<rect x="297.10" y="631.33" width="0.70" height="4.92" fill="#111" opacity="0.93"/>
<rect x="297.80" y="631.33" width="1.10" height="4.92" fill="#111" opacity="1.00"/>
<rect x="298.90" y="631.33" width="0.70" height="4.92" fill="#111" opacity="1.00"/>
<rect x="300.70" y="631.33" width="0.90" height="4.92" fill="#111" opacity="1.00"/>
<rect x="301.60" y="631.33" width="0.70" height="4.92" fill="#111" opacity="1.00"/>
<rect x="302.30" y="631.33" width="1.10" height="4.92" fill="#111" opacity="1.00"/>
<rect x="303.40" y="631.33" width="1.30" height="4.92" fill="#111" opacity="1.00"/>
<rect x="308.50" y="631.33" width="0.70" height="4.92" fill="#111" opacity="0.41"/>
<rect x="292.90" y="650.60" width="1.30" height="4.95" fill="#111" opacity="0.39"/>
<rect x="314.20" y="650.60" width="1.30" height="4.95" fill="#111" opacity="0.45"/>
<rect x="291.40" y="655.50" width="1.30" height="4.95" fill="#111" opacity="0.34"/>
<rect x="283.90" y="660.40" width="0.90" height="4.95" fill="#111" opacity="0.35"/>
<rect x="289.30" y="660.40" width="1.10" height="4.95" fill="#111" opacity="0.73"/>
<rect x="305.70" y="660.40" width="0.70" height="4.95" fill="#111" opacity="0.84"/>
<rect x="309.50" y="660.40" width="0.90" height="4.95" fill="#111" opacity="0.46"/>
<rect x="309.50" y="665.30" width="0.70" height="4.95" fill="#111" opacity="0.58"/>
<rect x="283.40" y="670.20" width="0.70" height="4.95" fill="#111" opacity="0.48"/>
<rect x="290.30" y="670.20" width="1.10" height="4.95" fill="#111" opacity="0.67"/>
<rect x="297.60" y="670.20" width="1.10" height="4.95" fill="#111" opacity="0.62"/>
<rect x="301.40" y="670.20" width="1.30" height="4.95" fill="#111" opacity="0.36"/>
<rect x="311.90" y="675.10" width="0.90" height="4.95" fill="#111" opacity="0.36"/>
<rect x="291.90" y="680.00" width="1.10" height="4.95" fill="#111" opacity="0.39"/>
<rect x="287.90" y="684.90" width="1.30" height="4.95" fill="#111" opacity="0.50"/>
<rect x="300.50" y="684.90" width="0.70" height="4.95" fill="#111" opacity="0.86"/>
<rect x="298.90" y="689.80" width="0.70" height="4.95" fill="#111" opacity="0.69"/>
<rect x="317.60" y="529.20" width="1.30" height="4.87" fill="#111" opacity="0.84"/>
<rect x="319.60" y="529.20" width="0.70" height="4.87" fill="#111" opacity="0.64"/>
<rect x="320.30" y="529.20" width="0.70" height="4.87" fill="#111" opacity="0.90"/>
<rect x="322.30" y="529.20" width="1.30" height="4.87" fill="#111" opacity="0.58"/>
<rect x="323.60" y="529.20" width="1.30" height="4.87" fill="#111" opacity="0.54"/>
<rect x="324.90" y="529.20" width="0.70" height="4.87" fill="#111" opacity="0.53"/>
<rect x="325.60" y="529.20" width="1.30" height="4.87" fill="#111" opacity="0.72"/>
<rect x="326.90" y="529.20" width="1.30" height="4.87" fill="#111" opacity="0.58"/>
<rect x="343.70" y="529.20" width="0.90" height="4.87" fill="#111" opacity="0.72"/>
<rect x="344.60" y="529.20" width="1.10" height="4.87" fill="#111" opacity="0.28"/>
<rect x="347.70" y="529.20" width="0.90" height="4.87" fill="#111" opacity="1.00"/>
<rect x="348.60" y="529.20" width="1.10" height="4.87" fill="#111" opacity="0.64"/>
<rect x="318.50" y="534.02" width="0.70" height="4.87" fill="#111" opacity="0.52"/>
<rect x="319.20" y="534.02" width="0.70" height="4.87" fill="#111" opacity="0.80"/>
<rect x="321.20" y="534.02" width="1.30" height="4.87" fill="#111" opacity="0.68"/>
<rect x="322.50" y="534.02" width="0.90" height="4.87" fill="#111" opacity="0.64"/>
<rect x="323.40" y="534.02" width="0.90" height="4.87" fill="#111" opacity="0.62"/>
<rect x="324.30" y="534.02" width="0.90" height="4.87" fill="#111" opacity="0.62"/>
<rect x="325.20" y="534.02" width="1.10" height="4.87" fill="#111" opacity="0.67"/>
<rect x="332.80" y="534.02" width="1.30" height="4.87" fill="#111" opacity="0.50"/>
<rect x="338.60" y="534.02" width="1.10" height="4.87" fill="#111" opacity="0.39"/>
<rect x="345.20" y="534.02" width="1.10" height="4.87" fill="#111" opacity="0.88"/>
<rect x="347.60" y="534.02" width="0.70" height="4.87" fill="#111" opacity="0.70"/>
<rect x="348.30" y="534.02" width="0.90" height="4.87" fill="#111" opacity="0.62"/>
<rect x="350.30" y="534.02" width="1.10" height="4.87" fill="#111" opacity="0.71"/>
<rect x="317.60" y="538.84" width="0.70" height="4.87" fill="#111" opacity="0.63"/>
<rect x="319.60" y="538.84" width="1.30" height="4.87" fill="#111" opacity="0.68"/>
<rect x="320.90" y="538.84" width="0.70" height="4.87" fill="#111" opacity="1.00"/>
<rect x="324.20" y="538.84" width="1.30" height="4.87" fill="#111" opacity="0.72"/>
<rect x="326.40" y="538.84" width="1.30" height="4.87" fill="#111" opacity="0.39"/>
<rect x="329.90" y="538.84" width="1.30" height="4.87" fill="#111" opacity="0.37"/>
<rect x="345.20" y="538.84" width="0.70" height="4.87" fill="#111" opacity="0.83"/>
<rect x="350.50" y="538.84" width="1.10" height="4.87" fill="#111" opacity="0.48"/>
<rect x="317.60" y="543.66" width="1.30" height="4.87" fill="#111" opacity="0.53"/>
<rect x="318.90" y="543.66" width="1.10" height="4.87" fill="#111" opacity="0.72"/>
<rect x="320.00" y="543.66" width="1.10" height="4.87" fill="#111" opacity="0.44"/>
<rect x="321.10" y="543.66" width="1.30" height="4.87" fill="#111" opacity="0.40"/>
<rect x="322.40" y="543.66" width="1.10" height="4.87" fill="#111" opacity="0.86"/>
<rect x="323.50" y="543.66" width="1.30" height="4.87" fill="#111" opacity="0.28"/>
<rect x="325.70" y="543.66" width="1.30" height="4.87" fill="#111" opacity="1.00"/>
<rect x="327.70" y="543.66" width="1.30" height="4.87" fill="#111" opacity="0.85"/>
<rect x="344.60" y="543.66" width="1.10" height="4.87" fill="#111" opacity="0.65"/>
<rect x="345.70" y="543.66" width="0.70" height="4.87" fill="#111" opacity="0.59"/>
<rect x="348.80" y="543.66" width="0.90" height="4.87" fill="#111" opacity="0.98"/>
<rect x="349.70" y="543.66" width="0.70" height="4.87" fill="#111" opacity="0.53"/>
<rect x="317.60" y="548.48" width="0.90" height="4.87" fill="#111" opacity="0.81"/>
<rect x="318.50" y="548.48" width="0.70" height="4.87" fill="#111" opacity="1.00"/>
<rect x="319.20" y="548.48" width="0.90" height="4.87" fill="#111" opacity="0.87"/>
<rect x="320.10" y="548.48" width="1.30" height="4.87" fill="#111" opacity="0.43"/>
<rect x="326.50" y="548.48" width="1.10" height="4.87" fill="#111" opacity="0.39"/>
<rect x="343.90" y="548.48" width="1.30" height="4.87" fill="#111" opacity="0.72"/>
<rect x="345.20" y="548.48" width="0.90" height="4.87" fill="#111" opacity="0.71"/>
<rect x="346.80" y="548.48" width="1.10" height="4.87" fill="#111" opacity="0.72"/>
<rect x="347.90" y="548.48" width="0.70" height="4.87" fill="#111" opacity="0.55"/>
<rect x="348.60" y="548.48" width="1.10" height="4.87" fill="#111" opacity="0.84"/>
<rect x="349.70" y="548.48" width="0.70" height="4.87" fill="#111" opacity="0.61"/>
<rect x="350.40" y="548.48" width="1.10" height="4.87" fill="#111" opacity="0.75"/>
<rect x="319.80" y="553.30" width="0.90" height="4.87" fill="#111" opacity="0.80"/>
<rect x="322.00" y="553.30" width="0.90" height="4.87" fill="#111" opacity="0.51"/>
<rect x="322.90" y="553.30" width="1.30" height="4.87" fill="#111" opacity="0.84"/>
<rect x="324.20" y="553.30" width="0.90" height="4.87" fill="#111" opacity="0.63"/>
<rect x="325.80" y="553.30" width="1.10" height="4.87" fill="#111" opacity="0.88"/>
<rect x="331.50" y="553.30" width="0.90" height="4.87" fill="#111" opacity="0.55"/>
<rect x="333.70" y="553.30" width="1.10" height="4.87" fill="#111" opacity="1.00"/>
<rect x="336.60" y="553.30" width="0.70" height="4.87" fill="#111" opacity="0.66"/>
<rect x="340.00" y="553.30" width="0.90" height="4.87" fill="#111" opacity="0.70"/>
<rect x="343.80" y="553.30" width="0.70" height="4.87" fill="#111" opacity="0.46"/>
<rect x="344.50" y="553.30" width="0.70" height="4.87" fill="#111" opacity="0.28"/>
<rect x="345.20" y="553.30" width="1.10" height="4.87" fill="#111" opacity="0.94"/>
<rect x="347.00" y="553.30" width="0.90" height="4.87" fill="#111" opacity="0.62"/>
<rect x="348.80" y="553.30" width="0.70" height="4.87" fill="#111" opacity="0.64"/>
<rect x="318.70" y="558.12" width="0.90" height="4.87" fill="#111" opacity="0.38"/>
<rect x="321.00" y="558.12" width="1.10" height="4.87" fill="#111" opacity="0.76"/>
<rect x="322.10" y="558.12" width="0.90" height="4.87" fill="#111" opacity="0.55"/>
<rect x="323.00" y="558.12" width="0.70" height="4.87" fill="#111" opacity="0.61"/>
<rect x="323.70" y="558.12" width="0.70" height="4.87" fill="#111" opacity="1.00"/>
<rect x="325.30" y="558.12" width="1.30" height="4.87" fill="#111" opacity="0.86"/>
<rect x="331.00" y="558.12" width="1.10" height="4.87" fill="#111" opacity="0.28"/>
<rect x="343.90" y="558.12" width="0.70" height="4.87" fill="#111" opacity="0.84"/>
<rect x="346.20" y="558.12" width="1.30" height="4.87" fill="#111" opacity="0.76"/>
<rect x="347.50" y="558.12" width="0.70" height="4.87" fill="#111" opacity="0.36"/>
<rect x="348.20" y="558.12" width="0.70" height="4.87" fill="#111" opacity="1.00"/>
<rect x="348.90" y="558.12" width="0.90" height="4.87" fill="#111" opacity="0.73"/>
<rect x="349.80" y="558.12" width="0.90" height="4.87" fill="#111" opacity="0.78"/>
<rect x="350.70" y="558.12" width="0.90" height="4.87" fill="#111" opacity="0.85"/>
<rect x="317.60" y="562.94" width="1.30" height="4.87" fill="#111" opacity="0.38"/>
<rect x="318.90" y="562.94" width="0.70" height="4.87" fill="#111" opacity="0.63"/>
<rect x="319.60" y="562.94" width="0.70" height="4.87" fill="#111" opacity="0.70"/>
<rect x="322.70" y="562.94" width="1.30" height="4.87" fill="#111" opacity="0.62"/>
<rect x="324.00" y="562.94" width="0.90" height="4.87" fill="#111" opacity="0.98"/>
<rect x="344.30" y="562.94" width="1.10" height="4.87" fill="#111" opacity="0.49"/>
<rect x="345.40" y="562.94" width="1.10" height="4.87" fill="#111" opacity="0.54"/>
<rect x="347.60" y="562.94" width="0.70" height="4.87" fill="#111" opacity="0.87"/>
<rect x="348.30" y="562.94" width="1.10" height="4.87" fill="#111" opacity="0.69"/>
<rect x="349.40" y="562.94" width="0.70" height="4.87" fill="#111" opacity="0.66"/>
<rect x="350.10" y="562.94" width="1.30" height="4.87" fill="#111" opacity="0.55"/>
<rect x="318.90" y="567.76" width="1.30" height="4.87" fill="#111" opacity="0.55"/>
<rect x="320.20" y="567.76" width="1.30" height="4.87" fill="#111" opacity="0.63"/>
<rect x="322.40" y="567.76" width="0.90" height="4.87" fill="#111" opacity="0.44"/>
<rect x="323.30" y="567.76" width="1.30" height="4.87" fill="#111" opacity="0.51"/>
<rect x="324.60" y="567.76" width="0.90" height="4.87" fill="#111" opacity="0.79"/>
<rect x="332.90" y="567.76" width="0.70" height="4.87" fill="#111" opacity="0.82"/>
<rect x="344.00" y="567.76" width="1.30" height="4.87" fill="#111" opacity="0.67"/>
<rect x="345.30" y="567.76" width="0.90" height="4.87" fill="#111" opacity="0.96"/>
<rect x="346.20" y="567.76" width="0.70" height="4.87" fill="#111" opacity="0.57"/>
<rect x="347.60" y="567.76" width="1.10" height="4.87" fill="#111" opacity="0.84"/>
<rect x="322.30" y="572.58" width="0.90" height="4.87" fill="#111" opacity="0.61"/>
<rect x="325.40" y="572.58" width="1.10" height="4.87" fill="#111" opacity="0.65"/>
<rect x="346.70" y="572.58" width="0.90" height="4.87" fill="#111" opacity="0.28"/>
<rect x="347.60" y="572.58" width="1.10" height="4.87" fill="#111" opacity="0.55"/>
<rect x="317.60" y="587.50" width="1.10" height="4.92" fill="#111" opacity="0.96"/>
<rect x="318.70" y="587.50" width="0.90" height="4.92" fill="#111" opacity="0.29"/>
<rect x="319.60" y="587.50" width="0.70" height="4.92" fill="#111" opacity="0.66"/>
<rect x="320.30" y="587.50" width="1.30" height="4.92" fill="#111" opacity="0.79"/>
<rect x="321.60" y="587.50" width="1.30" height="4.92" fill="#111" opacity="0.56"/>
<rect x="322.90" y="587.50" width="0.90" height="4.92" fill="#111" opacity="0.73"/>
<rect x="323.80" y="587.50" width="1.30" height="4.92" fill="#111" opacity="0.52"/>
<rect x="325.10" y="587.50" width="1.30" height="4.92" fill="#111" opacity="0.48"/>
<rect x="326.40" y="587.50" width="0.70" height="4.92" fill="#111" opacity="0.53"/>
<rect x="327.10" y="587.50" width="1.10" height="4.92" fill="#111" opacity="0.79"/>
<rect x="328.20" y="587.50" width="0.90" height="4.92" fill="#111" opacity="0.42"/>
<rect x="329.10" y="587.50" width="1.10" height="4.92" fill="#111" opacity="0.83"/>
<rect x="331.80" y="587.50" width="1.10" height="4.92" fill="#111" opacity="0.44"/>
<rect x="332.90" y="587.50" width="0.70" height="4.92" fill="#111" opacity="0.41"/>
<rect x="333.60" y="587.50" width="1.30" height="4.92" fill="#111" opacity="0.77"/>
<rect x="337.30" y="587.50" width="1.10" height="4.92" fill="#111" opacity="0.51"/>
<rect x="338.40" y="587.50" width="1.30" height="4.92" fill="#111" opacity="0.41"/>
<rect x="339.70" y="587.50" width="1.10" height="4.92" fill="#111" opacity="0.36"/>
<rect x="340.80" y="587.50" width="0.70" height="4.92" fill="#111" opacity="0.95"/>
<rect x="341.50" y="587.50" width="0.70" height="4.92" fill="#111" opacity="0.81"/>
<rect x="342.20" y="587.50" width="1.30" height="4.92" fill="#111" opacity="0.62"/>
<rect x="343.50" y="587.50" width="1.30" height="4.92" fill="#111" opacity="0.69"/>
<rect x="345.90" y="587.50" width="1.10" height="4.92" fill="#111" opacity="0.65"/>
<rect x="347.00" y="587.50" width="0.70" height="4.92" fill="#111" opacity="0.34"/>
<rect x="347.70" y="587.50" width="0.70" height="4.92" fill="#111" opacity="0.51"/>
<rect x="348.40" y="587.50" width="0.90" height="4.92" fill="#111" opacity="0.44"/>
<rect x="349.30" y="587.50" width="0.90" height="4.92" fill="#111" opacity="0.57"/>
<rect x="317.60" y="592.37" width="1.30" height="4.92" fill="#111" opacity="0.79"/>
<rect x="318.90" y="592.37" width="1.30" height="4.92" fill="#111" opacity="0.60"/>
<rect x="320.20" y="592.37" width="1.30" height="4.92" fill="#111" opacity="0.73"/>
<rect x="321.50" y="592.37" width="1.30" height="4.92" fill="#111" opacity="0.68"/>
<rect x="323.70" y="592.37" width="1.10" height="4.92" fill="#111" opacity="0.69"/>
<rect x="324.80" y="592.37" width="0.90" height="4.92" fill="#111" opacity="0.49"/>
<rect x="325.70" y="592.37" width="1.10" height="4.92" fill="#111" opacity="0.58"/>
<rect x="326.80" y="592.37" width="1.10" height="4.92" fill="#111" opacity="0.89"/>
<rect x="328.60" y="592.37" width="0.90" height="4.92" fill="#111" opacity="0.64"/>
<rect x="329.50" y="592.37" width="1.10" height="4.92" fill="#111" opacity="0.47"/>
<rect x="330.60" y="592.37" width="0.90" height="4.92" fill="#111" opacity="0.35"/>
<rect x="331.50" y="592.37" width="0.90" height="4.92" fill="#111" opacity="0.71"/>
<rect x="332.40" y="592.37" width="1.30" height="4.92" fill="#111" opacity="0.66"/>
<rect x="333.70" y="592.37" width="0.90" height="4.92" fill="#111" opacity="0.41"/>
<rect x="334.60" y="592.37" width="1.30" height="4.92" fill="#111" opacity="0.54"/>
<rect x="335.90" y="592.37" width="0.90" height="4.92" fill="#111" opacity="0.55"/>
<rect x="336.80" y="592.37" width="1.30" height="4.92" fill="#111" opacity="0.72"/>
<rect x="339.40" y="592.37" width="0.90" height="4.92" fill="#111" opacity="0.50"/>
<rect x="341.00" y="592.37" width="1.30" height="4.92" fill="#111" opacity="0.80"/>
<rect x="342.30" y="592.37" width="1.10" height="4.92" fill="#111" opacity="0.56"/>
<rect x="343.40" y="592.37" width="1.10" height="4.92" fill="#111" opacity="1.00"/>
<rect x="344.50" y="592.37" width="1.30" height="4.92" fill="#111" opacity="0.70"/>
<rect x="346.90" y="592.37" width="0.90" height="4.92" fill="#111" opacity="0.29"/>
<rect x="347.80" y="592.37" width="1.30" height="4.92" fill="#111" opacity="0.87"/>
<rect x="349.10" y="592.37" width="1.30" height="4.92" fill="#111" opacity="0.53"/>
<rect x="350.40" y="592.37" width="0.90" height="4.92" fill="#111" opacity="0.81"/>
<rect x="317.60" y="597.24" width="1.10" height="4.92" fill="#111" opacity="0.67"/>
<rect x="318.70" y="597.24" width="0.90" height="4.92" fill="#111" opacity="0.53"/>
<rect x="319.60" y="597.24" width="1.10" height="4.92" fill="#111" opacity="0.38"/>
<rect x="320.70" y="597.24" width="0.70" height="4.92" fill="#111" opacity="0.32"/>
<rect x="321.40" y="597.24" width="0.90" height="4.92" fill="#111" opacity="0.76"/>
<rect x="322.30" y="597.24" width="0.70" height="4.92" fill="#111" opacity="0.48"/>
<rect x="323.00" y="597.24" width="0.70" height="4.92" fill="#111" opacity="0.80"/>
<rect x="323.70" y="597.24" width="1.10" height="4.92" fill="#111" opacity="0.55"/>
<rect x="324.80" y="597.24" width="0.70" height="4.92" fill="#111" opacity="0.65"/>
<rect x="328.40" y="597.24" width="0.70" height="4.92" fill="#111" opacity="0.77"/>
<rect x="329.10" y="597.24" width="0.90" height="4.92" fill="#111" opacity="0.63"/>
<rect x="331.10" y="597.24" width="0.70" height="4.92" fill="#111" opacity="0.58"/>
<rect x="333.10" y="597.24" width="0.70" height="4.92" fill="#111" opacity="0.52"/>
<rect x="334.90" y="597.24" width="1.30" height="4.92" fill="#111" opacity="0.99"/>
<rect x="336.20" y="597.24" width="1.30" height="4.92" fill="#111" opacity="0.82"/>
<rect x="337.50" y="597.24" width="0.90" height="4.92" fill="#111" opacity="0.46"/>
<rect x="338.40" y="597.24" width="1.30" height="4.92" fill="#111" opacity="0.52"/>
<rect x="339.70" y="597.24" width="0.70" height="4.92" fill="#111" opacity="0.62"/>
<rect x="340.40" y="597.24" width="1.10" height="4.92" fill="#111" opacity="0.80"/>
<rect x="341.50" y="597.24" width="1.30" height="4.92" fill="#111" opacity="0.52"/>
<rect x="342.80" y="597.24" width="1.30" height="4.92" fill="#111" opacity="0.84"/>
<rect x="344.10" y="597.24" width="0.70" height="4.92" fill="#111" opacity="0.65"/>
<rect x="344.80" y="597.24" width="0.90" height="4.92" fill="#111" opacity="0.52"/>
<rect x="345.70" y="597.24" width="1.30" height="4.92" fill="#111" opacity="0.64"/>
<rect x="347.00" y="597.24" width="0.70" height="4.92" fill="#111" opacity="0.59"/>
<rect x="347.70" y="597.24" width="0.90" height="4.92" fill="#111" opacity="0.92"/>
<rect x="348.60" y="597.24" width="1.30" height="4.92" fill="#111" opacity="0.85"/>
<rect x="349.90" y="597.24" width="1.30" height="4.92" fill="#111" opacity="0.29"/>
<rect x="317.60" y="602.11" width="0.90" height="4.92" fill="#111" opacity="0.63"/>
<rect x="319.80" y="602.11" width="0.70" height="4.92" fill="#111" opacity="0.75"/>
<rect x="320.50" y="602.11" width="0.70" height="4.92" fill="#111" opacity="0.42"/>
<rect x="321.20" y="602.11" width="0.90" height="4.92" fill="#111" opacity="0.75"/>
<rect x="322.10" y="602.11" width="1.10" height="4.92" fill="#111" opacity="0.60"/>
<rect x="323.20" y="602.11" width="1.30" height="4.92" fill="#111" opacity="0.39"/>
<rect x="324.50" y="602.11" width="1.30" height="4.92" fill="#111" opacity="0.36"/>
<rect x="329.10" y="602.11" width="1.30" height="4.92" fill="#111" opacity="0.63"/>
<rect x="330.40" y="602.11" width="0.70" height="4.92" fill="#111" opacity="0.57"/>
<rect x="331.10" y="602.11" width="1.30" height="4.92" fill="#111" opacity="0.77"/>
<rect x="333.70" y="602.11" width="0.70" height="4.92" fill="#111" opacity="0.87"/>
<rect x="334.40" y="602.11" width="0.90" height="4.92" fill="#111" opacity="0.59"/>
<rect x="335.30" y="602.11" width="1.10" height="4.92" fill="#111" opacity="0.55"/>
<rect x="336.40" y="602.11" width="1.30" height="4.92" fill="#111" opacity="0.76"/>
<rect x="338.40" y="602.11" width="0.90" height="4.92" fill="#111" opacity="0.77"/>
<rect x="339.30" y="602.11" width="0.90" height="4.92" fill="#111" opacity="0.47"/>
<rect x="340.20" y="602.11" width="1.10" height="4.92" fill="#111" opacity="0.43"/>
<rect x="341.30" y="602.11" width="1.10" height="4.92" fill="#111" opacity="0.73"/>
<rect x="343.30" y="602.11" width="0.70" height="4.92" fill="#111" opacity="0.65"/>
<rect x="344.00" y="602.11" width="0.70" height="4.92" fill="#111" opacity="0.74"/>
<rect x="344.70" y="602.11" width="1.10" height="4.92" fill="#111" opacity="0.28"/>
<rect x="347.10" y="602.11" width="1.30" height="4.92" fill="#111" opacity="0.38"/>
<rect x="349.50" y="602.11" width="1.10" height="4.92" fill="#111" opacity="0.99"/>
<rect x="350.60" y="602.11" width="0.90" height="4.92" fill="#111" opacity="0.78"/>
<rect x="317.60" y="606.98" width="0.90" height="4.92" fill="#111" opacity="0.61"/>
<rect x="319.20" y="606.98" width="1.30" height="4.92" fill="#111" opacity="0.75"/>
<rect x="321.20" y="606.98" width="0.70" height="4.92" fill="#111" opacity="0.41"/>
<rect x="321.90" y="606.98" width="0.70" height="4.92" fill="#111" opacity="0.64"/>
<rect x="322.60" y="606.98" width="1.30" height="4.92" fill="#111" opacity="0.58"/>
<rect x="323.90" y="606.98" width="0.90" height="4.92" fill="#111" opacity="0.57"/>
<rect x="324.80" y="606.98" width="0.70" height="4.92" fill="#111" opacity="0.46"/>
<rect x="325.50" y="606.98" width="1.30" height="4.92" fill="#111" opacity="0.71"/>
<rect x="326.80" y="606.98" width="0.90" height="4.92" fill="#111" opacity="0.43"/>
<rect x="327.70" y="606.98" width="1.30" height="4.92" fill="#111" opacity="0.55"/>
<rect x="329.70" y="606.98" width="0.90" height="4.92" fill="#111" opacity="0.61"/>
<rect x="330.60" y="606.98" width="0.90" height="4.92" fill="#111" opacity="0.37"/>
<rect x="331.50" y="606.98" width="0.90" height="4.92" fill="#111" opacity="0.80"/>
<rect x="332.40" y="606.98" width="0.70" height="4.92" fill="#111" opacity="0.61"/>
<rect x="333.10" y="606.98" width="1.10" height="4.92" fill="#111" opacity="0.52"/>
<rect x="334.20" y="606.98" width="1.10" height="4.92" fill="#111" opacity="0.52"/>
<rect x="335.30" y="606.98" width="0.70" height="4.92" fill="#111" opacity="0.50"/>
<rect x="336.00" y="606.98" width="0.70" height="4.92" fill="#111" opacity="0.35"/>
<rect x="336.70" y="606.98" width="1.30" height="4.92" fill="#111" opacity="0.42"/>
<rect x="338.00" y="606.98" width="0.70" height="4.92" fill="#111" opacity="0.54"/>
<rect x="338.70" y="606.98" width="1.10" height="4.92" fill="#111" opacity="0.57"/>
<rect x="339.80" y="606.98" width="0.70" height="4.92" fill="#111" opacity="0.54"/>
<rect x="340.50" y="606.98" width="1.30" height="4.92" fill="#111" opacity="0.85"/>
<rect x="341.80" y="606.98" width="0.70" height="4.92" fill="#111" opacity="0.86"/>
<rect x="342.50" y="606.98" width="1.30" height="4.92" fill="#111" opacity="0.63"/>
<rect x="345.60" y="606.98" width="1.30" height="4.92" fill="#111" opacity="1.00"/>
<rect x="346.90" y="606.98" width="1.10" height="4.92" fill="#111" opacity="0.80"/>
<rect x="348.00" y="606.98" width="0.70" height="4.92" fill="#111" opacity="0.45"/>
<rect x="348.70" y="606.98" width="0.70" height="4.92" fill="#111" opacity="0.63"/>
<rect x="349.40" y="606.98" width="0.90" height="4.92" fill="#111" opacity="0.58"/>
<rect x="350.30" y="606.98" width="1.10" height="4.92" fill="#111" opacity="0.81"/>
<rect x="317.60" y="611.85" width="1.10" height="4.92" fill="#111" opacity="0.81"/>
<rect x="318.70" y="611.85" width="1.10" height="4.92" fill="#111" opacity="0.42"/>
<rect x="321.80" y="611.85" width="1.30" height="4.92" fill="#111" opacity="0.87"/>
<rect x="323.10" y="611.85" width="0.90" height="4.92" fill="#111" opacity="0.88"/>
<rect x="324.00" y="611.85" width="0.70" height="4.92" fill="#111" opacity="0.55"/>
<rect x="324.70" y="611.85" width="1.10" height="4.92" fill="#111" opacity="0.57"/>
<rect x="325.80" y="611.85" width="1.10" height="4.92" fill="#111" opacity="0.29"/>
<rect x="326.90" y="611.85" width="0.70" height="4.92" fill="#111" opacity="0.78"/>
<rect x="327.60" y="611.85" width="0.90" height="4.92" fill="#111" opacity="0.44"/>
<rect x="330.50" y="611.85" width="1.10" height="4.92" fill="#111" opacity="0.70"/>
<rect x="331.60" y="611.85" width="0.70" height="4.92" fill="#111" opacity="0.34"/>
<rect x="332.30" y="611.85" width="0.90" height="4.92" fill="#111" opacity="0.62"/>
<rect x="333.20" y="611.85" width="0.70" height="4.92" fill="#111" opacity="0.90"/>
<rect x="333.90" y="611.85" width="1.30" height="4.92" fill="#111" opacity="0.92"/>
<rect x="335.20" y="611.85" width="1.30" height="4.92" fill="#111" opacity="0.62"/>
<rect x="337.20" y="611.85" width="0.70" height="4.92" fill="#111" opacity="0.59"/>
<rect x="337.90" y="611.85" width="0.90" height="4.92" fill="#111" opacity="0.48"/>
<rect x="338.80" y="611.85" width="0.90" height="4.92" fill="#111" opacity="0.94"/>
<rect x="340.80" y="611.85" width="1.10" height="4.92" fill="#111" opacity="0.67"/>
<rect x="343.50" y="611.85" width="1.30" height="4.92" fill="#111" opacity="0.45"/>
<rect x="345.70" y="611.85" width="1.10" height="4.92" fill="#111" opacity="0.80"/>
<rect x="346.80" y="611.85" width="0.90" height="4.92" fill="#111" opacity="0.59"/>
<rect x="347.70" y="611.85" width="0.70" height="4.92" fill="#111" opacity="0.87"/>
<rect x="348.40" y="611.85" width="1.30" height="4.92" fill="#111" opacity="0.68"/>
<rect x="349.70" y="611.85" width="1.10" height="4.92" fill="#111" opacity="0.72"/>
<rect x="317.60" y="616.72" width="1.30" height="4.92" fill="#111" opacity="0.84"/>
<rect x="318.90" y="616.72" width="0.70" height="4.92" fill="#111" opacity="0.76"/>
<rect x="319.60" y="616.72" width="0.90" height="4.92" fill="#111" opacity="0.77"/>
<rect x="320.50" y="616.72" width="0.90" height="4.92" fill="#111" opacity="0.54"/>
<rect x="321.40" y="616.72" width="0.90" height="4.92" fill="#111" opacity="0.64"/>
<rect x="322.30" y="616.72" width="0.70" height="4.92" fill="#111" opacity="0.72"/>
<rect x="323.00" y="616.72" width="0.90" height="4.92" fill="#111" opacity="0.53"/>
<rect x="323.90" y="616.72" width="0.70" height="4.92" fill="#111" opacity="0.99"/>
<rect x="324.60" y="616.72" width="1.10" height="4.92" fill="#111" opacity="0.44"/>
<rect x="325.70" y="616.72" width="1.30" height="4.92" fill="#111" opacity="0.73"/>
<rect x="327.00" y="616.72" width="1.10" height="4.92" fill="#111" opacity="0.53"/>
<rect x="328.10" y="616.72" width="0.70" height="4.92" fill="#111" opacity="0.91"/>
<rect x="328.80" y="616.72" width="1.30" height="4.92" fill="#111" opacity="0.83"/>
<rect x="330.10" y="616.72" width="0.90" height="4.92" fill="#111" opacity="0.71"/>
<rect x="331.00" y="616.72" width="1.30" height="4.92" fill="#111" opacity="0.50"/>
<rect x="333.60" y="616.72" width="1.30" height="4.92" fill="#111" opacity="0.71"/>
<rect x="334.90" y="616.72" width="1.10" height="4.92" fill="#111" opacity="0.86"/>
<rect x="336.00" y="616.72" width="0.70" height="4.92" fill="#111" opacity="0.42"/>
<rect x="336.70" y="616.72" width="0.70" height="4.92" fill="#111" opacity="0.97"/>
<rect x="340.00" y="616.72" width="0.90" height="4.92" fill="#111" opacity="0.57"/>
<rect x="341.80" y="616.72" width="0.90" height="4.92" fill="#111" opacity="0.28"/>
<rect x="342.70" y="616.72" width="0.70" height="4.92" fill="#111" opacity="0.86"/>
<rect x="343.40" y="616.72" width="1.30" height="4.92" fill="#111" opacity="0.33"/>
<rect x="344.70" y="616.72" width="0.70" height="4.92" fill="#111" opacity="0.82"/>
<rect x="345.40" y="616.72" width="0.90" height="4.92" fill="#111" opacity="0.84"/>
<rect x="346.30" y="616.72" width="1.30" height="4.92" fill="#111" opacity="0.59"/>
<rect x="347.60" y="616.72" width="0.90" height="4.92" fill="#111" opacity="0.64"/>
<rect x="349.80" y="616.72" width="0.90" height="4.92" fill="#111" opacity="0.81"/>
<rect x="350.70" y="616.72" width="0.90" height="4.92" fill="#111" opacity="0.32"/>
<rect x="317.60" y="621.59" width="0.90" height="4.92" fill="#111" opacity="0.66"/>
<rect x="318.50" y="621.59" width="0.90" height="4.92" fill="#111" opacity="0.41"/>
<rect x="319.40" y="621.59" width="1.30" height="4.92" fill="#111" opacity="0.80"/>
<rect x="321.60" y="621.59" width="1.10" height="4.92" fill="#111" opacity="0.60"/>
<rect x="323.40" y="621.59" width="0.90" height="4.92" fill="#111" opacity="0.45"/>
<rect x="324.30" y="621.59" width="0.70" height="4.92" fill="#111" opacity="0.60"/>
<rect x="325.00" y="621.59" width="1.30" height="4.92" fill="#111" opacity="0.61"/>
<rect x="326.30" y="621.59" width="1.30" height="4.92" fill="#111" opacity="0.28"/>
<rect x="328.30" y="621.59" width="0.70" height="4.92" fill="#111" opacity="0.55"/>
<rect x="329.00" y="621.59" width="1.30" height="4.92" fill="#111" opacity="0.70"/>
<rect x="330.30" y="621.59" width="0.90" height="4.92" fill="#111" opacity="0.82"/>
<rect x="331.20" y="621.59" width="0.90" height="4.92" fill="#111" opacity="0.74"/>
<rect x="332.10" y="621.59" width="0.70" height="4.92" fill="#111" opacity="0.81"/>
<rect x="332.80" y="621.59" width="0.90" height="4.92" fill="#111" opacity="0.45"/>
<rect x="333.70" y="621.59" width="0.70" height="4.92" fill="#111" opacity="0.59"/>
<rect x="334.40" y="621.59" width="0.90" height="4.92" fill="#111" opacity="0.71"/>
<rect x="335.30" y="621.59" width="1.10" height="4.92" fill="#111" opacity="0.68"/>
<rect x="336.40" y="621.59" width="0.90" height="4.92" fill="#111" opacity="0.82"/>
<rect x="337.30" y="621.59" width="0.90" height="4.92" fill="#111" opacity="1.00"/>
<rect x="338.20" y="621.59" width="1.30" height="4.92" fill="#111" opacity="0.71"/>
<rect x="339.50" y="621.59" width="0.70" height="4.92" fill="#111" opacity="0.57"/>
<rect x="341.10" y="621.59" width="1.10" height="4.92" fill="#111" opacity="0.75"/>
<rect x="342.20" y="621.59" width="1.10" height="4.92" fill="#111" opacity="0.75"/>
<rect x="344.20" y="621.59" width="1.10" height="4.92" fill="#111" opacity="0.95"/>
<rect x="345.30" y="621.59" width="0.70" height="4.92" fill="#111" opacity="0.54"/>
<rect x="346.00" y="621.59" width="0.70" height="4.92" fill="#111" opacity="0.50"/>
<rect x="346.70" y="621.59" width="0.90" height="4.92" fill="#111" opacity="0.92"/>
<rect x="348.50" y="621.59" width="1.30" height="4.92" fill="#111" opacity="0.84"/>
<rect x="317.60" y="626.46" width="0.70" height="4.92" fill="#111" opacity="0.92"/>
<rect x="318.30" y="626.46" width="0.90" height="4.92" fill="#111" opacity="0.28"/>
<rect x="319.20" y="626.46" width="1.10" height="4.92" fill="#111" opacity="0.51"/>
<rect x="321.60" y="626.46" width="0.90" height="4.92" fill="#111" opacity="0.54"/>
<rect x="322.50" y="626.46" width="0.90" height="4.92" fill="#111" opacity="0.29"/>
<rect x="323.40" y="626.46" width="1.10" height="4.92" fill="#111" opacity="0.80"/>
<rect x="324.50" y="626.46" width="0.70" height="4.92" fill="#111" opacity="0.40"/>
<rect x="325.20" y="626.46" width="0.90" height="4.92" fill="#111" opacity="0.55"/>
<rect x="326.10" y="626.46" width="1.30" height="4.92" fill="#111" opacity="1.00"/>
<rect x="327.40" y="626.46" width="0.70" height="4.92" fill="#111" opacity="0.93"/>
<rect x="328.10" y="626.46" width="1.30" height="4.92" fill="#111" opacity="0.90"/>
<rect x="329.40" y="626.46" width="0.90" height="4.92" fill="#111" opacity="0.57"/>
<rect x="330.30" y="626.46" width="0.90" height="4.92" fill="#111" opacity="0.57"/>
<rect x="331.20" y="626.46" width="0.90" height="4.92" fill="#111" opacity="0.53"/>
<rect x="332.10" y="626.46" width="1.30" height="4.92" fill="#111" opacity="0.79"/>
<rect x="333.40" y="626.46" width="0.90" height="4.92" fill="#111" opacity="0.82"/>
<rect x="334.30" y="626.46" width="0.70" height="4.92" fill="#111" opacity="0.91"/>
<rect x="335.00" y="626.46" width="0.90" height="4.92" fill="#111" opacity="0.60"/>
<rect x="335.90" y="626.46" width="1.10" height="4.92" fill="#111" opacity="0.28"/>
<rect x="337.00" y="626.46" width="0.90" height="4.92" fill="#111" opacity="0.66"/>
<rect x="338.80" y="626.46" width="1.30" height="4.92" fill="#111" opacity="0.58"/>
<rect x="340.10" y="626.46" width="1.30" height="4.92" fill="#111" opacity="0.74"/>
<rect x="341.40" y="626.46" width="0.70" height="4.92" fill="#111" opacity="0.65"/>
<rect x="342.10" y="626.46" width="0.90" height="4.92" fill="#111" opacity="0.28"/>
<rect x="344.30" y="626.46" width="1.30" height="4.92" fill="#111" opacity="0.47"/>
<rect x="345.60" y="626.46" width="1.10" height="4.92" fill="#111" opacity="0.45"/>
<rect x="346.70" y="626.46" width="0.70" height="4.92" fill="#111" opacity="0.86"/>
<rect x="347.40" y="626.46" width="0.90" height="4.92" fill="#111" opacity="0.60"/>
<rect x="348.30" y="626.46" width="1.10" height="4.92" fill="#111" opacity="0.75"/>
<rect x="349.40" y="626.46" width="0.90" height="4.92" fill="#111" opacity="0.66"/>
<rect x="317.60" y="631.33" width="0.70" height="4.92" fill="#111" opacity="0.40"/>
<rect x="319.20" y="631.33" width="1.30" height="4.92" fill="#111" opacity="0.71"/>
<rect x="321.80" y="631.33" width="1.10" height="4.92" fill="#111" opacity="0.56"/>
<rect x="322.90" y="631.33" width="1.30" height="4.92" fill="#111" opacity="0.98"/>
<rect x="324.20" y="631.33" width="0.70" height="4.92" fill="#111" opacity="0.50"/>
<rect x="324.90" y="631.33" width="1.10" height="4.92" fill="#111" opacity="0.54"/>
<rect x="326.70" y="631.33" width="0.90" height="4.92" fill="#111" opacity="0.61"/>
<rect x="327.60" y="631.33" width="0.90" height="4.92" fill="#111" opacity="0.75"/>
<rect x="328.50" y="631.33" width="0.90" height="4.92" fill="#111" opacity="0.51"/>
<rect x="329.40" y="631.33" width="1.30" height="4.92" fill="#111" opacity="0.55"/>
<rect x="330.70" y="631.33" width="0.90" height="4.92" fill="#111" opacity="0.89"/>
<rect x="331.60" y="631.33" width="1.10" height="4.92" fill="#111" opacity="0.60"/>
<rect x="332.70" y="631.33" width="1.30" height="4.92" fill="#111" opacity="0.36"/>
<rect x="334.00" y="631.33" width="1.10" height="4.92" fill="#111" opacity="0.76"/>
<rect x="335.10" y="631.33" width="1.10" height="4.92" fill="#111" opacity="0.84"/>
<rect x="336.20" y="631.33" width="1.30" height="4.92" fill="#111" opacity="0.64"/>
<rect x="337.50" y="631.33" width="1.30" height="4.92" fill="#111" opacity="0.95"/>
<rect x="338.80" y="631.33" width="0.70" height="4.92" fill="#111" opacity="0.54"/>
<rect x="339.50" y="631.33" width="0.70" height="4.92" fill="#111" opacity="0.99"/>
<rect x="342.20" y="631.33" width="0.70" height="4.92" fill="#111" opacity="0.76"/>
<rect x="343.60" y="631.33" width="1.10" height="4.92" fill="#111" opacity="0.80"/>
<rect x="344.70" y="631.33" width="1.30" height="4.92" fill="#111" opacity="0.70"/>
<rect x="346.00" y="631.33" width="0.90" height="4.92" fill="#111" opacity="0.89"/>
<rect x="346.90" y="631.33" width="0.90" height="4.92" fill="#111" opacity="0.48"/>
<rect x="347.80" y="631.33" width="1.10" height="4.92" fill="#111" opacity="0.99"/>
<rect x="348.90" y="631.33" width="1.30" height="4.92" fill="#111" opacity="0.93"/>
<rect x="350.20" y="631.33" width="0.90" height="4.92" fill="#111" opacity="0.69"/>
<rect x="317.60" y="650.60" width="0.70" height="4.95" fill="#111" opacity="0.54"/>
<rect x="318.30" y="650.60" width="0.90" height="4.95" fill="#111" opacity="0.59"/>
<rect x="319.20" y="650.60" width="0.70" height="4.95" fill="#111" opacity="0.87"/>
<rect x="321.00" y="650.60" width="0.70" height="4.95" fill="#111" opacity="0.91"/>
<rect x="321.70" y="650.60" width="0.90" height="4.95" fill="#111" opacity="0.68"/>
<rect x="323.30" y="650.60" width="0.70" height="4.95" fill="#111" opacity="0.56"/>
<rect x="325.10" y="650.60" width="1.30" height="4.95" fill="#111" opacity="0.66"/>
<rect x="345.70" y="650.60" width="1.10" height="4.95" fill="#111" opacity="0.89"/>
<rect x="347.90" y="650.60" width="0.70" height="4.95" fill="#111" opacity="0.95"/>
<rect x="349.90" y="650.60" width="1.30" height="4.95" fill="#111" opacity="0.48"/>
<rect x="317.60" y="655.50" width="1.30" height="4.95" fill="#111" opacity="0.92"/>
<rect x="321.30" y="655.50" width="1.30" height="4.95" fill="#111" opacity="0.53"/>
<rect x="322.60" y="655.50" width="0.70" height="4.95" fill="#111" opacity="0.90"/>
<rect x="325.10" y="655.50" width="1.10" height="4.95" fill="#111" opacity="1.00"/>
<rect x="345.20" y="655.50" width="1.30" height="4.95" fill="#111" opacity="0.72"/>
<rect x="347.20" y="655.50" width="1.30" height="4.95" fill="#111" opacity="0.42"/>
<rect x="348.50" y="655.50" width="1.10" height="4.95" fill="#111" opacity="0.79"/>
<rect x="349.60" y="655.50" width="1.10" height="4.95" fill="#111" opacity="0.46"/>
<rect x="350.70" y="655.50" width="1.10" height="4.95" fill="#111" opacity="0.61"/>
<rect x="317.60" y="660.40" width="1.10" height="4.95" fill="#111" opacity="0.35"/>
<rect x="321.20" y="660.40" width="0.90" height="4.95" fill="#111" opacity="0.61"/>
<rect x="322.10" y="660.40" width="1.10" height="4.95" fill="#111" opacity="0.54"/>
<rect x="324.80" y="660.40" width="0.90" height="4.95" fill="#111" opacity="0.50"/>
<rect x="346.70" y="660.40" width="0.90" height="4.95" fill="#111" opacity="0.60"/>
<rect x="348.70" y="660.40" width="0.90" height="4.95" fill="#111" opacity="0.55"/>
<rect x="317.60" y="665.30" width="0.90" height="4.95" fill="#111" opacity="0.82"/>
<rect x="318.50" y="665.30" width="1.10" height="4.95" fill="#111" opacity="0.80"/>
<rect x="319.60" y="665.30" width="1.10" height="4.95" fill="#111" opacity="0.70"/>
<rect x="320.70" y="665.30" width="0.70" height="4.95" fill="#111" opacity="0.81"/>
<rect x="321.40" y="665.30" width="1.10" height="4.95" fill="#111" opacity="0.89"/>
<rect x="333.00" y="665.30" width="1.30" height="4.95" fill="#111" opacity="0.85"/>
<rect x="345.00" y="665.30" width="0.90" height="4.95" fill="#111" opacity="0.71"/>
<rect x="345.90" y="665.30" width="0.70" height="4.95" fill="#111" opacity="0.90"/>
<rect x="347.50" y="665.30" width="1.30" height="4.95" fill="#111" opacity="0.84"/>
<rect x="348.80" y="665.30" width="1.10" height="4.95" fill="#111" opacity="0.87"/>
<rect x="349.90" y="665.30" width="1.10" height="4.95" fill="#111" opacity="1.00"/>
<rect x="317.60" y="670.20" width="1.30" height="4.95" fill="#111" opacity="0.75"/>
<rect x="318.90" y="670.20" width="0.70" height="4.95" fill="#111" opacity="0.29"/>
<rect x="319.60" y="670.20" width="0.70" height="4.95" fill="#111" opacity="0.62"/>
<rect x="322.30" y="670.20" width="0.90" height="4.95" fill="#111" opacity="0.83"/>
<rect x="324.50" y="670.20" width="0.70" height="4.95" fill="#111" opacity="0.94"/>
<rect x="330.50" y="670.20" width="1.30" height="4.95" fill="#111" opacity="0.49"/>
<rect x="346.40" y="670.20" width="1.30" height="4.95" fill="#111" opacity="0.71"/>
<rect x="348.40" y="670.20" width="1.30" height="4.95" fill="#111" opacity="1.00"/>
<rect x="349.70" y="670.20" width="1.10" height="4.95" fill="#111" opacity="0.82"/>
<rect x="317.60" y="675.10" width="1.30" height="4.95" fill="#111" opacity="0.96"/>
<rect x="318.90" y="675.10" width="1.30" height="4.95" fill="#111" opacity="0.76"/>
<rect x="320.20" y="675.10" width="0.90" height="4.95" fill="#111" opacity="1.00"/>
<rect x="321.10" y="675.10" width="0.90" height="4.95" fill="#111" opacity="0.94"/>
<rect x="322.00" y="675.10" width="0.90" height="4.95" fill="#111" opacity="0.29"/>
<rect x="322.90" y="675.10" width="1.10" height="4.95" fill="#111" opacity="0.71"/>
<rect x="340.00" y="675.10" width="1.30" height="4.95" fill="#111" opacity="0.52"/>
<rect x="346.00" y="675.10" width="0.70" height="4.95" fill="#111" opacity="0.85"/>
<rect x="346.70" y="675.10" width="0.70" height="4.95" fill="#111" opacity="0.69"/>
<rect x="347.40" y="675.10" width="1.30" height="4.95" fill="#111" opacity="0.43"/>
<rect x="348.70" y="675.10" width="0.70" height="4.95" fill="#111" opacity="0.42"/>
<rect x="349.40" y="675.10" width="1.10" height="4.95" fill="#111" opacity="0.78"/>
<rect x="350.50" y="675.10" width="0.90" height="4.95" fill="#111" opacity="1.00"/>
<rect x="318.70" y="680.00" width="1.10" height="4.95" fill="#111" opacity="0.44"/>
<rect x="319.80" y="680.00" width="0.90" height="4.95" fill="#111" opacity="0.58"/>
<rect x="322.70" y="680.00" width="1.10" height="4.95" fill="#111" opacity="0.50"/>
<rect x="342.60" y="680.00" width="1.10" height="4.95" fill="#111" opacity="0.37"/>
<rect x="345.90" y="680.00" width="1.30" height="4.95" fill="#111" opacity="0.78"/>
<rect x="348.30" y="680.00" width="0.90" height="4.95" fill="#111" opacity="0.81"/>
<rect x="349.20" y="680.00" width="0.70" height="4.95" fill="#111" opacity="0.57"/>
<rect x="349.90" y="680.00" width="1.10" height="4.95" fill="#111" opacity="0.72"/>
<rect x="317.60" y="684.90" width="0.70" height="4.95" fill="#111" opacity="0.47"/>
<rect x="318.30" y="684.90" width="0.70" height="4.95" fill="#111" opacity="1.00"/>
<rect x="319.00" y="684.90" width="1.10" height="4.95" fill="#111" opacity="0.76"/>
<rect x="320.10" y="684.90" width="0.70" height="4.95" fill="#111" opacity="0.67"/>
<rect x="321.70" y="684.90" width="1.10" height="4.95" fill="#111" opacity="0.47"/>
<rect x="322.80" y="684.90" width="0.70" height="4.95" fill="#111" opacity="0.75"/>
<rect x="323.50" y="684.90" width="0.90" height="4.95" fill="#111" opacity="0.41"/>
<rect x="324.40" y="684.90" width="0.70" height="4.95" fill="#111" opacity="0.43"/>
<rect x="325.10" y="684.90" width="0.70" height="4.95" fill="#111" opacity="0.88"/>
<rect x="330.50" y="684.90" width="1.10" height="4.95" fill="#111" opacity="0.28"/>
<rect x="346.60" y="684.90" width="1.30" height="4.95" fill="#111" opacity="0.73"/>
<rect x="347.90" y="684.90" width="0.90" height="4.95" fill="#111" opacity="0.82"/>
<rect x="348.80" y="684.90" width="0.90" height="4.95" fill="#111" opacity="0.61"/>
<rect x="349.70" y="684.90" width="0.70" height="4.95" fill="#111" opacity="0.69"/>
<rect x="318.50" y="689.80" width="1.10" height="4.95" fill="#111" opacity="0.74"/>
<rect x="319.60" y="689.80" width="0.90" height="4.95" fill="#111" opacity="0.54"/>
<rect x="320.50" y="689.80" width="1.10" height="4.95" fill="#111" opacity="0.70"/>
<rect x="321.60" y="689.80" width="0.70" height="4.95" fill="#111" opacity="0.79"/>
<rect x="323.60" y="689.80" width="0.70" height="4.95" fill="#111" opacity="0.82"/>
<rect x="324.30" y="689.80" width="1.30" height="4.95" fill="#111" opacity="0.66"/>
<rect x="345.00" y="689.80" width="1.10" height="4.95" fill="#111" opacity="0.76"/>
<rect x="346.10" y="689.80" width="0.70" height="4.95" fill="#111" opacity="0.57"/>
<rect x="346.80" y="689.80" width="1.30" height="4.95" fill="#111" opacity="0.98"/>
<rect x="348.10" y="689.80" width="0.90" height="4.95" fill="#111" opacity="0.76"/>
<rect x="349.00" y="689.80" width="1.30" height="4.95" fill="#111" opacity="0.47"/>
<rect x="317.60" y="694.70" width="0.70" height="4.95" fill="#111" opacity="0.34"/>
<rect x="318.30" y="694.70" width="0.90" height="4.95" fill="#111" opacity="0.82"/>
<rect x="320.30" y="694.70" width="1.30" height="4.95" fill="#111" opacity="0.82"/>
<rect x="322.30" y="694.70" width="0.70" height="4.95" fill="#111" opacity="0.51"/>
<rect x="323.00" y="694.70" width="0.90" height="4.95" fill="#111" opacity="0.79"/>
<rect x="323.90" y="694.70" width="0.90" height="4.95" fill="#111" opacity="0.62"/>
<rect x="324.80" y="694.70" width="0.70" height="4.95" fill="#111" opacity="0.79"/>
<rect x="345.00" y="694.70" width="0.70" height="4.95" fill="#111" opacity="0.73"/>
<rect x="346.40" y="694.70" width="0.70" height="4.95" fill="#111" opacity="0.54"/>
<rect x="347.10" y="694.70" width="0.90" height="4.95" fill="#111" opacity="0.78"/>
<rect x="348.00" y="694.70" width="0.70" height="4.95" fill="#111" opacity="0.96"/>
<rect x="348.70" y="694.70" width="0.90" height="4.95" fill="#111" opacity="0.61"/>
<rect x="349.60" y="694.70" width="1.10" height="4.95" fill="#111" opacity="0.70"/>
<rect x="371.30" y="529.20" width="0.70" height="4.87" fill="#111" opacity="0.50"/>
<rect x="379.50" y="529.20" width="1.10" height="4.87" fill="#111" opacity="0.82"/>
<rect x="385.30" y="529.20" width="0.90" height="4.87" fill="#111" opacity="0.67"/>
<rect x="387.50" y="529.20" width="0.70" height="4.87" fill="#111" opacity="0.82"/>
<rect x="366.40" y="534.02" width="1.30" height="4.87" fill="#111" opacity="0.92"/>
<rect x="368.60" y="534.02" width="0.90" height="4.87" fill="#111" opacity="0.98"/>
<rect x="372.20" y="534.02" width="1.10" height="4.87" fill="#111" opacity="0.90"/>
<rect x="375.30" y="534.02" width="0.90" height="4.87" fill="#111" opacity="0.79"/>
<rect x="364.90" y="538.84" width="0.90" height="4.87" fill="#111" opacity="1.00"/>
<rect x="368.70" y="538.84" width="0.70" height="4.87" fill="#111" opacity="0.71"/>
<rect x="371.80" y="538.84" width="1.30" height="4.87" fill="#111" opacity="0.97"/>
<rect x="368.50" y="543.66" width="0.70" height="4.87" fill="#111" opacity="0.60"/>
<rect x="374.30" y="543.66" width="1.10" height="4.87" fill="#111" opacity="0.60"/>
<rect x="376.50" y="543.66" width="0.70" height="4.87" fill="#111" opacity="0.77"/>
<rect x="383.40" y="543.66" width="0.70" height="4.87" fill="#111" opacity="0.62"/>
<rect x="384.10" y="543.66" width="1.10" height="4.87" fill="#111" opacity="0.28"/>
<rect x="364.30" y="548.48" width="0.70" height="4.87" fill="#111" opacity="0.82"/>
<rect x="373.50" y="548.48" width="0.70" height="4.87" fill="#111" opacity="0.70"/>
<rect x="378.90" y="548.48" width="0.70" height="4.87" fill="#111" opacity="0.37"/>
<rect x="365.80" y="553.30" width="0.70" height="4.87" fill="#111" opacity="0.93"/>
<rect x="366.50" y="553.30" width="0.70" height="4.87" fill="#111" opacity="0.86"/>
<rect x="367.20" y="553.30" width="0.70" height="4.87" fill="#111" opacity="0.72"/>
<rect x="369.90" y="553.30" width="1.10" height="4.87" fill="#111" opacity="0.53"/>
<rect x="386.70" y="553.30" width="0.90" height="4.87" fill="#111" opacity="0.76"/>
<rect x="374.50" y="558.12" width="0.70" height="4.87" fill="#111" opacity="1.00"/>
<rect x="386.50" y="558.12" width="1.30" height="4.87" fill="#111" opacity="0.37"/>
<rect x="374.10" y="562.94" width="0.90" height="4.87" fill="#111" opacity="0.80"/>
<rect x="378.30" y="562.94" width="0.70" height="4.87" fill="#111" opacity="0.90"/>
<rect x="363.10" y="567.76" width="1.30" height="4.87" fill="#111" opacity="0.44"/>
<rect x="364.40" y="567.76" width="0.70" height="4.87" fill="#111" opacity="0.98"/>
<rect x="365.10" y="567.76" width="0.70" height="4.87" fill="#111" opacity="0.85"/>
<rect x="365.80" y="567.76" width="0.90" height="4.87" fill="#111" opacity="1.00"/>
<rect x="377.30" y="567.76" width="1.30" height="4.87" fill="#111" opacity="0.82"/>
<rect x="364.50" y="572.58" width="0.90" height="4.87" fill="#111" opacity="0.74"/>
<rect x="368.90" y="587.50" width="1.30" height="4.92" fill="#111" opacity="0.60"/>
<rect x="354.00" y="602.11" width="0.70" height="4.92" fill="#111" opacity="0.42"/>
<rect x="370.70" y="616.72" width="0.90" height="4.92" fill="#111" opacity="0.78"/>
<rect x="363.20" y="650.60" width="0.90" height="4.95" fill="#111" opacity="0.73"/>
<rect x="365.00" y="650.60" width="1.30" height="4.95" fill="#111" opacity="0.86"/>
<rect x="367.40" y="650.60" width="0.70" height="4.95" fill="#111" opacity="0.83"/>
<rect x="368.10" y="650.60" width="0.90" height="4.95" fill="#111" opacity="0.75"/>
<rect x="369.00" y="650.60" width="0.90" height="4.95" fill="#111" opacity="0.79"/>
<rect x="369.90" y="650.60" width="1.10" height="4.95" fill="#111" opacity="0.65"/>
<rect x="371.00" y="650.60" width="1.10" height="4.95" fill="#111" opacity="0.79"/>
<rect x="373.90" y="650.60" width="0.90" height="4.95" fill="#111" opacity="0.92"/>
<rect x="374.80" y="650.60" width="1.30" height="4.95" fill="#111" opacity="1.00"/>
<rect x="378.10" y="650.60" width="1.10" height="4.95" fill="#111" opacity="0.70"/>
<rect x="362.80" y="655.50" width="0.90" height="4.95" fill="#111" opacity="0.99"/>
<rect x="363.70" y="655.50" width="0.70" height="4.95" fill="#111" opacity="1.00"/>
<rect x="364.40" y="655.50" width="1.30" height="4.95" fill="#111" opacity="0.87"/>
<rect x="366.60" y="655.50" width="1.30" height="4.95" fill="#111" opacity="0.57"/>
<rect x="367.90" y="655.50" width="1.30" height="4.95" fill="#111" opacity="0.69"/>
<rect x="371.20" y="655.50" width="0.70" height="4.95" fill="#111" opacity="0.87"/>
<rect x="374.80" y="655.50" width="0.90" height="4.95" fill="#111" opacity="0.77"/>
<rect x="376.80" y="655.50" width="1.10" height="4.95" fill="#111" opacity="1.00"/>
<rect x="384.30" y="655.50" width="1.30" height="4.95" fill="#111" opacity="0.86"/>
<rect x="386.30" y="655.50" width="1.10" height="4.95" fill="#111" opacity="0.73"/>
<rect x="364.70" y="660.40" width="0.90" height="4.95" fill="#111" opacity="0.70"/>
<rect x="367.40" y="660.40" width="0.70" height="4.95" fill="#111" opacity="0.82"/>
<rect x="369.90" y="660.40" width="1.10" height="4.95" fill="#111" opacity="0.88"/>
<rect x="373.70" y="660.40" width="1.10" height="4.95" fill="#111" opacity="1.00"/>
<rect x="374.80" y="660.40" width="1.30" height="4.95" fill="#111" opacity="0.79"/>
<rect x="376.10" y="660.40" width="1.30" height="4.95" fill="#111" opacity="0.69"/>
<rect x="382.90" y="660.40" width="0.70" height="4.95" fill="#111" opacity="0.69"/>
<rect x="364.00" y="665.30" width="0.70" height="4.95" fill="#111" opacity="1.00"/>
<rect x="364.70" y="665.30" width="0.90" height="4.95" fill="#111" opacity="0.63"/>
<rect x="367.80" y="665.30" width="0.90" height="4.95" fill="#111" opacity="0.48"/>
<rect x="368.70" y="665.30" width="1.10" height="4.95" fill="#111" opacity="0.43"/>
<rect x="372.90" y="665.30" width="1.30" height="4.95" fill="#111" opacity="0.67"/>
<rect x="374.20" y="665.30" width="0.70" height="4.95" fill="#111" opacity="0.92"/>
<rect x="374.90" y="665.30" width="1.30" height="4.95" fill="#111" opacity="0.60"/>
<rect x="380.30" y="665.30" width="1.10" height="4.95" fill="#111" opacity="0.31"/>
<rect x="362.90" y="670.20" width="1.30" height="4.95" fill="#111" opacity="0.90"/>
<rect x="368.20" y="670.20" width="1.30" height="4.95" fill="#111" opacity="0.72"/>
<rect x="369.50" y="670.20" width="0.70" height="4.95" fill="#111" opacity="0.83"/>
<rect x="371.10" y="670.20" width="0.90" height="4.95" fill="#111" opacity="1.00"/>
<rect x="374.60" y="670.20" width="1.30" height="4.95" fill="#111" opacity="0.92"/>
<rect x="375.90" y="670.20" width="0.70" height="4.95" fill="#111" opacity="0.60"/>
<rect x="376.60" y="670.20" width="0.70" height="4.95" fill="#111" opacity="1.00"/>
<rect x="378.90" y="670.20" width="1.10" height="4.95" fill="#111" opacity="0.62"/>
<rect x="383.60" y="670.20" width="1.10" height="4.95" fill="#111" opacity="0.73"/>
<rect x="384.70" y="670.20" width="1.10" height="4.95" fill="#111" opacity="0.41"/>
<rect x="366.20" y="675.10" width="1.30" height="4.95" fill="#111" opacity="0.85"/>
<rect x="368.20" y="675.10" width="0.70" height="4.95" fill="#111" opacity="0.81"/>
<rect x="369.60" y="675.10" width="0.90" height="4.95" fill="#111" opacity="0.99"/>
<rect x="370.50" y="675.10" width="1.10" height="4.95" fill="#111" opacity="1.00"/>
<rect x="371.60" y="675.10" width="0.70" height="4.95" fill="#111" opacity="1.00"/>
<rect x="372.30" y="675.10" width="1.10" height="4.95" fill="#111" opacity="0.41"/>
<rect x="374.50" y="675.10" width="0.70" height="4.95" fill="#111" opacity="1.00"/>
<rect x="365.30" y="680.00" width="0.90" height="4.95" fill="#111" opacity="0.99"/>
<rect x="366.90" y="680.00" width="0.70" height="4.95" fill="#111" opacity="1.00"/>
<rect x="367.60" y="680.00" width="0.70" height="4.95" fill="#111" opacity="0.87"/>
<rect x="375.60" y="680.00" width="0.90" height="4.95" fill="#111" opacity="1.00"/>
<rect x="362.80" y="684.90" width="1.30" height="4.95" fill="#111" opacity="0.88"/>
<rect x="367.00" y="684.90" width="0.90" height="4.95" fill="#111" opacity="0.82"/>
<rect x="367.90" y="684.90" width="0.70" height="4.95" fill="#111" opacity="1.00"/>
<rect x="368.60" y="684.90" width="0.70" height="4.95" fill="#111" opacity="0.65"/>
<rect x="369.30" y="684.90" width="1.30" height="4.95" fill="#111" opacity="1.00"/>
<rect x="370.60" y="684.90" width="0.70" height="4.95" fill="#111" opacity="0.84"/>
<rect x="371.30" y="684.90" width="0.90" height="4.95" fill="#111" opacity="0.78"/>
<rect x="372.20" y="684.90" width="0.90" height="4.95" fill="#111" opacity="1.00"/>
<rect x="373.10" y="684.90" width="1.30" height="4.95" fill="#111" opacity="0.77"/>
<rect x="374.40" y="684.90" width="0.70" height="4.95" fill="#111" opacity="0.99"/>
<rect x="375.10" y="684.90" width="1.30" height="4.95" fill="#111" opacity="0.91"/>
<rect x="376.40" y="684.90" width="0.90" height="4.95" fill="#111" opacity="0.71"/>
<rect x="377.30" y="684.90" width="0.70" height="4.95" fill="#111" opacity="0.86"/>
<rect x="381.50" y="684.90" width="1.30" height="4.95" fill="#111" opacity="0.54"/>
<rect x="363.50" y="689.80" width="0.70" height="4.95" fill="#111" opacity="0.56"/>
<rect x="364.20" y="689.80" width="1.10" height="4.95" fill="#111" opacity="0.69"/>
<rect x="366.40" y="689.80" width="0.90" height="4.95" fill="#111" opacity="0.50"/>
<rect x="367.30" y="689.80" width="0.70" height="4.95" fill="#111" opacity="1.00"/>
<rect x="370.20" y="689.80" width="0.70" height="4.95" fill="#111" opacity="1.00"/>
<rect x="370.90" y="689.80" width="1.30" height="4.95" fill="#111" opacity="0.85"/>
<rect x="372.90" y="689.80" width="0.70" height="4.95" fill="#111" opacity="0.58"/>
<rect x="382.40" y="689.80" width="0.90" height="4.95" fill="#111" opacity="0.50"/>
<rect x="383.30" y="689.80" width="1.10" height="4.95" fill="#111" opacity="0.92"/>
<rect x="384.40" y="689.80" width="0.90" height="4.95" fill="#111" opacity="0.36"/>
<rect x="366.10" y="694.70" width="1.10" height="4.95" fill="#111" opacity="0.90"/>
<rect x="367.20" y="694.70" width="1.30" height="4.95" fill="#111" opacity="1.00"/>
<rect x="368.50" y="694.70" width="1.30" height="4.95" fill="#111" opacity="0.74"/>
<rect x="371.80" y="694.70" width="1.30" height="4.95" fill="#111" opacity="0.97"/>
<rect x="373.10" y="694.70" width="1.30" height="4.95" fill="#111" opacity="0.85"/>
<rect x="374.40" y="694.70" width="1.10" height="4.95" fill="#111" opacity="0.90"/>
<rect x="375.50" y="694.70" width="1.10" height="4.95" fill="#111" opacity="0.68"/>
<rect x="376.60" y="694.70" width="0.90" height="4.95" fill="#111" opacity="1.00"/>
<rect x="377.50" y="694.70" width="1.10" height="4.95" fill="#111" opacity="0.91"/>
<rect x="400.30" y="529.20" width="0.70" height="4.87" fill="#111" opacity="0.59"/>
<rect x="401.00" y="529.20" width="0.90" height="4.87" fill="#111" opacity="0.77"/>
<rect x="403.00" y="529.20" width="1.30" height="4.87" fill="#111" opacity="1.00"/>
<rect x="405.00" y="529.20" width="0.70" height="4.87" fill="#111" opacity="0.94"/>
<rect x="406.60" y="529.20" width="1.30" height="4.87" fill="#111" opacity="1.00"/>
<rect x="409.00" y="529.20" width="1.10" height="4.87" fill="#111" opacity="0.76"/>
<rect x="414.30" y="529.20" width="1.30" height="4.87" fill="#111" opacity="0.37"/>
<rect x="400.70" y="534.02" width="0.70" height="4.87" fill="#111" opacity="0.93"/>
<rect x="401.40" y="534.02" width="1.10" height="4.87" fill="#111" opacity="0.99"/>
<rect x="402.50" y="534.02" width="0.90" height="4.87" fill="#111" opacity="0.99"/>
<rect x="404.50" y="534.02" width="0.70" height="4.87" fill="#111" opacity="0.76"/>
<rect x="406.50" y="534.02" width="1.10" height="4.87" fill="#111" opacity="0.90"/>
<rect x="409.80" y="534.02" width="0.70" height="4.87" fill="#111" opacity="0.93"/>
<rect x="400.70" y="538.84" width="1.30" height="4.87" fill="#111" opacity="0.92"/>
<rect x="402.70" y="538.84" width="1.10" height="4.87" fill="#111" opacity="1.00"/>
<rect x="405.80" y="538.84" width="0.90" height="4.87" fill="#111" opacity="1.00"/>
<rect x="406.70" y="538.84" width="0.90" height="4.87" fill="#111" opacity="0.94"/>
<rect x="407.60" y="538.84" width="0.70" height="4.87" fill="#111" opacity="0.71"/>
<rect x="400.90" y="543.66" width="1.30" height="4.87" fill="#111" opacity="1.00"/>
<rect x="402.20" y="543.66" width="1.30" height="4.87" fill="#111" opacity="0.91"/>
<rect x="403.50" y="543.66" width="1.30" height="4.87" fill="#111" opacity="0.81"/>
<rect x="404.80" y="543.66" width="0.90" height="4.87" fill="#111" opacity="0.84"/>
<rect x="405.70" y="543.66" width="0.90" height="4.87" fill="#111" opacity="0.63"/>
<rect x="406.60" y="543.66" width="1.10" height="4.87" fill="#111" opacity="1.00"/>
<rect x="402.10" y="548.48" width="0.90" height="4.87" fill="#111" opacity="1.00"/>
<rect x="403.00" y="548.48" width="1.10" height="4.87" fill="#111" opacity="1.00"/>
<rect x="404.10" y="548.48" width="1.10" height="4.87" fill="#111" opacity="0.94"/>
<rect x="406.30" y="548.48" width="1.30" height="4.87" fill="#111" opacity="0.97"/>
<rect x="408.30" y="548.48" width="0.70" height="4.87" fill="#111" opacity="0.72"/>
<rect x="411.40" y="548.48" width="1.30" height="4.87" fill="#111" opacity="0.28"/>
<rect x="420.00" y="548.48" width="0.90" height="4.87" fill="#111" opacity="0.47"/>
<rect x="396.30" y="553.30" width="0.70" height="4.87" fill="#111" opacity="0.60"/>
<rect x="402.10" y="553.30" width="0.90" height="4.87" fill="#111" opacity="0.63"/>
<rect x="403.90" y="553.30" width="1.30" height="4.87" fill="#111" opacity="0.81"/>
<rect x="405.20" y="553.30" width="0.70" height="4.87" fill="#111" opacity="1.00"/>
<rect x="406.60" y="553.30" width="0.70" height="4.87" fill="#111" opacity="0.95"/>
<rect x="407.30" y="553.30" width="0.90" height="4.87" fill="#111" opacity="0.71"/>
<rect x="409.50" y="553.30" width="1.30" height="4.87" fill="#111" opacity="0.68"/>
<rect x="402.20" y="558.12" width="0.70" height="4.87" fill="#111" opacity="1.00"/>
<rect x="402.90" y="558.12" width="1.30" height="4.87" fill="#111" opacity="1.00"/>
<rect x="404.20" y="558.12" width="0.90" height="4.87" fill="#111" opacity="0.90"/>
<rect x="405.10" y="558.12" width="0.90" height="4.87" fill="#111" opacity="1.00"/>
<rect x="406.00" y="558.12" width="0.70" height="4.87" fill="#111" opacity="0.76"/>
<rect x="407.60" y="558.12" width="0.70" height="4.87" fill="#111" opacity="1.00"/>
<rect x="411.60" y="558.12" width="0.90" height="4.87" fill="#111" opacity="0.52"/>
<rect x="412.50" y="558.12" width="0.70" height="4.87" fill="#111" opacity="0.92"/>
<rect x="404.10" y="562.94" width="0.70" height="4.87" fill="#111" opacity="0.95"/>
<rect x="404.80" y="562.94" width="1.10" height="4.87" fill="#111" opacity="0.86"/>
<rect x="405.90" y="562.94" width="1.10" height="4.87" fill="#111" opacity="1.00"/>
<rect x="407.90" y="562.94" width="1.10" height="4.87" fill="#111" opacity="1.00"/>
<rect x="413.30" y="562.94" width="0.90" height="4.87" fill="#111" opacity="0.34"/>
<rect x="392.30" y="567.76" width="1.30" height="4.87" fill="#111" opacity="0.28"/>
<rect x="403.80" y="567.76" width="0.70" height="4.87" fill="#111" opacity="0.92"/>
<rect x="404.50" y="567.76" width="0.90" height="4.87" fill="#111" opacity="0.63"/>
<rect x="405.40" y="567.76" width="0.90" height="4.87" fill="#111" opacity="0.96"/>
<rect x="406.30" y="567.76" width="1.10" height="4.87" fill="#111" opacity="1.00"/>
<rect x="408.10" y="567.76" width="1.30" height="4.87" fill="#111" opacity="1.00"/>
<rect x="419.40" y="567.76" width="0.70" height="4.87" fill="#111" opacity="0.38"/>
<rect x="403.40" y="572.58" width="0.70" height="4.87" fill="#111" opacity="0.84"/>
<rect x="404.10" y="572.58" width="0.90" height="4.87" fill="#111" opacity="1.00"/>
<rect x="406.10" y="572.58" width="1.30" height="4.87" fill="#111" opacity="0.88"/>
<rect x="407.40" y="572.58" width="0.70" height="4.87" fill="#111" opacity="1.00"/>
<rect x="408.80" y="572.58" width="1.30" height="4.87" fill="#111" opacity="0.83"/>
<rect x="405.40" y="592.37" width="0.90" height="4.92" fill="#111" opacity="0.42"/>
<rect x="391.70" y="611.85" width="0.70" height="4.92" fill="#111" opacity="0.88"/>
<rect x="404.80" y="611.85" width="1.10" height="4.92" fill="#111" opacity="0.63"/>
<rect x="405.10" y="616.72" width="1.10" height="4.92" fill="#111" opacity="0.50"/>
<rect x="417.50" y="616.72" width="0.90" height="4.92" fill="#111" opacity="0.60"/>
<rect x="414.60" y="626.46" width="0.90" height="4.92" fill="#111" opacity="0.78"/>
<rect x="395.00" y="655.50" width="0.70" height="4.95" fill="#111" opacity="0.77"/>
<rect x="419.30" y="655.50" width="1.10" height="4.95" fill="#111" opacity="0.53"/>
<rect x="401.00" y="660.40" width="0.90" height="4.95" fill="#111" opacity="0.65"/>
<rect x="391.90" y="665.30" width="0.70" height="4.95" fill="#111" opacity="0.28"/>
<rect x="404.70" y="665.30" width="0.70" height="4.95" fill="#111" opacity="0.58"/>
<rect x="398.80" y="670.20" width="0.70" height="4.95" fill="#111" opacity="0.41"/>
<rect x="406.00" y="670.20" width="1.30" height="4.95" fill="#111" opacity="0.50"/>
<rect x="409.30" y="670.20" width="0.90" height="4.95" fill="#111" opacity="0.62"/>
<rect x="422.80" y="670.20" width="1.30" height="4.95" fill="#111" opacity="0.82"/>
<rect x="395.40" y="680.00" width="0.90" height="4.95" fill="#111" opacity="0.41"/>
<rect x="395.20" y="689.80" width="0.90" height="4.95" fill="#111" opacity="0.65"/>
<rect x="411.80" y="689.80" width="0.70" height="4.95" fill="#111" opacity="0.28"/>
<rect x="413.80" y="689.80" width="0.70" height="4.95" fill="#111" opacity="0.73"/>
<rect x="394.40" y="694.70" width="1.30" height="4.95" fill="#111" opacity="0.64"/>
</g>
<g id="p_k">
<text x="518.40" y="499.80" text-anchor="middle" textLength="100.00" lengthAdjust="spacingAndGlyphs" stroke="#000" stroke-width="0.22">Percentage multimodal</text>
<line x1="477.60" y1="526.40" x2="559.20" y2="526.40" stroke="#888" stroke-width="0.9" />
<line x1="480.76" y1="523.60" x2="480.76" y2="526.40" stroke="#888" stroke-width="0.8" />
<text x="480.76" y="518.20" text-anchor="middle" stroke="#000" stroke-width="0.22">20</text>
<line x1="504.70" y1="523.60" x2="504.70" y2="526.40" stroke="#888" stroke-width="0.8" />
<text x="504.70" y="518.20" text-anchor="middle" stroke="#000" stroke-width="0.22">0</text>
<line x1="528.64" y1="523.60" x2="528.64" y2="526.40" stroke="#888" stroke-width="0.8" />
<text x="528.64" y="518.20" text-anchor="middle" stroke="#000" stroke-width="0.22">20</text>
<line x1="552.58" y1="523.60" x2="552.58" y2="526.40" stroke="#888" stroke-width="0.8" />
<text x="552.58" y="518.20" text-anchor="middle" stroke="#000" stroke-width="0.22">40</text>
<text x="473.60" y="539.30" text-anchor="end" stroke="#000" stroke-width="0.22">SCs</text>
<rect x="502.31" y="530.70" width="11.49" height="10.20" fill="#e8488a" stroke="#1a1a1a" stroke-width="1.0" />
<text x="473.60" y="556.26" text-anchor="end" stroke="#000" stroke-width="0.22">SCm</text>
<rect x="498.24" y="547.66" width="19.87" height="10.20" fill="#0a5cf5" stroke="#1a1a1a" stroke-width="1.0" />
<text x="473.60" y="573.22" text-anchor="end" stroke="#000" stroke-width="0.22">dPAG</text>
<rect x="502.31" y="564.62" width="9.34" height="10.20" fill="#5af0b4" stroke="#1a1a1a" stroke-width="1.0" />
<text x="473.60" y="590.18" text-anchor="end" stroke="#000" stroke-width="0.22">vPAG</text>
<rect x="502.31" y="581.58" width="11.49" height="10.20" fill="#0a9e58" stroke="#1a1a1a" stroke-width="1.0" />
<text x="473.60" y="607.14" text-anchor="end" stroke="#000" stroke-width="0.22">MRN</text>
<rect x="499.43" y="598.54" width="17.95" height="10.20" fill="#ff9500" stroke="#1a1a1a" stroke-width="1.0" />
<text x="473.60" y="624.10" text-anchor="end" stroke="#000" stroke-width="0.22">SPFp</text>
<rect x="501.59" y="615.50" width="51.71" height="10.20" fill="#5c3310" stroke="#1a1a1a" stroke-width="1.0" />
<text x="473.60" y="641.06" text-anchor="end" stroke="#000" stroke-width="0.22">SN</text>
<rect x="492.25" y="632.46" width="27.77" height="10.20" fill="#9cf58c" stroke="#1a1a1a" stroke-width="1.0" />
<text x="473.60" y="658.02" text-anchor="end" stroke="#000" stroke-width="0.22">RN</text>
<rect x="498.00" y="649.42" width="11.73" height="10.20" fill="#1ab8e0" stroke="#1a1a1a" stroke-width="1.0" />
<text x="473.60" y="674.98" text-anchor="end" stroke="#000" stroke-width="0.22">RRF</text>
<rect x="502.55" y="666.38" width="11.01" height="10.20" fill="#7d7e82" stroke="#1a1a1a" stroke-width="1.0" />
<line x1="499.60" y1="526.40" x2="499.60" y2="680.00" stroke="#222" stroke-width="0.7" stroke-dasharray="2.6 1.4"/>
<line x1="518.40" y1="526.40" x2="518.40" y2="680.00" stroke="#222" stroke-width="0.7" stroke-dasharray="2.6 1.4"/>
<line x1="504.70" y1="526.40" x2="504.70" y2="715.00" stroke="#333" stroke-width="1.2" />
<text x="554.20" y="620.00" font-size="8.50" text-anchor="middle" fill="#7a4a20" transform="rotate(90 554.20 620.00)" stroke="#7a4a20" stroke-width="0.22" letter-spacing="0.6">***</text>
<text x="482.80" y="637.60" font-size="8.50" text-anchor="middle" fill="#3fc878" transform="rotate(90 482.80 637.60)" stroke="#3fc878" stroke-width="0.22" letter-spacing="0.6">**</text>
<line x1="498.60" y1="690.20" x2="481.60" y2="690.20" stroke="#222" stroke-width="1.0" /><path d="M478.60 690.20 l4.40 -1.7 l-0.90 1.7 l0.90 1.7 Z" fill="#222" />
<line x1="510.40" y1="690.20" x2="527.60" y2="690.20" stroke="#222" stroke-width="1.0" /><path d="M530.60 690.20 l-4.40 -1.7 l0.90 1.7 l-0.90 1.7 Z" fill="#222" />
<text x="476.60" y="709.00" text-anchor="middle" stroke="#000" stroke-width="0.22">Inhibited</text>
<text x="476.60" y="721.40" text-anchor="middle" stroke="#000" stroke-width="0.22">(&lt;−2<tspan font-style="italic">σ</tspan>)</text>
<text x="537.40" y="709.00" text-anchor="middle" stroke="#000" stroke-width="0.22">Activated</text>
<text x="537.40" y="721.40" text-anchor="middle" stroke="#000" stroke-width="0.22">(&gt;2<tspan font-style="italic">σ</tspan>)</text>
</g>
<g id="p_l">
<rect x="618.30" y="525.20" width="18.30" height="18.20" fill="#dff0ee" />
<rect x="618.30" y="543.30" width="18.30" height="18.20" fill="#f5e9cd" />
<rect x="618.30" y="561.40" width="18.30" height="18.20" fill="#dcefed" />
<rect x="618.30" y="579.50" width="18.30" height="18.20" fill="#f4f2f0" />
<rect x="618.30" y="597.60" width="18.30" height="18.20" fill="#f6ecdc" />
<rect x="618.30" y="615.70" width="18.30" height="18.20" fill="#f4efea" />
<rect x="618.30" y="633.80" width="18.30" height="18.20" fill="#f7eedd" />
<rect x="618.30" y="651.90" width="18.30" height="18.20" fill="#efd6a3" />
<rect x="618.30" y="670.00" width="18.30" height="18.20" fill="#bd7a26" />
<rect x="636.50" y="525.20" width="18.30" height="18.20" fill="#f5efe6" />
<rect x="636.50" y="543.30" width="18.30" height="18.20" fill="#f6edd8" />
<rect x="636.50" y="561.40" width="18.30" height="18.20" fill="#efd8a4" />
<rect x="636.50" y="579.50" width="18.30" height="18.20" fill="#f6ecd6" />
<rect x="636.50" y="597.60" width="18.30" height="18.20" fill="#f3f1ee" />
<rect x="636.50" y="615.70" width="18.30" height="18.20" fill="#f1dfb3" />
<rect x="636.50" y="633.80" width="18.30" height="18.20" fill="#aaddd8" />
<rect x="636.50" y="651.90" width="18.30" height="18.20" fill="#f4eee8" />
<rect x="636.50" y="670.00" width="18.30" height="18.20" fill="#f6eedc" />
<rect x="654.70" y="525.20" width="18.30" height="18.20" fill="#f3f2f1" />
<rect x="654.70" y="543.30" width="18.30" height="18.20" fill="#f2e2b6" />
<rect x="654.70" y="561.40" width="18.30" height="18.20" fill="#f5ecd8" />
<rect x="654.70" y="579.50" width="18.30" height="18.20" fill="#ebf1ef" />
<rect x="654.70" y="597.60" width="18.30" height="18.20" fill="#f5eee0" />
<rect x="654.70" y="615.70" width="18.30" height="18.20" fill="#4f2c0a" />
<rect x="654.70" y="633.80" width="18.30" height="18.20" fill="#c6e8e4" />
<rect x="654.70" y="651.90" width="18.30" height="18.20" fill="#f6ebd0" />
<rect x="654.70" y="670.00" width="18.30" height="18.20" fill="#ecd09a" />
<line x1="618.30" y1="525.20" x2="618.30" y2="688.10" stroke="#8f8f8f" stroke-width="0.8" />
<line x1="636.50" y1="525.20" x2="636.50" y2="688.10" stroke="#b9b9b9" stroke-width="0.8" />
<line x1="654.70" y1="525.20" x2="654.70" y2="688.10" stroke="#b9b9b9" stroke-width="0.8" />
<line x1="672.90" y1="525.20" x2="672.90" y2="688.10" stroke="#8f8f8f" stroke-width="0.8" />
<line x1="618.30" y1="525.20" x2="672.90" y2="525.20" stroke="#8f8f8f" stroke-width="0.8" />
<line x1="618.30" y1="688.10" x2="672.90" y2="688.10" stroke="#8f8f8f" stroke-width="0.8" />
<text x="613.60" y="537.85" text-anchor="end" stroke="#000" stroke-width="0.22">SCs</text>
<text x="613.60" y="555.95" text-anchor="end" stroke="#000" stroke-width="0.22">SCm</text>
<text x="613.60" y="574.05" text-anchor="end" stroke="#000" stroke-width="0.22">dPAG</text>
<text x="613.60" y="592.15" text-anchor="end" stroke="#000" stroke-width="0.22">vPAG</text>
<text x="613.60" y="610.25" text-anchor="end" stroke="#000" stroke-width="0.22">MRN</text>
<text x="613.60" y="628.35" text-anchor="end" stroke="#000" stroke-width="0.22">SPFp</text>
<text x="613.60" y="646.45" text-anchor="end" stroke="#000" stroke-width="0.22">SN</text>
<text x="613.60" y="664.55" text-anchor="end" stroke="#000" stroke-width="0.22">RN</text>
<text x="613.60" y="682.65" text-anchor="end" stroke="#000" stroke-width="0.22">RRF</text>
<text x="663.80" y="628.35" font-size="8.50" text-anchor="middle" fill="#fff" stroke="#fff" stroke-width="0.22" letter-spacing="0.5">***</text>
<text x="663.80" y="682.65" font-size="8.50" text-anchor="middle" fill="#fff" stroke="#fff" stroke-width="0.22" letter-spacing="0.5">***</text>
<text x="625.80" y="521.60" transform="rotate(-45 625.80 521.60)" stroke="#000" stroke-width="0.22">Stim<tspan font-size="6.2" stroke-width="0.06" dy="-3.8" dx="1.5">MPOA</tspan></text>
<text x="645.40" y="521.60" transform="rotate(-45 645.40 521.60)" stroke="#000" stroke-width="0.22">Contact</text>
<text x="664.40" y="521.60" transform="rotate(-45 664.40 521.60)" stroke="#000" stroke-width="0.22">Both</text>
<defs><linearGradient id="cbar" x1="0" y1="0" x2="1" y2="0"><stop offset="0" stop-color="#003c30"/><stop offset="0.12" stop-color="#01665e"/><stop offset="0.28" stop-color="#5ab4ac"/><stop offset="0.42" stop-color="#c7eae5"/><stop offset="0.5" stop-color="#f5f5f5"/><stop offset="0.6" stop-color="#f6e8c3"/><stop offset="0.74" stop-color="#d8b365"/><stop offset="0.88" stop-color="#8c510a"/><stop offset="1" stop-color="#543005"/></linearGradient></defs>
<rect x="622.40" y="694.30" width="44.60" height="6.30" fill="url(#cbar)" stroke="#555" stroke-width="0.5" />
<line x1="644.60" y1="699.00" x2="644.60" y2="700.60" stroke="#333" stroke-width="0.6" />
<text x="622.40" y="713.40" text-anchor="middle" stroke="#000" stroke-width="0.22">−1</text>
<text x="644.60" y="713.40" text-anchor="middle" stroke="#000" stroke-width="0.22">0</text>
<text x="665.80" y="713.40" text-anchor="middle" stroke="#000" stroke-width="0.22">1</text>
<text x="644.30" y="728.40" text-anchor="middle" textLength="77.60" lengthAdjust="spacingAndGlyphs" stroke="#000" stroke-width="0.22">Average FR (norm)</text>
</g>
</svg>
</body></html>
